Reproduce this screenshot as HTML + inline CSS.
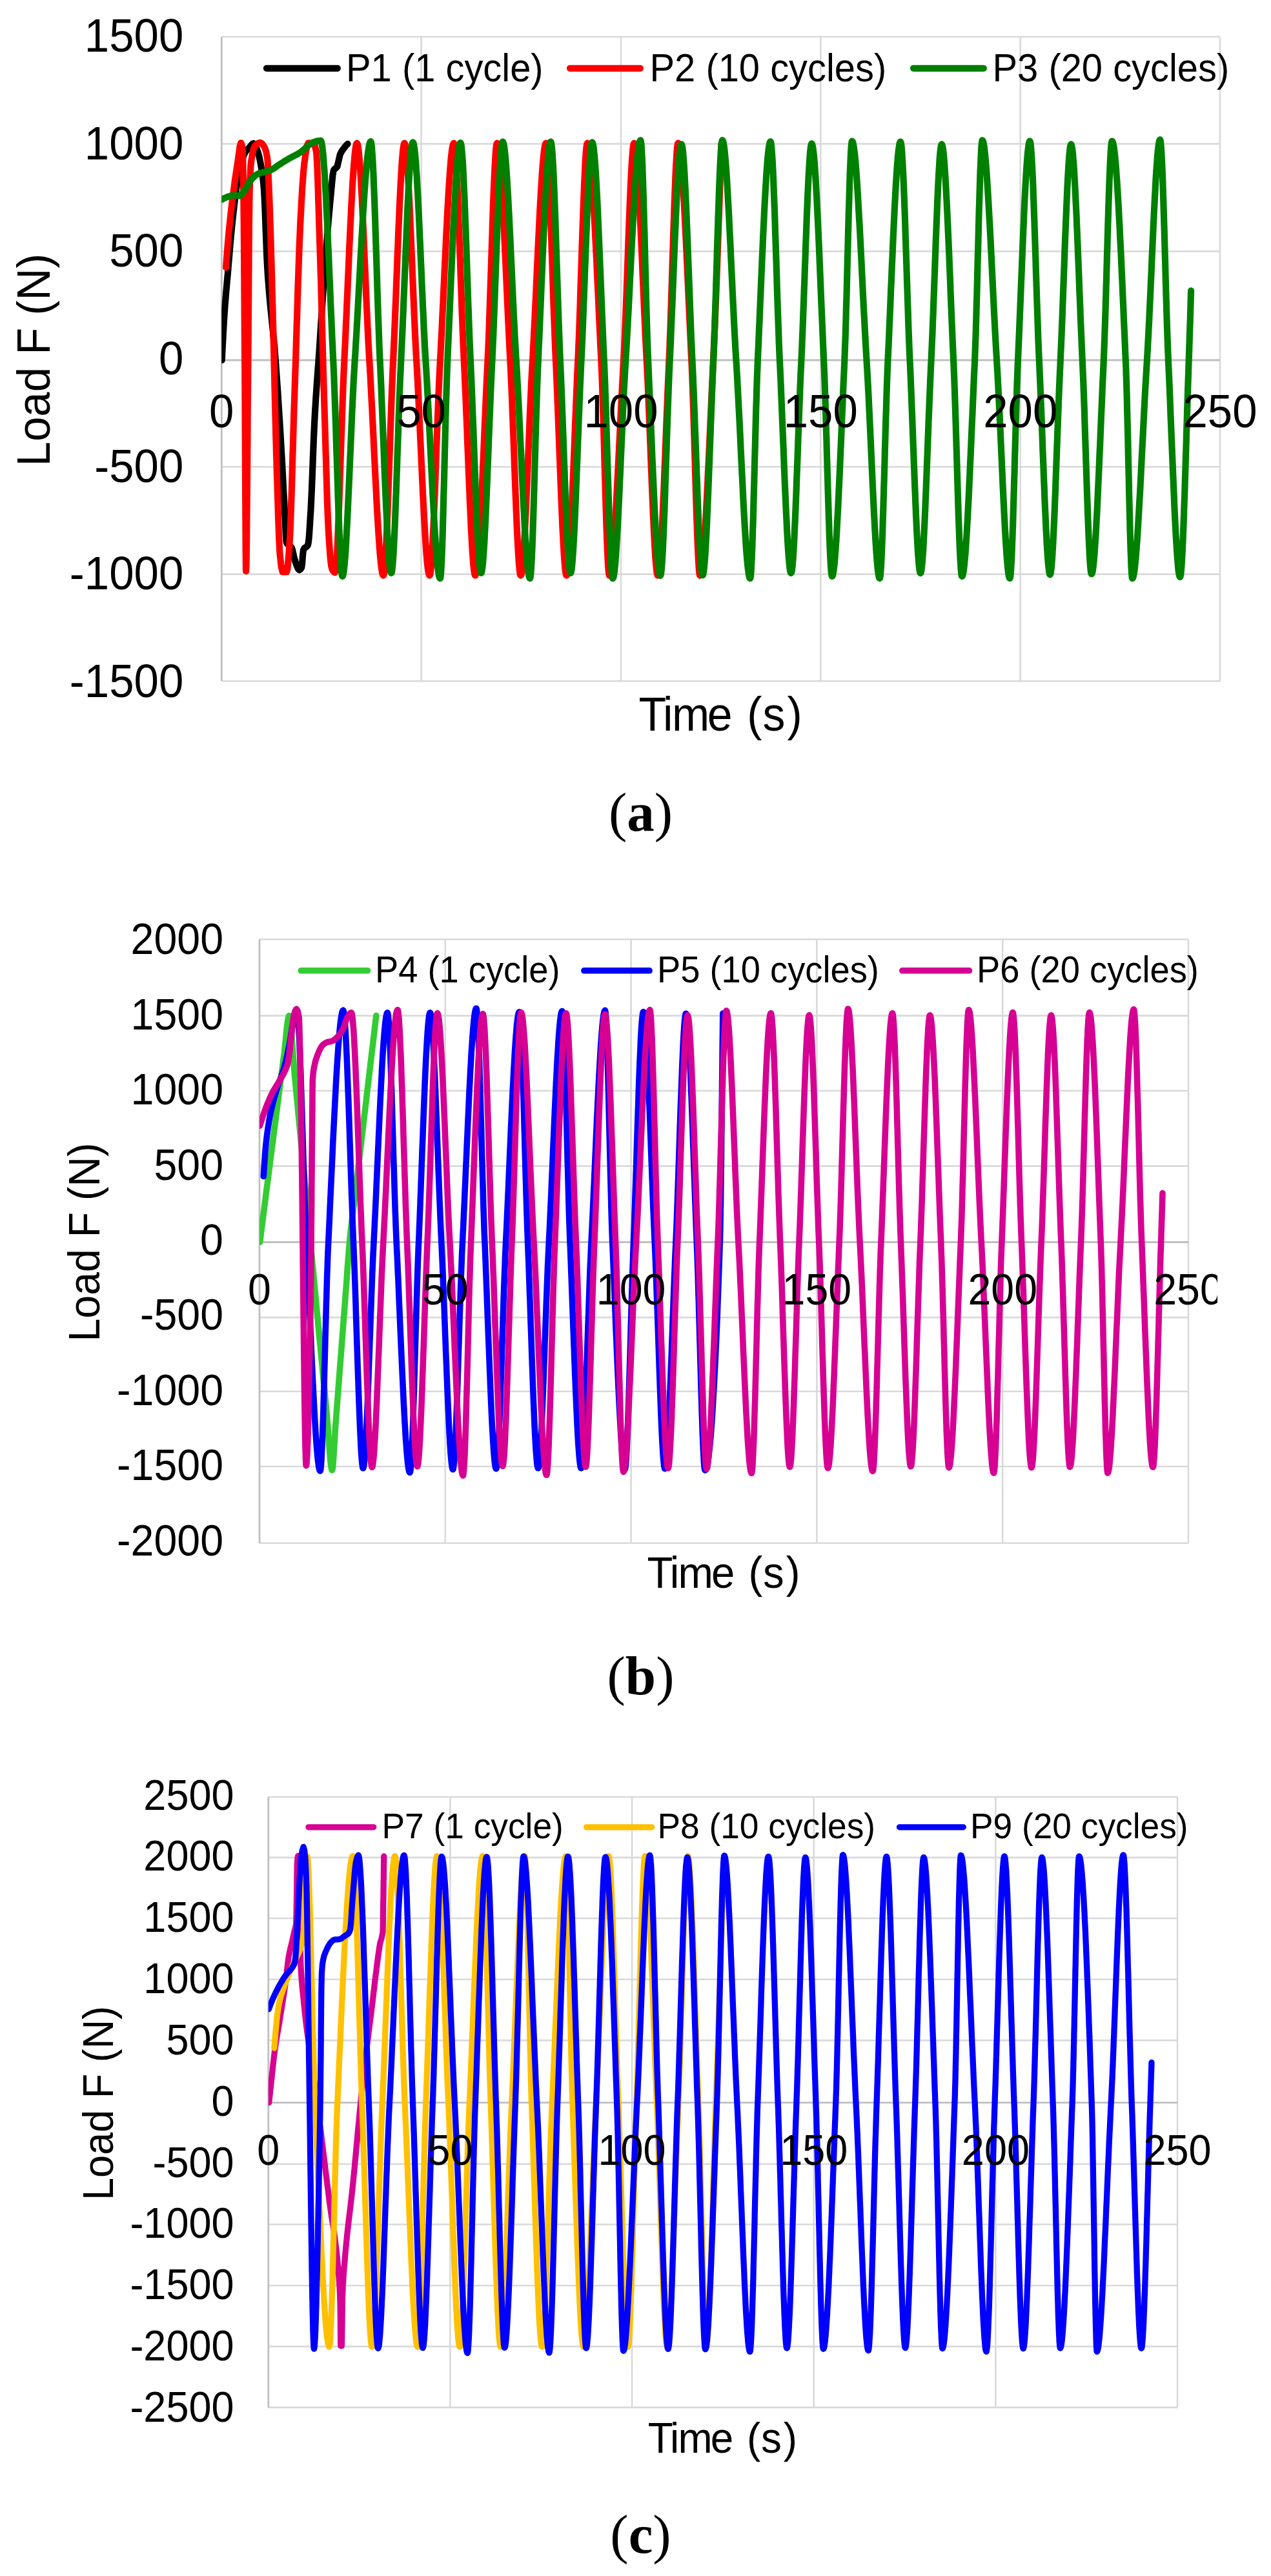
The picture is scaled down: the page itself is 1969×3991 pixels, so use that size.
<!DOCTYPE html>
<html lang="en"><head><meta charset="utf-8"><title>Load F versus time</title>
<style>
html,body{margin:0;padding:0;background:#fff;}
body{width:1969px;height:3991px;overflow:hidden;}
svg{display:block;font-family:"Liberation Sans",Arial,Helvetica,sans-serif;}
svg .cap{font-family:"Liberation Serif","Times New Roman",serif;}
</style></head><body>
<svg width="1969" height="3991" viewBox="0 0 1969 3991">
<rect width="1969" height="3991" fill="#ffffff"/>
<defs><clipPath id="clipb"><rect x="0" y="1380" width="1886" height="1300"/></clipPath></defs>
<g class="panel-a">
<g fill="none" stroke="#d9d9d9" stroke-width="2.6">
<line x1="343.3" y1="57" x2="1890" y2="57"/>
<line x1="343.3" y1="222.9" x2="1890" y2="222.9"/>
<line x1="343.3" y1="389.4" x2="1890" y2="389.4"/>
<line x1="343.3" y1="723.3" x2="1890" y2="723.3"/>
<line x1="343.3" y1="889.6" x2="1890" y2="889.6"/>
<line x1="343.3" y1="1055.2" x2="1890" y2="1055.2"/>
<line x1="652.6" y1="57" x2="652.6" y2="1055.2"/>
<line x1="962" y1="57" x2="962" y2="1055.2"/>
<line x1="1271.3" y1="57" x2="1271.3" y2="1055.2"/>
<line x1="1580.7" y1="57" x2="1580.7" y2="1055.2"/>
<line x1="1890" y1="57" x2="1890" y2="1055.2"/>
</g>
<g fill="none" stroke="#bfbfbf" stroke-width="2.8">
<line x1="343.3" y1="558" x2="1890" y2="558"/>
<line x1="343.3" y1="57" x2="343.3" y2="1055.2"/>
</g>
<clipPath id="plot-a"><rect x="343.3" y="37" width="1566.7" height="1038.2"/></clipPath>
<g clip-path="url(#plot-a)" fill="none" stroke-width="10.2" stroke-linecap="round" stroke-linejoin="round">
<path stroke="#000000" d="M343.8 558 L344.3 546.5 L344.9 535.3 L345.5 524.4 L346 514 L346.6 504.1 L347.1 494.8 L347.7 486.2 L348.5 474.4 L349.4 463.5 L350.2 453.4 L351.1 443.7 L351.9 434.3 L352.8 424.9 L353.6 415.2 L354.4 405.3 L355.3 395.1 L356.1 385.1 L357 375.3 L357.8 365.8 L358.7 356.9 L359.5 348.7 L360.7 337.3 L362 326.2 L363.2 315.5 L364.4 305.2 L365.7 295.7 L366.9 287 L368.1 279.3 L369.3 272.8 L370.9 265.6 L372.4 258.9 L373.9 252.8 L375.4 247.3 L376.9 242.6 L378.4 238.7 L380 235.8 L381.5 233.5 L383.1 231.8 L384.7 230.3 L386.3 228.7 L387.8 226.7 L389.4 224.6 L391 222.8 L392.5 222.1 L394.3 223.3 L396.1 226.5 L397.9 230.9 L399.6 235.8 L401.3 241.7 L403 249.7 L404.7 259.1 L406.1 267.3 L407.4 277.2 L408.7 290.3 L409.1 296 L409.5 303.4 L409.9 312.2 L410.4 322.1 L410.8 332.7 L411.2 344 L411.6 355.5 L412.1 367 L412.5 378.2 L412.9 388.9 L413.3 398.9 L413.8 407.7 L414.2 415.2 L415 427.9 L415.9 439.5 L416.7 450.2 L417.5 460 L418.4 469.3 L419.2 478 L420.1 486.3 L420.9 494.4 L421.7 502.5 L422.6 510.6 L423.4 518.9 L424.3 527.6 L425.1 536.8 L425.9 546.6 L426.8 557.2 L427.4 565.3 L428 573.7 L428.6 582.3 L429.2 591.1 L429.9 600.2 L430.5 609.4 L431.1 618.8 L431.7 628.4 L432.3 638.1 L433 648 L433.6 658 L434.2 668.1 L434.8 678.4 L435.4 688.7 L435.9 697.5 L436.5 706.5 L437 715.9 L437.5 725.4 L438 735.1 L438.5 745 L439 754.9 L439.5 764.8 L440.1 774.7 L440.6 784.5 L441.1 794.2 L441.6 803.7 L442.1 813 L442.6 823.9 L443.2 834.6 L443.7 840.2 L445.3 843.2 L447 844.7 L448.6 845.6 L450.3 846.7 L452 848.8 L453.5 853.8 L455.1 861.2 L456.7 867.4 L458.4 872.7 L460.2 877.8 L462 881.5 L463.8 883 L465.5 881.9 L467.3 879.1 L468.2 871.7 L469.1 859.4 L470 851.9 L471.8 849.1 L473.6 847.9 L475.4 846.7 L477.1 844.1 L477.8 840.6 L478.6 833.8 L479.3 824.4 L480 813.4 L480.7 801.6 L481.5 789.6 L481.8 782.7 L482.2 774.9 L482.6 766.3 L483 757 L483.4 747.2 L483.8 737 L484.2 726.6 L484.6 716 L485 705.5 L485.4 695.1 L485.8 685 L486.2 675.3 L486.6 666.2 L487 657.7 L487.4 650 L488 638.4 L488.7 627.4 L489.3 617 L490 607.2 L490.6 597.7 L491.3 588.5 L491.9 579.5 L492.6 570.6 L493.3 561.7 L493.9 552.6 L494.6 543.2 L495.2 533.5 L495.8 524.4 L496.4 515.1 L497 505.7 L497.6 496.3 L498.3 486.9 L498.9 477.5 L499.5 468.1 L500.1 458.9 L500.7 449.8 L501.3 440.8 L501.9 432 L502.5 423.5 L503.1 415.2 L503.8 405.1 L504.6 395.1 L505.4 385.3 L506.1 375.6 L506.9 366.2 L507.6 356.9 L508.4 347.8 L509.1 338.8 L509.9 330.2 L510.7 321.7 L511.4 313.6 L512.2 305.7 L512.9 298.1 L514.2 284 L515.5 270.9 L516.9 263.8 L518.7 261.5 L520.5 260.3 L522.4 258.3 L524.5 249.4 L526.7 239.6 L528.7 235.6 L530.6 232.6 L532.6 229.9 L534.6 227.3 L536.5 225 L538.5 222.9"/>
<path stroke="#ff0000" d="M350 414.4 L350.8 403.7 L351.6 393.4 L352.4 383.4 L353.2 373.9 L354 364.9 L354.8 356.5 L355.9 345.5 L357 335.1 L358.1 325.2 L359.2 315.9 L360.4 306.8 L361.5 298.1 L362.8 287.9 L364.1 278.2 L365.5 268.9 L366.8 260 L368.2 251.3 L369.9 238.7 L371.6 226.7 L373.3 221.3 L374.5 224.1 L375.6 231.9 L375.9 235.2 L376.1 241.1 L376.3 249.4 L376.5 259.5 L376.8 271.2 L377 284.2 L377.2 298.1 L377.3 302.7 L377.3 307.9 L377.4 313.8 L377.5 320.1 L377.5 327 L377.6 334.4 L377.7 342.2 L377.8 350.5 L377.8 359.1 L377.9 368.1 L378 377.3 L378 386.9 L378.1 396.8 L378.2 407 L378.2 417.3 L378.3 427.8 L378.4 438.4 L378.4 449.1 L378.5 459.9 L378.6 470.6 L378.6 481.4 L378.7 492 L378.8 502.6 L378.8 513.1 L378.9 523.4 L379 533.5 L379 542 L379.1 551 L379.1 560.4 L379.2 570.1 L379.3 580.2 L379.3 590.7 L379.4 601.5 L379.4 612.6 L379.5 624 L379.5 635.5 L379.6 647.2 L379.6 659.1 L379.7 671 L379.8 683 L379.8 695 L379.9 706.9 L379.9 718.8 L380 730.7 L380 742.4 L380.1 753.9 L380.1 765.2 L380.2 776.2 L380.3 787 L380.3 797.3 L380.4 807.3 L380.4 816.9 L380.5 826 L380.5 834.6 L380.6 842.7 L380.6 850.2 L380.7 857.1 L380.8 863.3 L380.8 868.8 L380.9 873.6 L380.9 877.5 L381 880.7 L381 883 L381.1 884.5 L381.1 884.9 L381.2 884.4 L381.3 882.9 L381.4 880.4 L381.5 877.1 L381.6 872.8 L381.7 867.8 L381.8 861.9 L381.9 855.4 L382 848.1 L382.1 840.2 L382.2 831.7 L382.3 822.6 L382.3 813.1 L382.4 803 L382.5 792.6 L382.6 781.7 L382.7 770.5 L382.8 759.1 L382.9 747.3 L383 735.4 L383.1 723.3 L383.2 711.2 L383.3 699 L383.4 686.8 L383.5 674.6 L383.5 662.4 L383.6 650.4 L383.7 638.5 L383.8 626.8 L383.9 615.3 L384 604.1 L384.1 593.3 L384.2 582.8 L384.3 572.7 L384.4 564.1 L384.4 554.9 L384.5 545.2 L384.6 535.1 L384.7 524.7 L384.8 514 L384.8 503.1 L384.9 492 L385 480.7 L385.1 469.4 L385.2 458 L385.2 446.6 L385.3 435.3 L385.4 424.1 L385.5 413 L385.5 402.1 L385.6 391.4 L385.7 381.2 L385.8 371.3 L385.9 361.8 L385.9 352.7 L386 344.1 L386.1 336 L386.2 328.5 L386.3 321.6 L386.3 315.4 L386.4 309.9 L386.5 305.1 L386.6 301.2 L386.6 298.1 L387.1 283.6 L387.6 271.9 L388.1 262.8 L388.5 256 L389 251.3 L391 238.5 L392.9 230.2 L394.9 226 L396.5 224.3 L398.1 222.9 L399.6 221.9 L401.2 221.2 L402.8 221 L404.4 221.4 L405.9 222.6 L407.5 224.5 L409.1 227 L410.6 229.9 L412.4 235.3 L414.2 245.5 L414.7 251.5 L415.3 260.7 L415.8 272.2 L416.4 285 L416.9 298.1 L417.2 304.9 L417.5 312.1 L417.8 319.7 L418.1 327.6 L418.3 335.9 L418.6 344.4 L418.9 353.3 L419.2 362.4 L419.5 371.8 L419.7 381.3 L420 391.1 L420.3 401.1 L420.6 411.2 L420.9 421.5 L421.2 431.8 L421.4 442.2 L421.7 452.6 L422 463.1 L422.3 473.5 L422.6 483.8 L422.8 494.1 L423.1 502.9 L423.3 511.9 L423.5 521.1 L423.8 530.6 L424 540.2 L424.3 550.1 L424.5 560 L424.7 569.8 L425 579.7 L425.2 589.7 L425.4 599.7 L425.7 609.7 L425.9 619.7 L426.1 629.6 L426.4 639.4 L426.6 649.1 L426.9 658.7 L427.1 668.2 L427.3 677.4 L427.6 686.4 L427.8 695.2 L428 703.7 L428.3 711.9 L428.5 719.8 L428.7 727.4 L429.1 739 L429.5 750.8 L429.8 762.7 L430.2 774.5 L430.6 786.1 L430.9 797.4 L431.3 808.3 L431.7 818.6 L432 828.2 L432.4 837 L432.8 844.9 L433.1 851.7 L433.5 857.3 L433.9 861.6 L435.8 878.7 L437.8 886.1 L439.4 886.1 L440.9 886.1 L442.5 886.1 L444.1 886.1 L445.2 882.4 L446.2 872.6 L447.3 859.1 L448.4 844.1 L448.7 839.3 L449 833.8 L449.4 827.5 L449.7 820.6 L450 813.1 L450.3 805.1 L450.6 796.5 L450.9 787.5 L451.2 778 L451.6 768.2 L451.9 758.1 L452.2 747.7 L452.5 737.1 L452.8 726.3 L453.1 715.5 L453.4 704.6 L453.8 693.7 L454.1 682.8 L454.4 672 L454.7 661.3 L455 650.8 L455.3 640.5 L455.6 630.4 L456 620.7 L456.3 611.4 L456.6 602.1 L456.9 592.7 L457.2 583.1 L457.5 573.4 L457.9 563.6 L458.2 553.6 L458.5 543.5 L458.8 533.2 L459.1 523 L459.4 512.7 L459.7 502.4 L460.1 492.2 L460.4 482 L460.7 471.9 L461 461.9 L461.3 452 L461.6 442.2 L461.9 432.6 L462.3 423.1 L462.6 413.9 L462.9 404.8 L463.2 396 L463.5 387.5 L463.8 379.3 L464.1 371.4 L464.5 363.8 L464.8 356.6 L465.1 349.7 L465.4 343.1 L465.7 337 L466.4 324.8 L467 312.9 L467.7 301.6 L468.3 290.9 L469 280.9 L469.7 271.8 L470.3 263.8 L471 256.9 L471.6 251.3 L473.6 237.1 L475.6 226.1 L477.5 221.7 L479.1 221.7 L480.7 221.7 L482.2 221.7 L483.8 221.7 L485.4 221.7 L487.6 225.1 L489.7 233.8 L490.1 236.5 L490.5 240.9 L490.8 246.9 L491.2 254.2 L491.6 262.7 L491.9 272.2 L492.3 282.6 L492.7 293.7 L493 305.2 L493.4 317.2 L493.8 329.3 L494.1 341.4 L494.5 353.3 L494.9 364.9 L495.2 376 L495.5 383.8 L495.7 391.8 L496 400.2 L496.3 408.7 L496.5 417.4 L496.8 426.3 L497.1 435.3 L497.3 444.5 L497.6 453.8 L497.8 463.2 L498.1 472.7 L498.4 482.2 L498.6 491.9 L498.9 501.6 L499.2 511.3 L499.4 521.1 L499.7 530.8 L499.9 540.6 L500.2 550.3 L500.5 559.9 L500.7 569.4 L501 578.8 L501.3 588.1 L501.5 597.3 L501.8 606.5 L502 615.5 L502.3 624.3 L502.6 633.1 L502.8 641.6 L503.1 650 L503.4 660 L503.7 670.2 L504 680.6 L504.3 691.1 L504.6 701.7 L505 712.4 L505.3 722.9 L505.6 733.4 L505.9 743.8 L506.2 753.9 L506.5 763.7 L506.8 773.2 L507.1 782.2 L507.4 790.8 L507.8 798.9 L508.1 806.4 L508.4 813.2 L508.7 819.3 L509 824.6 L509.8 838 L510.7 850.5 L511.5 861.6 L512.4 870.8 L513.3 877.4 L514.1 881 L515.7 884.1 L517.3 886.1 L518.8 886.9 L519.2 886.3 L519.6 884.8 L520 882.2 L520.4 878.7 L520.9 874.3 L521.3 869 L521.7 863 L522.1 856.2 L522.5 848.7 L522.9 840.5 L523.3 831.8 L523.7 822.5 L524.1 812.7 L524.5 802.4 L524.9 791.7 L525.3 780.6 L525.7 769.2 L526.1 757.6 L526.5 745.7 L526.9 733.7 L527.3 721.5 L527.7 709.4 L528.1 697.2 L528.5 685 L528.9 672.9 L529.4 660.9 L529.8 649.1 L530.2 637.5 L530.6 626.1 L531 615.1 L531.4 604.4 L531.8 594.1 L532.2 584.3 L532.6 575 L533 566.2 L533.4 558 L533.9 547.3 L534.5 536.3 L535 525.1 L535.5 513.6 L536 501.8 L536.6 489.9 L537.1 477.9 L537.6 465.8 L538.2 453.5 L538.7 441.3 L539.2 429 L539.8 416.8 L540.3 404.6 L540.8 392.5 L541.3 380.7 L541.9 369.1 L542.4 357.6 L542.9 346.4 L543.5 335.5 L544 324.8 L544.5 314.5 L545.1 304.6 L545.6 295 L546.1 285.9 L546.6 277.2 L547.2 269.1 L547.7 261.4 L548.2 254.4 L548.8 247.9 L549.3 242.1 L549.8 236.9 L550.4 232.5 L550.9 228.8 L551.4 225.8 L551.9 223.7 L552.5 222.3 L553 221.9 L553.5 222.4 L554 223.9 L554.6 226.2 L555.1 229.5 L555.6 233.6 L556.1 238.5 L556.6 244.1 L557.2 250.5 L557.7 257.5 L558.2 265.1 L558.7 273.4 L559.2 282.2 L559.7 291.4 L560.3 301.2 L560.8 311.3 L561.3 321.9 L561.8 332.8 L562.3 343.9 L562.9 355.3 L563.4 367 L563.9 378.7 L564.4 390.7 L564.9 402.8 L565.5 415 L566 427.2 L566.5 439.3 L567 451.4 L567.5 463.3 L568 475.1 L568.6 486.7 L569.1 498 L569.6 509 L570.1 519.6 L570.6 529.9 L571.2 539.7 L571.7 549.1 L572.2 558 L572.8 567.7 L573.4 577.9 L574 588.4 L574.5 599.2 L575.1 610.2 L575.7 621.6 L576.3 633.1 L576.9 644.8 L577.5 656.6 L578.1 668.5 L578.7 680.5 L579.2 692.5 L579.8 704.5 L580.4 716.4 L581 728.3 L581.6 740 L582.2 751.7 L582.8 763.1 L583.3 774.2 L583.9 785.1 L584.5 795.7 L585.1 805.9 L585.7 815.7 L586.3 825.1 L586.9 834.1 L587.4 842.5 L588 850.4 L588.6 857.7 L589.2 864.4 L589.8 870.5 L590.4 875.9 L591 880.5 L591.6 884.4 L592.1 887.5 L592.7 889.7 L593.3 891.1 L593.9 891.6 L594.3 891.1 L594.7 889.6 L595.1 887.2 L595.5 884 L596 879.8 L596.4 874.9 L596.8 869.2 L597.2 862.8 L597.6 855.8 L598 848.1 L598.4 839.8 L598.8 830.9 L599.2 821.6 L599.7 811.8 L600.1 801.6 L600.5 791 L600.9 780.1 L601.3 768.9 L601.7 757.4 L602.1 745.8 L602.5 733.9 L602.9 722 L603.3 710 L603.8 698 L604.2 686 L604.6 674.1 L605 662.3 L605.4 650.5 L605.8 639 L606.2 627.7 L606.6 616.6 L607 605.8 L607.5 595.4 L607.9 585.4 L608.3 575.8 L608.7 566.6 L609.1 558 L609.6 548 L610 537.6 L610.5 526.8 L611 515.8 L611.5 504.4 L611.9 492.9 L612.4 481.1 L612.9 469.2 L613.4 457.1 L613.8 445 L614.3 432.8 L614.8 420.6 L615.2 408.4 L615.7 396.3 L616.2 384.3 L616.7 372.6 L617.1 361 L617.6 349.7 L618.1 338.6 L618.6 327.7 L619 317.2 L619.5 307 L620 297.3 L620.5 287.9 L620.9 279 L621.4 270.6 L621.9 262.8 L622.3 255.5 L622.8 248.9 L623.3 242.8 L623.8 237.5 L624.2 232.9 L624.7 229 L625.2 226 L625.7 223.7 L626.1 222.4 L626.6 221.9 L627.1 222.4 L627.6 223.8 L628.1 226.2 L628.6 229.4 L629.1 233.5 L629.6 238.4 L630.1 244 L630.6 250.3 L631.1 257.3 L631.6 264.9 L632.1 273.1 L632.6 281.9 L633.1 291.1 L633.6 300.8 L634.1 311 L634.6 321.5 L635.1 332.3 L635.6 343.4 L636.1 354.8 L636.6 366.4 L637.1 378.2 L637.6 390.1 L638.1 402.2 L638.6 414.4 L639.1 426.6 L639.6 438.8 L640.1 450.8 L640.6 462.8 L641.1 474.6 L641.6 486.2 L642.1 497.5 L642.6 508.5 L643.1 519.3 L643.6 529.6 L644.1 539.5 L644.6 549 L645.1 558 L645.7 567.6 L646.2 577.7 L646.8 588.1 L647.3 598.8 L647.9 609.8 L648.4 621.1 L649 632.6 L649.5 644.2 L650.1 656 L650.6 667.9 L651.2 679.9 L651.7 691.9 L652.3 703.9 L652.8 715.8 L653.4 727.7 L653.9 739.4 L654.5 751.1 L655 762.5 L655.6 773.7 L656.1 784.6 L656.7 795.2 L657.2 805.5 L657.8 815.3 L658.3 824.8 L658.9 833.8 L659.4 842.2 L660 850.2 L660.5 857.5 L661.1 864.3 L661.6 870.4 L662.2 875.8 L662.7 880.5 L663.3 884.4 L663.8 887.5 L664.4 889.7 L664.9 891.1 L665.5 891.6 L665.9 891.1 L666.4 889.6 L666.8 887.1 L667.3 883.8 L667.7 879.6 L668.2 874.5 L668.6 868.7 L669 862.2 L669.5 855 L669.9 847.1 L670.4 838.7 L670.8 829.7 L671.3 820.2 L671.7 810.3 L672.1 799.9 L672.6 789.2 L673 778.1 L673.5 766.8 L673.9 755.2 L674.4 743.4 L674.8 731.5 L675.3 719.5 L675.7 707.5 L676.1 695.5 L676.6 683.5 L677 671.6 L677.5 659.8 L677.9 648.1 L678.4 636.7 L678.8 625.5 L679.2 614.6 L679.7 604.1 L680.1 593.9 L680.6 584.2 L681 574.9 L681.5 566.2 L681.9 558 L682.5 547.5 L683 536.6 L683.6 525.5 L684.2 514 L684.8 502.4 L685.3 490.6 L685.9 478.6 L686.5 466.5 L687 454.3 L687.6 442.1 L688.2 429.9 L688.7 417.6 L689.3 405.4 L689.9 393.4 L690.5 381.5 L691 369.8 L691.6 358.4 L692.2 347.1 L692.7 336.1 L693.3 325.5 L693.9 315.1 L694.4 305.1 L695 295.5 L695.6 286.3 L696.2 277.6 L696.7 269.4 L697.3 261.7 L697.9 254.6 L698.4 248.1 L699 242.3 L699.6 237.1 L700.1 232.6 L700.7 228.8 L701.3 225.8 L701.9 223.7 L702.4 222.4 L703 221.9 L703.4 222.4 L703.8 223.9 L704.3 226.2 L704.7 229.5 L705.1 233.6 L705.5 238.4 L706 244.1 L706.4 250.4 L706.8 257.4 L707.2 265.1 L707.7 273.3 L708.1 282.1 L708.5 291.3 L708.9 301.1 L709.4 311.2 L709.8 321.7 L710.2 332.6 L710.6 343.8 L711.1 355.2 L711.5 366.8 L711.9 378.6 L712.3 390.5 L712.8 402.6 L713.2 414.8 L713.6 427 L714 439.2 L714.5 451.2 L714.9 463.2 L715.3 474.9 L715.7 486.5 L716.2 497.8 L716.6 508.8 L717 519.5 L717.4 529.8 L717.9 539.7 L718.3 549.1 L718.7 558 L719.2 567.7 L719.7 577.8 L720.1 588.3 L720.6 599 L721.1 610.1 L721.6 621.4 L722 632.9 L722.5 644.6 L723 656.4 L723.5 668.3 L723.9 680.3 L724.4 692.3 L724.9 704.3 L725.4 716.2 L725.8 728.1 L726.3 739.8 L726.8 751.5 L727.3 762.9 L727.7 774 L728.2 784.9 L728.7 795.5 L729.2 805.8 L729.6 815.6 L730.1 825 L730.6 834 L731.1 842.4 L731.5 850.3 L732 857.7 L732.5 864.4 L733 870.5 L733.4 875.8 L733.9 880.5 L734.4 884.4 L734.9 887.5 L735.3 889.7 L735.8 891.1 L736.3 891.6 L736.8 891.1 L737.3 889.8 L737.9 887.7 L738.4 884.7 L738.9 881 L739.4 876.5 L739.9 871.3 L740.5 865.5 L741 859 L741.5 851.9 L742 844.3 L742.5 836.1 L743 827.4 L743.6 818.2 L744.1 808.7 L744.6 798.7 L745.1 788.3 L745.6 777.7 L746.2 766.7 L746.7 755.4 L747.2 744 L747.7 732.3 L748.2 720.5 L748.8 708.6 L749.3 696.7 L749.8 684.6 L750.3 672.6 L750.8 660.5 L751.3 648.5 L751.9 636.6 L752.4 624.8 L752.9 613.1 L753.4 601.6 L753.9 590.3 L754.5 579.2 L755 568.5 L755.5 558 L755.9 549.8 L756.3 540.9 L756.7 531.6 L757.1 521.8 L757.5 511.5 L757.9 500.8 L758.2 489.8 L758.6 478.4 L759 466.8 L759.4 455 L759.8 443 L760.2 430.9 L760.6 418.7 L761 406.5 L761.4 394.3 L761.8 382.2 L762.2 370.3 L762.6 358.5 L762.9 346.9 L763.3 335.6 L763.7 324.5 L764.1 313.8 L764.5 303.4 L764.9 293.4 L765.3 283.9 L765.7 274.9 L766.1 266.5 L766.5 258.6 L766.9 251.4 L767.3 244.8 L767.6 239 L768 234 L768.4 229.7 L768.8 226.4 L769.2 223.9 L769.6 222.4 L770 221.9 L770.5 222.4 L771.1 223.7 L771.6 225.9 L772.2 228.9 L772.7 232.7 L773.3 237.2 L773.8 242.5 L774.4 248.4 L774.9 254.9 L775.5 262.1 L776 269.8 L776.6 278.1 L777.1 286.9 L777.7 296.1 L778.2 305.8 L778.8 315.8 L779.3 326.3 L779.9 337 L780.4 348 L781 359.3 L781.5 370.8 L782.1 382.5 L782.6 394.4 L783.2 406.5 L783.7 418.7 L784.3 430.9 L784.8 443.1 L785.4 455.3 L785.9 467.4 L786.5 479.5 L787 491.4 L787.6 503.1 L788.1 514.7 L788.7 525.9 L789.2 537 L789.8 547.6 L790.3 558 L790.7 566.3 L791.2 575.2 L791.6 584.6 L792.1 594.4 L792.5 604.7 L793 615.3 L793.4 626.3 L793.8 637.5 L794.3 649 L794.7 660.6 L795.2 672.4 L795.6 684.4 L796.1 696.4 L796.5 708.4 L796.9 720.4 L797.4 732.3 L797.8 744.2 L798.3 756 L798.7 767.5 L799.2 778.8 L799.6 789.8 L800.1 800.5 L800.5 810.8 L800.9 820.7 L801.4 830.1 L801.8 839.1 L802.3 847.5 L802.7 855.3 L803.2 862.4 L803.6 868.9 L804 874.7 L804.5 879.6 L804.9 883.8 L805.4 887.2 L805.8 889.6 L806.3 891.1 L806.7 891.6 L807.2 891.1 L807.7 889.6 L808.2 887.2 L808.7 884 L809.2 879.9 L809.7 875 L810.2 869.3 L810.7 862.9 L811.2 855.9 L811.6 848.2 L812.1 839.9 L812.6 831.1 L813.1 821.8 L813.6 812 L814.1 801.8 L814.6 791.2 L815.1 780.3 L815.6 769.1 L816.1 757.7 L816.6 746 L817.1 734.2 L817.6 722.3 L818.1 710.3 L818.6 698.3 L819.1 686.3 L819.6 674.4 L820.1 662.5 L820.5 650.8 L821 639.3 L821.5 627.9 L822 616.8 L822.5 606 L823 595.6 L823.5 585.5 L824 575.9 L824.5 566.7 L825 558 L825.6 548 L826.1 537.7 L826.7 527 L827.2 516 L827.8 504.7 L828.4 493.1 L828.9 481.4 L829.5 469.5 L830.1 457.4 L830.6 445.3 L831.2 433.1 L831.7 420.9 L832.3 408.7 L832.9 396.6 L833.4 384.7 L834 372.9 L834.6 361.3 L835.1 350 L835.7 338.8 L836.2 328 L836.8 317.4 L837.4 307.3 L837.9 297.5 L838.5 288.1 L839.1 279.2 L839.6 270.8 L840.2 262.9 L840.7 255.6 L841.3 248.9 L841.9 242.9 L842.4 237.6 L843 232.9 L843.6 229.1 L844.1 226 L844.7 223.7 L845.2 222.4 L845.8 221.9 L846.2 222.4 L846.6 223.8 L847 226.2 L847.4 229.5 L847.8 233.5 L848.2 238.4 L848.7 244 L849.1 250.4 L849.5 257.4 L849.9 265 L850.3 273.2 L850.7 282 L851.1 291.2 L851.5 301 L851.9 311.1 L852.3 321.6 L852.7 332.5 L853.1 343.6 L853.6 355 L854 366.6 L854.4 378.4 L854.8 390.3 L855.2 402.4 L855.6 414.6 L856 426.8 L856.4 439 L856.8 451 L857.2 463 L857.6 474.8 L858 486.3 L858.5 497.7 L858.9 508.7 L859.3 519.4 L859.7 529.7 L860.1 539.6 L860.5 549.1 L860.9 558 L861.4 567.7 L861.8 577.7 L862.3 588.2 L862.7 598.9 L863.2 610 L863.6 621.3 L864.1 632.8 L864.5 644.4 L865 656.2 L865.4 668.1 L865.9 680.1 L866.3 692.1 L866.8 704.1 L867.3 716 L867.7 727.9 L868.2 739.7 L868.6 751.3 L869.1 762.7 L869.5 773.9 L870 784.8 L870.4 795.4 L870.9 805.6 L871.3 815.5 L871.8 824.9 L872.3 833.9 L872.7 842.3 L873.2 850.3 L873.6 857.6 L874.1 864.3 L874.5 870.4 L875 875.8 L875.4 880.5 L875.9 884.4 L876.3 887.5 L876.8 889.7 L877.2 891.1 L877.7 891.6 L878.2 891.1 L878.7 889.8 L879.1 887.6 L879.6 884.5 L880.1 880.7 L880.6 876.1 L881 870.8 L881.5 864.9 L882 858.2 L882.5 851 L882.9 843.2 L883.4 834.9 L883.9 826 L884.4 816.7 L884.8 807 L885.3 796.9 L885.8 786.4 L886.3 775.6 L886.7 764.5 L887.2 753.2 L887.7 741.6 L888.2 729.9 L888.6 718.1 L889.1 706.1 L889.6 694.2 L890.1 682.2 L890.5 670.2 L891 658.2 L891.5 646.3 L892 634.5 L892.4 622.8 L892.9 611.4 L893.4 600.1 L893.9 589.1 L894.3 578.4 L894.8 568 L895.3 558 L895.7 549.4 L896.1 540.2 L896.5 530.6 L896.9 520.5 L897.3 510 L897.7 499.1 L898.1 487.9 L898.5 476.5 L898.9 464.8 L899.2 452.9 L899.6 440.9 L900 428.7 L900.4 416.5 L900.8 404.3 L901.2 392.2 L901.6 380.2 L902 368.3 L902.4 356.6 L902.8 345.2 L903.2 333.9 L903.6 323 L904 312.3 L904.4 302.1 L904.8 292.3 L905.2 282.9 L905.6 274 L906 265.7 L906.3 258 L906.7 250.8 L907.1 244.4 L907.5 238.7 L907.9 233.7 L908.3 229.6 L908.7 226.3 L909.1 223.9 L909.5 222.4 L909.9 221.9 L910.5 222.3 L911.1 223.5 L911.6 225.5 L912.2 228.3 L912.8 231.8 L913.4 235.9 L913.9 240.8 L914.5 246.3 L915.1 252.4 L915.7 259 L916.3 266.3 L916.8 274 L917.4 282.3 L918 291 L918.6 300.1 L919.2 309.7 L919.7 319.7 L920.3 330 L920.9 340.6 L921.5 351.6 L922 362.8 L922.6 374.2 L923.2 385.9 L923.8 397.9 L924.4 410 L924.9 422.3 L925.5 434.7 L926.1 447.2 L926.7 459.7 L927.3 472.2 L927.8 484.7 L928.4 497.2 L929 509.6 L929.6 521.9 L930.1 534.1 L930.7 546.2 L931.3 558 L931.6 565.2 L932 573 L932.3 581.5 L932.7 590.6 L933 600.1 L933.4 610.2 L933.7 620.6 L934 631.5 L934.4 642.7 L934.7 654.1 L935.1 665.8 L935.4 677.7 L935.8 689.7 L936.1 701.8 L936.4 713.9 L936.8 726 L937.1 738.1 L937.5 750.1 L937.8 762 L938.2 773.6 L938.5 785 L938.9 796.1 L939.2 806.8 L939.5 817.1 L939.9 826.9 L940.2 836.3 L940.6 845 L940.9 853.2 L941.3 860.8 L941.6 867.6 L941.9 873.7 L942.3 878.9 L942.6 883.4 L943 886.9 L943.3 889.5 L943.7 891.1 L944 891.6 L944.6 891.1 L945.2 889.8 L945.8 887.7 L946.4 884.8 L947 881.1 L947.6 876.6 L948.2 871.5 L948.8 865.7 L949.4 859.2 L950 852.2 L950.6 844.6 L951.2 836.5 L951.8 827.8 L952.4 818.7 L953 809.2 L953.6 799.3 L954.2 789 L954.8 778.3 L955.3 767.4 L955.9 756.2 L956.5 744.7 L957.1 733.1 L957.7 721.3 L958.3 709.4 L958.9 697.5 L959.5 685.4 L960.1 673.4 L960.7 661.3 L961.3 649.2 L961.9 637.3 L962.5 625.4 L963.1 613.6 L963.7 602 L964.3 590.7 L964.9 579.5 L965.5 568.6 L966.1 558 L966.5 549.9 L967 541.2 L967.4 531.9 L967.9 522.2 L968.3 511.9 L968.7 501.3 L969.2 490.3 L969.6 479 L970 467.5 L970.5 455.7 L970.9 443.7 L971.4 431.6 L971.8 419.4 L972.2 407.1 L972.7 394.9 L973.1 382.8 L973.5 370.9 L974 359.1 L974.4 347.5 L974.9 336.1 L975.3 325 L975.7 314.2 L976.2 303.8 L976.6 293.8 L977 284.2 L977.5 275.2 L977.9 266.7 L978.4 258.8 L978.8 251.5 L979.2 245 L979.7 239.1 L980.1 234 L980.5 229.8 L981 226.4 L981.4 223.9 L981.9 222.4 L982.3 221.9 L982.8 222.4 L983.3 223.7 L983.9 226 L984.4 229.1 L984.9 233 L985.4 237.6 L986 243 L986.5 249 L987 255.7 L987.5 263 L988.1 270.9 L988.6 279.3 L989.1 288.3 L989.6 297.7 L990.2 307.5 L990.7 317.7 L991.2 328.2 L991.7 339.1 L992.3 350.3 L992.8 361.6 L993.3 373.2 L993.8 385 L994.4 397 L994.9 409.1 L995.4 421.3 L995.9 433.5 L996.5 445.6 L997 457.8 L997.5 469.8 L998 481.7 L998.6 493.4 L999.1 504.9 L999.6 516.2 L1000.1 527.1 L1000.7 537.8 L1001.2 548.1 L1001.7 558 L1002.2 566.7 L1002.6 576 L1003.1 585.7 L1003.6 595.8 L1004 606.3 L1004.5 617.1 L1005 628.2 L1005.4 639.5 L1005.9 651.1 L1006.4 662.9 L1006.8 674.7 L1007.3 686.7 L1007.8 698.7 L1008.2 710.6 L1008.7 722.6 L1009.2 734.5 L1009.6 746.3 L1010.1 758 L1010.6 769.4 L1011.1 780.6 L1011.5 791.5 L1012 802 L1012.5 812.2 L1012.9 822 L1013.4 831.2 L1013.9 840 L1014.3 848.3 L1014.8 856 L1015.3 863 L1015.7 869.3 L1016.2 875 L1016.7 879.9 L1017.1 884 L1017.6 887.3 L1018.1 889.6 L1018.5 891.1 L1019 891.6 L1019.5 891.1 L1019.9 889.8 L1020.4 887.6 L1020.9 884.6 L1021.4 880.8 L1021.8 876.3 L1022.3 871 L1022.8 865.1 L1023.3 858.5 L1023.7 851.4 L1024.2 843.6 L1024.7 835.3 L1025.1 826.6 L1025.6 817.3 L1026.1 807.6 L1026.6 797.6 L1027 787.1 L1027.5 776.4 L1028 765.3 L1028.5 754 L1028.9 742.5 L1029.4 730.8 L1029.9 719 L1030.4 707.1 L1030.8 695.1 L1031.3 683.1 L1031.8 671.1 L1032.2 659.1 L1032.7 647.1 L1033.2 635.3 L1033.7 623.6 L1034.1 612 L1034.6 600.7 L1035.1 589.6 L1035.6 578.7 L1036 568.2 L1036.5 558 L1036.9 549.5 L1037.3 540.5 L1037.6 531 L1038 521 L1038.4 510.6 L1038.8 499.8 L1039.1 488.7 L1039.5 477.2 L1039.9 465.6 L1040.3 453.7 L1040.7 441.7 L1041 429.6 L1041.4 417.4 L1041.8 405.2 L1042.2 393 L1042.6 381 L1042.9 369.1 L1043.3 357.4 L1043.7 345.8 L1044.1 334.6 L1044.4 323.6 L1044.8 312.9 L1045.2 302.6 L1045.6 292.7 L1046 283.3 L1046.3 274.4 L1046.7 266 L1047.1 258.2 L1047.5 251.1 L1047.9 244.6 L1048.2 238.8 L1048.6 233.8 L1049 229.7 L1049.4 226.3 L1049.7 223.9 L1050.1 222.4 L1050.5 221.9 L1051.1 222.3 L1051.6 223.6 L1052.2 225.6 L1052.7 228.4 L1053.3 232 L1053.9 236.3 L1054.4 241.2 L1055 246.8 L1055.5 253 L1056.1 259.8 L1056.7 267.1 L1057.2 275 L1057.8 283.4 L1058.3 292.2 L1058.9 301.5 L1059.5 311.2 L1060 321.3 L1060.6 331.7 L1061.1 342.4 L1061.7 353.4 L1062.2 364.7 L1062.8 376.2 L1063.4 387.9 L1063.9 399.9 L1064.5 412.1 L1065 424.4 L1065.6 436.7 L1066.2 449.1 L1066.7 461.6 L1067.3 474 L1067.8 486.3 L1068.4 498.6 L1069 510.8 L1069.5 522.9 L1070.1 534.8 L1070.6 546.5 L1071.2 558 L1071.6 565.4 L1071.9 573.5 L1072.3 582.2 L1072.6 591.4 L1073 601.1 L1073.3 611.3 L1073.7 621.9 L1074.1 632.8 L1074.4 644.1 L1074.8 655.6 L1075.1 667.3 L1075.5 679.2 L1075.8 691.2 L1076.2 703.2 L1076.6 715.3 L1076.9 727.4 L1077.3 739.5 L1077.6 751.4 L1078 763.2 L1078.3 774.8 L1078.7 786.1 L1079 797 L1079.4 807.7 L1079.8 817.9 L1080.1 827.6 L1080.5 836.9 L1080.8 845.6 L1081.2 853.7 L1081.5 861.1 L1081.9 867.9 L1082.3 873.9 L1082.6 879.1 L1083 883.5 L1083.3 887 L1083.7 889.5 L1084 891.1 L1084.4 891.6 L1085 891.2 L1085.5 889.9 L1086.1 887.9 L1086.6 885.1 L1087.2 881.6 L1087.7 877.4 L1088.3 872.5 L1088.9 867 L1089.4 860.8 L1090 854.1 L1090.5 846.8 L1091.1 839 L1091.6 830.6 L1092.2 821.9 L1092.8 812.6 L1093.3 803 L1093.9 793 L1094.4 782.6 L1095 771.9 L1095.5 760.9 L1096.1 749.6 L1096.6 738.1 L1097.2 726.4 L1097.8 714.6 L1098.3 702.6 L1098.9 690.6 L1099.4 678.4 L1100 666.2 L1100.5 653.9 L1101.1 641.6 L1101.7 629.4 L1102.2 617.2 L1102.8 605.1 L1103.3 593.1 L1103.9 581.2 L1104.4 569.5 L1105 558 L1105.3 550.9 L1105.7 543.6 L1106 536.2 L1106.4 528.6 L1106.7 520.9 L1107 513.1 L1107.4 505.2 L1107.7 497.1 L1108 488.8 L1108.4 480.5 L1108.7 472.1 L1109.1 463.5 L1109.4 454.8 L1109.7 446 L1110.1 437.1 L1110.4 428.1 L1110.7 419 L1111.1 409.8 L1111.4 400.5 L1111.8 391.1 L1112.1 381.7 L1112.4 372.3 L1112.8 362.8 L1113.1 353.2 L1113.4 343.5 L1113.8 333.8 L1114.1 324 L1114.5 314.1 L1114.8 304.2 L1115.1 294.2 L1115.5 284.1 L1115.8 274 L1116.1 263.9 L1116.5 253.7 L1116.8 243.5 L1117.2 233.2 L1117.5 222.9"/>
<path stroke="#008000" d="M343.8 309 L345.4 308.1 L347 307.3 L348.7 306.6 L350.3 305.9 L352 305.2 L353.6 304.7 L355.2 304.2 L356.9 303.6 L358.5 303.1 L360.2 302.7 L361.8 302.5 L363.4 302.4 L365 302.5 L366.6 302.8 L368.2 303.1 L369.7 303.4 L371.3 303.5 L372.9 302.9 L374.5 301.3 L376 299 L377.6 296.5 L379.2 294.2 L380.8 291.7 L382.5 289 L384.1 286.1 L385.7 283.2 L387.4 280.7 L389 278.6 L390.7 276.8 L392.4 275.1 L394.1 273.5 L395.8 272 L397.4 270.7 L399.1 269.7 L400.8 268.9 L402.4 268.3 L404.1 267.8 L405.7 267.4 L407.4 267 L409 266.6 L410.6 266.1 L412.3 265.7 L413.9 265.2 L415.6 264.7 L417.2 264.2 L418.8 263.7 L420.5 263 L422.2 262.2 L423.9 261.2 L425.5 260 L427.2 258.8 L428.9 257.6 L430.6 256.4 L432.3 255.2 L433.9 254.2 L435.4 253.2 L437 252.2 L438.6 251.2 L440.1 250.2 L441.7 249.3 L443.3 248.3 L444.9 247.4 L446.4 246.4 L448 245.5 L449.6 244.6 L451.2 243.7 L452.8 242.9 L454.5 242 L456.1 241.2 L457.7 240.4 L459.3 239.6 L460.9 238.7 L462.5 237.8 L464.1 236.8 L465.7 235.8 L467.2 234.6 L468.8 233.4 L470.3 232 L471.8 230.6 L473.4 229.1 L474.9 227.7 L476.4 226.4 L478 225.1 L479.5 224.1 L481.1 223 L482.8 222 L484.4 221.1 L486 220.2 L487.7 219.5 L489.3 219 L491.2 218.6 L493.1 218.2 L494.9 218 L496.8 217.9 L497.3 218.3 L497.8 219.6 L498.4 221.8 L498.9 224.8 L499.4 228.5 L499.9 233 L500.5 238.2 L501 244.1 L501.5 250.6 L502 257.7 L502.6 265.4 L503.1 273.6 L503.6 282.4 L504.1 291.6 L504.7 301.2 L505.2 311.3 L505.7 321.7 L506.2 332.5 L506.8 343.5 L507.3 354.8 L507.8 366.4 L508.3 378.2 L508.9 390.1 L509.4 402.3 L509.9 414.7 L510.4 427 L511 439.5 L511.5 451.9 L512 464.3 L512.5 476.6 L513.1 488.8 L513.6 500.9 L514.1 512.8 L514.6 524.5 L515.2 535.9 L515.7 547.1 L516.2 558 L516.6 566 L517 574.7 L517.4 583.8 L517.7 593.5 L518.1 603.6 L518.5 614.1 L518.9 624.9 L519.3 636.1 L519.7 647.5 L520.1 659.2 L520.5 671 L520.8 683 L521.2 695 L521.6 707.1 L522 719.2 L522.4 731.3 L522.8 743.3 L523.2 755.1 L523.5 766.8 L523.9 778.2 L524.3 789.4 L524.7 800.2 L525.1 810.7 L525.5 820.7 L525.9 830.3 L526.2 839.4 L526.6 847.9 L527 855.9 L527.4 863.2 L527.8 869.8 L528.2 875.6 L528.6 880.7 L529 885 L529.3 888.4 L529.7 890.9 L530.1 892.4 L530.5 892.9 L531 892.4 L531.5 890.9 L532.1 888.4 L532.6 885.1 L533.1 880.9 L533.6 875.8 L534.1 870 L534.7 863.5 L535.2 856.2 L535.7 848.4 L536.2 839.9 L536.7 830.9 L537.2 821.4 L537.8 811.4 L538.3 801 L538.8 790.2 L539.3 779.1 L539.8 767.8 L540.4 756.1 L540.9 744.3 L541.4 732.4 L541.9 720.3 L542.4 708.3 L543 696.2 L543.5 684.2 L544 672.2 L544.5 660.4 L545 648.7 L545.5 637.2 L546.1 625.9 L546.6 615 L547.1 604.4 L547.6 594.2 L548.1 584.4 L548.7 575.1 L549.2 566.3 L549.7 558 L550.4 547.4 L551 536.5 L551.7 525.3 L552.4 513.8 L553 502.1 L553.7 490.2 L554.4 478.2 L555 466 L555.7 453.7 L556.3 441.4 L557 429 L557.7 416.7 L558.3 404.4 L559 392.3 L559.7 380.3 L560.3 368.6 L561 357 L561.7 345.7 L562.3 334.6 L563 323.8 L563.7 313.3 L564.3 303.2 L565 293.5 L565.7 284.3 L566.3 275.5 L567 267.2 L567.7 259.5 L568.3 252.3 L569 245.7 L569.6 239.8 L570.3 234.6 L571 230 L571.6 226.2 L572.3 223.2 L573 221 L573.6 219.7 L574.3 219.3 L574.7 219.8 L575.1 221.3 L575.5 223.7 L575.8 227.1 L576.2 231.3 L576.6 236.3 L577 242.1 L577.4 248.6 L577.8 255.9 L578.2 263.7 L578.6 272.2 L578.9 281.2 L579.3 290.7 L579.7 300.6 L580.1 311 L580.5 321.8 L580.9 332.9 L581.3 344.2 L581.6 355.9 L582 367.7 L582.4 379.6 L582.8 391.8 L583.2 404 L583.6 416.4 L584 428.7 L584.3 440.9 L584.7 453 L585.1 464.9 L585.5 476.7 L585.9 488.2 L586.3 499.4 L586.7 510.3 L587.1 520.8 L587.4 530.8 L587.8 540.4 L588.2 549.5 L588.6 558 L589.1 568.4 L589.6 579.1 L590.1 590.2 L590.6 601.5 L591 613.1 L591.5 624.8 L592 636.8 L592.5 648.8 L593 661 L593.5 673.2 L594 685.4 L594.5 697.6 L595 709.8 L595.4 721.8 L595.9 733.8 L596.4 745.6 L596.9 757.3 L597.4 768.6 L597.9 779.7 L598.4 790.4 L598.9 800.8 L599.4 810.8 L599.8 820.4 L600.3 829.5 L600.8 838.1 L601.3 846.1 L601.8 853.5 L602.3 860.4 L602.8 866.5 L603.3 872 L603.8 876.7 L604.2 880.6 L604.7 883.8 L605.2 886.1 L605.7 887.5 L606.2 887.9 L606.6 887.4 L607 885.9 L607.5 883.3 L607.9 879.9 L608.3 875.6 L608.7 870.4 L609.1 864.4 L609.6 857.7 L610 850.3 L610.4 842.3 L610.8 833.7 L611.2 824.5 L611.7 814.7 L612.1 804.6 L612.5 794 L612.9 783 L613.3 771.7 L613.8 760.1 L614.2 748.3 L614.6 736.3 L615 724.2 L615.4 712 L615.8 699.8 L616.3 687.6 L616.7 675.5 L617.1 663.4 L617.5 651.5 L617.9 639.8 L618.4 628.3 L618.8 617 L619.2 606.1 L619.6 595.6 L620 585.4 L620.5 575.8 L620.9 566.6 L621.3 558 L621.8 547.7 L622.3 537.1 L622.8 526.2 L623.3 515 L623.8 503.5 L624.3 491.7 L624.8 479.9 L625.3 467.8 L625.8 455.7 L626.3 443.4 L626.8 431.2 L627.3 418.9 L627.8 406.7 L628.3 394.5 L628.8 382.6 L629.3 370.8 L629.8 359.2 L630.3 347.9 L630.7 336.8 L631.2 326 L631.7 315.5 L632.2 305.3 L632.7 295.6 L633.2 286.2 L633.7 277.4 L634.2 269 L634.7 261.2 L635.2 254 L635.7 247.4 L636.2 241.4 L636.7 236.1 L637.2 231.5 L637.7 227.6 L638.2 224.6 L638.7 222.4 L639.2 221 L639.7 220.6 L640.2 221.1 L640.8 222.5 L641.3 224.9 L641.8 228.2 L642.4 232.3 L642.9 237.2 L643.4 242.9 L644 249.3 L644.5 256.3 L645 264 L645.6 272.3 L646.1 281.1 L646.6 290.4 L647.2 300.2 L647.7 310.4 L648.2 321 L648.8 331.9 L649.3 343.1 L649.8 354.5 L650.3 366.2 L650.9 378 L651.4 390 L651.9 402.2 L652.5 414.5 L653 426.7 L653.5 438.9 L654.1 451 L654.6 463 L655.1 474.8 L655.7 486.4 L656.2 497.7 L656.7 508.8 L657.3 519.5 L657.8 529.8 L658.3 539.7 L658.9 549.1 L659.4 558 L660 567.9 L660.6 578.2 L661.2 588.8 L661.8 599.8 L662.4 611 L663 622.5 L663.7 634.2 L664.3 646 L664.9 658 L665.5 670.1 L666.1 682.2 L666.7 694.4 L667.3 706.5 L667.9 718.6 L668.5 730.7 L669.1 742.6 L669.7 754.4 L670.3 765.9 L671 777.3 L671.6 788.3 L672.2 799 L672.8 809.4 L673.4 819.3 L674 828.9 L674.6 837.9 L675.2 846.5 L675.8 854.5 L676.4 861.9 L677 868.7 L677.6 874.9 L678.3 880.3 L678.9 885 L679.5 889 L680.1 892.1 L680.7 894.4 L681.3 895.8 L681.9 896.2 L682.2 895.7 L682.5 894.1 L682.8 891.4 L683.1 887.8 L683.4 883.3 L683.7 877.9 L684.1 871.7 L684.4 864.7 L684.7 857 L685 848.6 L685.3 839.6 L685.6 830.1 L685.9 820 L686.2 809.5 L686.5 798.6 L686.8 787.3 L687.1 775.7 L687.4 763.9 L687.8 751.8 L688.1 739.6 L688.4 727.2 L688.7 714.9 L689 702.6 L689.3 690.3 L689.6 678.2 L689.9 666.1 L690.2 654.3 L690.5 642.7 L690.8 631.4 L691.1 620.5 L691.5 610 L691.8 599.9 L692.1 590.3 L692.4 581.3 L692.7 572.9 L693 565.1 L693.3 558 L693.8 545.8 L694.4 533.5 L694.9 521.1 L695.5 508.6 L696 496 L696.6 483.3 L697.1 470.7 L697.6 458 L698.2 445.4 L698.7 432.9 L699.3 420.4 L699.8 408.1 L700.4 395.9 L700.9 384 L701.4 372.3 L702 360.9 L702.5 349.7 L703.1 338.8 L703.6 328.2 L704.2 318 L704.7 308.1 L705.3 298.6 L705.8 289.5 L706.3 280.8 L706.9 272.7 L707.4 265 L708 257.9 L708.5 251.3 L709.1 245.3 L709.6 239.8 L710.1 235.1 L710.7 231 L711.2 227.5 L711.8 224.8 L712.3 222.8 L712.9 221.6 L713.4 221.2 L713.8 221.7 L714.2 223.2 L714.7 225.5 L715.1 228.7 L715.5 232.8 L715.9 237.7 L716.3 243.2 L716.8 249.5 L717.2 256.5 L717.6 264.1 L718 272.3 L718.4 281 L718.8 290.2 L719.3 299.9 L719.7 310 L720.1 320.5 L720.5 331.3 L720.9 342.5 L721.4 353.8 L721.8 365.4 L722.2 377.2 L722.6 389.1 L723 401.2 L723.5 413.4 L723.9 425.7 L724.3 437.8 L724.7 450 L725.1 461.9 L725.5 473.8 L726 485.4 L726.4 496.8 L726.8 508 L727.2 518.8 L727.6 529.2 L728.1 539.3 L728.5 548.9 L728.9 558 L729.4 567.7 L729.8 577.8 L730.3 588.3 L730.7 599.1 L731.2 610.3 L731.6 621.7 L732.1 633.4 L732.5 645.2 L733 657.2 L733.5 669.3 L733.9 681.5 L734.4 693.6 L734.8 705.8 L735.3 717.9 L735.7 730 L736.2 741.9 L736.6 753.7 L737.1 765.2 L737.6 776.5 L738 787.5 L738.5 798.1 L738.9 808.3 L739.4 818.1 L739.8 827.5 L740.3 836.3 L740.7 844.6 L741.2 852.3 L741.7 859.3 L742.1 865.7 L742.6 871.3 L743 876.2 L743.5 880.3 L743.9 883.6 L744.4 886 L744.8 887.4 L745.3 887.9 L745.8 887.4 L746.3 886 L746.7 883.6 L747.2 880.3 L747.7 876.2 L748.2 871.3 L748.6 865.7 L749.1 859.3 L749.6 852.3 L750.1 844.6 L750.6 836.3 L751 827.5 L751.5 818.2 L752 808.4 L752.5 798.1 L752.9 787.5 L753.4 776.5 L753.9 765.3 L754.4 753.7 L754.9 742 L755.3 730 L755.8 718 L756.3 705.9 L756.8 693.7 L757.2 681.5 L757.7 669.4 L758.2 657.3 L758.7 645.3 L759.2 633.4 L759.6 621.8 L760.1 610.3 L760.6 599.2 L761.1 588.3 L761.5 577.8 L762 567.7 L762.5 558 L762.9 548.8 L763.4 539.2 L763.8 529.1 L764.3 518.6 L764.7 507.8 L765.1 496.6 L765.6 485.1 L766 473.4 L766.5 461.5 L766.9 449.5 L767.3 437.3 L767.8 425.1 L768.2 412.8 L768.7 400.5 L769.1 388.3 L769.5 376.4 L770 364.5 L770.4 352.9 L770.9 341.4 L771.3 330.3 L771.8 319.4 L772.2 308.8 L772.6 298.7 L773.1 288.9 L773.5 279.7 L774 270.9 L774.4 262.7 L774.8 255 L775.3 248 L775.7 241.7 L776.2 236.1 L776.6 231.2 L777 227.1 L777.5 223.9 L777.9 221.5 L778.4 220.1 L778.8 219.6 L779.4 220.1 L779.9 221.5 L780.5 223.8 L781.1 227 L781.6 231 L782.2 235.9 L782.8 241.4 L783.3 247.7 L783.9 254.6 L784.4 262.1 L785 270.3 L785.6 279 L786.1 288.1 L786.7 297.8 L787.3 307.9 L787.8 318.3 L788.4 329.1 L789 340.2 L789.5 351.6 L790.1 363.2 L790.7 375 L791.2 386.9 L791.8 399.1 L792.4 411.3 L792.9 423.6 L793.5 435.8 L794.1 448 L794.6 460.1 L795.2 472.1 L795.7 483.9 L796.3 495.4 L796.9 506.8 L797.4 517.8 L798 528.4 L798.6 538.7 L799.1 548.6 L799.7 558 L800.3 567.4 L800.9 577.2 L801.4 587.5 L802 598.1 L802.6 609.1 L803.2 620.3 L803.7 631.8 L804.3 643.5 L804.9 655.3 L805.5 667.3 L806 679.4 L806.6 691.6 L807.2 703.7 L807.8 715.8 L808.3 727.9 L808.9 739.9 L809.5 751.8 L810.1 763.5 L810.6 774.9 L811.2 786.1 L811.8 797 L812.4 807.5 L812.9 817.6 L813.5 827.3 L814.1 836.6 L814.7 845.3 L815.2 853.5 L815.8 861.1 L816.4 868 L817 874.3 L817.5 879.9 L818.1 884.7 L818.7 888.8 L819.3 892 L819.8 894.3 L820.4 895.7 L821 896.2 L821.3 895.7 L821.7 894.1 L822 891.6 L822.4 888 L822.7 883.6 L823.1 878.4 L823.4 872.3 L823.8 865.5 L824.1 858 L824.5 849.8 L824.8 841 L825.2 831.7 L825.5 821.8 L825.8 811.5 L826.2 800.8 L826.5 789.7 L826.9 778.3 L827.2 766.6 L827.6 754.6 L827.9 742.6 L828.3 730.3 L828.6 718.1 L829 705.8 L829.3 693.6 L829.6 681.4 L830 669.4 L830.3 657.5 L830.7 645.8 L831 634.4 L831.4 623.3 L831.7 612.5 L832.1 602.1 L832.4 592.2 L832.8 582.8 L833.1 573.9 L833.5 565.6 L833.8 558 L834.3 546.6 L834.8 534.9 L835.4 523 L835.9 511 L836.4 498.8 L836.9 486.5 L837.5 474.1 L838 461.6 L838.5 449.1 L839 436.7 L839.6 424.2 L840.1 411.9 L840.6 399.6 L841.1 387.5 L841.7 375.7 L842.2 364.1 L842.7 352.7 L843.2 341.6 L843.8 330.8 L844.3 320.2 L844.8 310 L845.3 300.2 L845.9 290.9 L846.4 281.9 L846.9 273.4 L847.4 265.4 L848 258 L848.5 251.1 L849 244.8 L849.5 239.2 L850.1 234.1 L850.6 229.8 L851.1 226.2 L851.6 223.4 L852.2 221.3 L852.7 220 L853.2 219.6 L853.6 220.1 L854 221.5 L854.4 223.9 L854.8 227.2 L855.2 231.3 L855.6 236.2 L856 241.8 L856.4 248.2 L856.8 255.3 L857.2 262.9 L857.6 271.2 L858 280 L858.4 289.3 L858.8 299.1 L859.2 309.3 L859.6 319.9 L860 330.8 L860.4 342.1 L860.7 353.5 L861.1 365.2 L861.5 377.1 L861.9 389.1 L862.3 401.3 L862.7 413.5 L863.1 425.8 L863.5 438.1 L863.9 450.2 L864.3 462.2 L864.7 474.1 L865.1 485.8 L865.5 497.2 L865.9 508.3 L866.3 519.1 L866.7 529.5 L867.1 539.5 L867.5 549 L867.9 558 L868.3 567.8 L868.8 578.1 L869.2 588.7 L869.7 599.6 L870.1 610.9 L870.6 622.4 L871 634.1 L871.5 646 L871.9 658 L872.3 670.1 L872.8 682.3 L873.2 694.5 L873.7 706.6 L874.1 718.7 L874.6 730.8 L875 742.7 L875.5 754.4 L875.9 765.9 L876.3 777.2 L876.8 788.1 L877.2 798.7 L877.7 808.8 L878.1 818.6 L878.6 827.9 L879 836.7 L879.5 844.9 L879.9 852.5 L880.3 859.5 L880.8 865.9 L881.2 871.5 L881.7 876.3 L882.1 880.4 L882.6 883.6 L883 886 L883.5 887.4 L883.9 887.9 L884.4 887.4 L884.8 886 L885.3 883.5 L885.8 880.2 L886.2 876.1 L886.7 871.1 L887.1 865.4 L887.6 858.9 L888.1 851.8 L888.5 844 L889 835.6 L889.5 826.7 L889.9 817.3 L890.4 807.4 L890.9 797.1 L891.3 786.4 L891.8 775.3 L892.2 764 L892.7 752.4 L893.2 740.5 L893.6 728.5 L894.1 716.5 L894.6 704.3 L895 692.2 L895.5 680 L896 667.8 L896.4 655.8 L896.9 643.9 L897.4 632.1 L897.8 620.6 L898.3 609.3 L898.7 598.2 L899.2 587.6 L899.7 577.3 L900.1 567.4 L900.6 558 L901.1 548.6 L901.5 538.8 L902 528.5 L902.4 517.8 L902.9 506.9 L903.3 495.6 L903.8 484 L904.2 472.3 L904.7 460.3 L905.1 448.3 L905.6 436.1 L906 423.9 L906.5 411.7 L907 399.4 L907.4 387.3 L907.9 375.4 L908.3 363.7 L908.8 352.1 L909.2 340.8 L909.7 329.7 L910.1 319 L910.6 308.6 L911 298.5 L911.5 288.9 L912 279.7 L912.4 271.1 L912.9 263 L913.3 255.5 L913.8 248.6 L914.2 242.3 L914.7 236.8 L915.1 232 L915.6 228 L916 224.8 L916.5 222.5 L916.9 221.1 L917.4 220.6 L917.9 221 L918.4 222.3 L918.9 224.5 L919.4 227.4 L919.9 231.1 L920.4 235.5 L920.9 240.7 L921.4 246.5 L921.9 252.9 L922.4 259.9 L922.9 267.5 L923.4 275.6 L923.9 284.3 L924.4 293.4 L924.9 302.9 L925.4 312.8 L925.9 323.1 L926.4 333.8 L926.8 344.7 L927.3 355.9 L927.8 367.4 L928.3 379 L928.8 390.9 L929.3 403 L929.8 415.2 L930.3 427.5 L930.8 439.8 L931.3 452.2 L931.8 464.5 L932.3 476.7 L932.8 488.9 L933.3 500.9 L933.8 512.8 L934.3 524.5 L934.8 535.9 L935.3 547.1 L935.8 558 L936.2 566 L936.5 574.7 L936.9 583.8 L937.3 593.5 L937.6 603.7 L938 614.2 L938.4 625.2 L938.7 636.4 L939.1 647.9 L939.4 659.7 L939.8 671.6 L940.2 683.7 L940.5 695.9 L940.9 708.1 L941.3 720.3 L941.6 732.5 L942 744.6 L942.4 756.6 L942.7 768.4 L943.1 780 L943.5 791.3 L943.8 802.3 L944.2 812.9 L944.6 823.1 L944.9 832.8 L945.3 842 L945.7 850.6 L946 858.7 L946.4 866.1 L946.7 872.8 L947.1 878.7 L947.5 883.9 L947.8 888.2 L948.2 891.7 L948.6 894.2 L948.9 895.7 L949.3 896.2 L949.8 895.7 L950.4 894.2 L950.9 891.8 L951.5 888.5 L952 884.3 L952.5 879.3 L953.1 873.6 L953.6 867.1 L954.2 859.9 L954.7 852.1 L955.2 843.7 L955.8 834.8 L956.3 825.3 L956.9 815.4 L957.4 805 L957.9 794.3 L958.5 783.2 L959 771.9 L959.6 760.2 L960.1 748.4 L960.7 736.4 L961.2 724.3 L961.7 712.2 L962.3 700 L962.8 687.9 L963.4 675.7 L963.9 663.7 L964.4 651.8 L965 640.1 L965.5 628.7 L966.1 617.4 L966.6 606.5 L967.1 595.9 L967.7 585.8 L968.2 576 L968.8 566.8 L969.3 558 L969.9 547.8 L970.5 537.3 L971.2 526.4 L971.8 515.2 L972.4 503.7 L973 492 L973.7 480.1 L974.3 468 L974.9 455.7 L975.5 443.4 L976.1 431.1 L976.8 418.7 L977.4 406.3 L978 394.1 L978.6 382 L979.2 370.1 L979.9 358.3 L980.5 346.8 L981.1 335.5 L981.7 324.6 L982.4 313.9 L983 303.6 L983.6 293.7 L984.2 284.2 L984.8 275.2 L985.5 266.7 L986.1 258.7 L986.7 251.3 L987.3 244.6 L987.9 238.5 L988.6 233.1 L989.2 228.4 L989.8 224.5 L990.4 221.4 L991.1 219.1 L991.7 217.7 L992.3 217.3 L992.6 217.8 L992.9 219.4 L993.3 222 L993.6 225.5 L993.9 230 L994.2 235.3 L994.5 241.4 L994.9 248.2 L995.2 255.8 L995.5 264 L995.8 272.9 L996.1 282.3 L996.4 292.2 L996.8 302.5 L997.1 313.3 L997.4 324.5 L997.7 335.9 L998 347.7 L998.4 359.6 L998.7 371.7 L999 384 L999.3 396.4 L999.6 408.8 L1000 421.3 L1000.3 433.7 L1000.6 445.9 L1000.9 458 L1001.2 469.8 L1001.5 481.4 L1001.9 492.6 L1002.2 503.5 L1002.5 513.9 L1002.8 523.9 L1003.1 533.3 L1003.5 542.2 L1003.8 550.4 L1004.1 558 L1004.6 569.4 L1005.1 581.1 L1005.6 592.9 L1006.1 604.9 L1006.7 617 L1007.2 629.1 L1007.7 641.4 L1008.2 653.6 L1008.7 665.9 L1009.2 678.1 L1009.7 690.3 L1010.2 702.4 L1010.7 714.4 L1011.3 726.2 L1011.8 737.9 L1012.3 749.5 L1012.8 760.7 L1013.3 771.8 L1013.8 782.5 L1014.3 792.9 L1014.8 803 L1015.3 812.6 L1015.8 821.9 L1016.4 830.7 L1016.9 839.1 L1017.4 846.9 L1017.9 854.2 L1018.4 861 L1018.9 867.2 L1019.4 872.7 L1019.9 877.7 L1020.4 881.9 L1021 885.4 L1021.5 888.2 L1022 890.3 L1022.5 891.5 L1023 891.9 L1023.4 891.4 L1023.8 889.9 L1024.2 887.5 L1024.6 884.2 L1025 880 L1025.4 875 L1025.8 869.2 L1026.2 862.7 L1026.6 855.6 L1027 847.8 L1027.4 839.4 L1027.8 830.5 L1028.2 821 L1028.6 811.1 L1029 800.8 L1029.4 790.1 L1029.8 779.1 L1030.2 767.8 L1030.5 756.3 L1030.9 744.5 L1031.3 732.6 L1031.7 720.6 L1032.1 708.6 L1032.5 696.6 L1032.9 684.6 L1033.3 672.7 L1033.7 660.8 L1034.1 649.1 L1034.5 637.7 L1034.9 626.4 L1035.3 615.4 L1035.7 604.8 L1036.1 594.5 L1036.5 584.7 L1036.9 575.3 L1037.3 566.4 L1037.7 558 L1038.2 547.7 L1038.7 537.1 L1039.2 526.2 L1039.6 514.9 L1040.1 503.5 L1040.6 491.8 L1041.1 480 L1041.6 468 L1042.1 456 L1042.6 443.8 L1043.1 431.7 L1043.5 419.5 L1044 407.4 L1044.5 395.3 L1045 383.5 L1045.5 371.9 L1046 360.4 L1046.5 349.2 L1046.9 338.2 L1047.4 327.5 L1047.9 317.1 L1048.4 307.1 L1048.9 297.5 L1049.4 288.3 L1049.9 279.6 L1050.3 271.3 L1050.8 263.6 L1051.3 256.5 L1051.8 249.9 L1052.3 244.1 L1052.8 238.8 L1053.3 234.3 L1053.8 230.5 L1054.2 227.5 L1054.7 225.4 L1055.2 224 L1055.7 223.6 L1056.2 224 L1056.6 225.4 L1057.1 227.7 L1057.5 230.8 L1058 234.7 L1058.4 239.4 L1058.9 244.8 L1059.3 250.9 L1059.8 257.7 L1060.2 265.1 L1060.7 273 L1061.1 281.5 L1061.6 290.5 L1062.1 299.9 L1062.5 309.8 L1063 320 L1063.4 330.6 L1063.9 341.5 L1064.3 352.6 L1064.8 364 L1065.2 375.6 L1065.7 387.4 L1066.1 399.3 L1066.6 411.4 L1067.1 423.5 L1067.5 435.7 L1068 447.7 L1068.4 459.8 L1068.9 471.7 L1069.3 483.4 L1069.8 494.9 L1070.2 506.3 L1070.7 517.3 L1071.1 528 L1071.6 538.4 L1072 548.4 L1072.5 558 L1072.9 567 L1073.4 576.4 L1073.8 586.3 L1074.2 596.6 L1074.7 607.2 L1075.1 618.2 L1075.5 629.4 L1076 640.8 L1076.4 652.4 L1076.8 664.2 L1077.3 676.1 L1077.7 688 L1078.1 700 L1078.6 711.9 L1079 723.9 L1079.4 735.7 L1079.9 747.5 L1080.3 759.1 L1080.7 770.4 L1081.1 781.5 L1081.6 792.3 L1082 802.8 L1082.4 812.8 L1082.9 822.5 L1083.3 831.7 L1083.7 840.4 L1084.2 848.5 L1084.6 856.1 L1085 863 L1085.5 869.3 L1085.9 874.9 L1086.3 879.7 L1086.8 883.8 L1087.2 887 L1087.6 889.3 L1088.1 890.8 L1088.5 891.3 L1089 890.8 L1089.4 889.5 L1089.9 887.2 L1090.3 884.2 L1090.8 880.4 L1091.2 875.8 L1091.7 870.6 L1092.1 864.6 L1092.6 858 L1093 850.8 L1093.5 843 L1093.9 834.7 L1094.4 825.9 L1094.8 816.7 L1095.3 806.9 L1095.7 796.9 L1096.2 786.4 L1096.6 775.6 L1097.1 764.6 L1097.5 753.2 L1098 741.7 L1098.4 730 L1098.9 718.2 L1099.3 706.3 L1099.8 694.3 L1100.2 682.3 L1100.7 670.3 L1101.1 658.4 L1101.6 646.5 L1102 634.7 L1102.5 623 L1102.9 611.5 L1103.4 600.3 L1103.8 589.2 L1104.3 578.5 L1104.7 568.1 L1105.2 558 L1105.6 549.3 L1106 540.1 L1106.3 530.3 L1106.7 520.1 L1107.1 509.5 L1107.5 498.5 L1107.8 487.2 L1108.2 475.6 L1108.6 463.8 L1109 451.7 L1109.3 439.5 L1109.7 427.2 L1110.1 414.9 L1110.5 402.5 L1110.8 390.1 L1111.2 378 L1111.6 366 L1112 354.1 L1112.3 342.4 L1112.7 331 L1113.1 319.9 L1113.5 309.1 L1113.8 298.7 L1114.2 288.7 L1114.6 279.2 L1115 270.2 L1115.3 261.7 L1115.7 253.9 L1116.1 246.7 L1116.5 240.1 L1116.8 234.3 L1117.2 229.3 L1117.6 225.1 L1118 221.7 L1118.3 219.3 L1118.7 217.8 L1119.1 217.3 L1119.7 217.7 L1120.3 219.2 L1120.8 221.5 L1121.4 224.8 L1122 228.8 L1122.6 233.7 L1123.1 239.3 L1123.7 245.6 L1124.3 252.6 L1124.9 260.2 L1125.4 268.4 L1126 277.1 L1126.6 286.4 L1127.2 296.1 L1127.7 306.3 L1128.3 316.8 L1128.9 327.7 L1129.5 338.9 L1130 350.3 L1130.6 362 L1131.2 373.9 L1131.8 385.9 L1132.3 398.1 L1132.9 410.4 L1133.5 422.8 L1134.1 435.1 L1134.6 447.4 L1135.2 459.6 L1135.8 471.6 L1136.4 483.5 L1136.9 495.1 L1137.5 506.5 L1138.1 517.6 L1138.7 528.3 L1139.2 538.6 L1139.8 548.6 L1140.4 558 L1141 567.4 L1141.6 577.3 L1142.2 587.6 L1142.7 598.2 L1143.3 609.2 L1143.9 620.4 L1144.5 631.9 L1145.1 643.6 L1145.7 655.5 L1146.3 667.5 L1146.9 679.6 L1147.4 691.7 L1148 703.9 L1148.6 716 L1149.2 728.1 L1149.8 740.1 L1150.4 751.9 L1151 763.6 L1151.5 775.1 L1152.1 786.2 L1152.7 797.1 L1153.3 807.6 L1153.9 817.7 L1154.5 827.4 L1155.1 836.6 L1155.6 845.4 L1156.2 853.5 L1156.8 861.1 L1157.4 868.1 L1158 874.3 L1158.6 879.9 L1159.2 884.7 L1159.8 888.8 L1160.3 892 L1160.9 894.3 L1161.5 895.7 L1162.1 896.2 L1162.4 895.7 L1162.7 894.1 L1163.1 891.5 L1163.4 887.9 L1163.7 883.4 L1164 878.1 L1164.3 871.9 L1164.7 865 L1165 857.4 L1165.3 849.1 L1165.6 840.2 L1165.9 830.7 L1166.2 820.7 L1166.6 810.3 L1166.9 799.4 L1167.2 788.2 L1167.5 776.7 L1167.8 764.9 L1168.2 752.9 L1168.5 740.7 L1168.8 728.4 L1169.1 716.1 L1169.4 703.8 L1169.8 691.6 L1170.1 679.4 L1170.4 667.4 L1170.7 655.5 L1171 643.9 L1171.3 632.6 L1171.7 621.6 L1172 610.9 L1172.3 600.8 L1172.6 591 L1172.9 581.9 L1173.3 573.3 L1173.6 565.3 L1173.9 558 L1174.4 546.1 L1175 534 L1175.5 521.7 L1176 509.3 L1176.6 496.8 L1177.1 484.3 L1177.6 471.6 L1178.2 459 L1178.7 446.4 L1179.2 433.8 L1179.8 421.3 L1180.3 409 L1180.8 396.7 L1181.4 384.7 L1181.9 372.9 L1182.4 361.3 L1183 350 L1183.5 339 L1184 328.3 L1184.5 317.9 L1185.1 307.8 L1185.6 298.2 L1186.1 288.9 L1186.7 280.1 L1187.2 271.8 L1187.7 264 L1188.3 256.7 L1188.8 250 L1189.3 243.8 L1189.9 238.3 L1190.4 233.4 L1190.9 229.2 L1191.5 225.7 L1192 222.9 L1192.5 220.9 L1193.1 219.7 L1193.6 219.3 L1194 219.8 L1194.4 221.3 L1194.8 223.7 L1195.1 227.1 L1195.5 231.3 L1195.9 236.3 L1196.3 242.1 L1196.7 248.6 L1197.1 255.9 L1197.5 263.7 L1197.9 272.2 L1198.2 281.2 L1198.6 290.7 L1199 300.6 L1199.4 311 L1199.8 321.8 L1200.2 332.9 L1200.6 344.2 L1200.9 355.9 L1201.3 367.7 L1201.7 379.6 L1202.1 391.8 L1202.5 404 L1202.9 416.4 L1203.3 428.7 L1203.6 440.9 L1204 453 L1204.4 464.9 L1204.8 476.7 L1205.2 488.2 L1205.6 499.4 L1206 510.3 L1206.4 520.8 L1206.7 530.8 L1207.1 540.4 L1207.5 549.5 L1207.9 558 L1208.4 568.4 L1208.9 579.1 L1209.4 590.2 L1209.9 601.5 L1210.3 613.1 L1210.8 624.8 L1211.3 636.8 L1211.8 648.8 L1212.3 661 L1212.8 673.2 L1213.3 685.4 L1213.8 697.6 L1214.3 709.8 L1214.7 721.8 L1215.2 733.8 L1215.7 745.6 L1216.2 757.3 L1216.7 768.6 L1217.2 779.7 L1217.7 790.4 L1218.2 800.8 L1218.7 810.8 L1219.1 820.4 L1219.6 829.5 L1220.1 838.1 L1220.6 846.1 L1221.1 853.5 L1221.6 860.4 L1222.1 866.5 L1222.6 872 L1223.1 876.7 L1223.5 880.6 L1224 883.8 L1224.5 886.1 L1225 887.5 L1225.5 887.9 L1225.9 887.4 L1226.4 886 L1226.8 883.5 L1227.3 880.2 L1227.7 876.1 L1228.2 871.1 L1228.6 865.3 L1229 858.9 L1229.5 851.7 L1229.9 844 L1230.4 835.6 L1230.8 826.6 L1231.2 817.2 L1231.7 807.3 L1232.1 797 L1232.6 786.2 L1233 775.2 L1233.5 763.8 L1233.9 752.2 L1234.3 740.4 L1234.8 728.4 L1235.2 716.3 L1235.7 704.2 L1236.1 692 L1236.5 679.8 L1237 667.7 L1237.4 655.7 L1237.9 643.7 L1238.3 632 L1238.8 620.4 L1239.2 609.1 L1239.6 598.2 L1240.1 587.5 L1240.5 577.2 L1241 567.4 L1241.4 558 L1241.8 548.6 L1242.3 538.8 L1242.7 528.6 L1243.1 518 L1243.6 507.1 L1244 495.8 L1244.4 484.3 L1244.9 472.6 L1245.3 460.8 L1245.7 448.8 L1246.2 436.7 L1246.6 424.5 L1247 412.4 L1247.5 400.2 L1247.9 388.2 L1248.3 376.4 L1248.8 364.7 L1249.2 353.2 L1249.6 342 L1250 331 L1250.5 320.3 L1250.9 309.9 L1251.3 300 L1251.8 290.4 L1252.2 281.3 L1252.6 272.7 L1253.1 264.7 L1253.5 257.2 L1253.9 250.4 L1254.4 244.2 L1254.8 238.7 L1255.2 233.9 L1255.7 229.9 L1256.1 226.8 L1256.5 224.5 L1257 223 L1257.4 222.6 L1257.9 223 L1258.4 224.3 L1258.9 226.4 L1259.4 229.2 L1259.9 232.8 L1260.4 237.1 L1261 242.1 L1261.5 247.8 L1262 254.1 L1262.5 261 L1263 268.4 L1263.5 276.4 L1264 284.8 L1264.5 293.8 L1265 303.1 L1265.5 312.9 L1266 323 L1266.5 333.5 L1267.1 344.3 L1267.6 355.4 L1268.1 366.7 L1268.6 378.2 L1269.1 389.9 L1269.6 401.9 L1270.1 414.1 L1270.6 426.3 L1271.1 438.6 L1271.6 451 L1272.1 463.3 L1272.6 475.6 L1273.2 487.8 L1273.7 499.9 L1274.2 511.9 L1274.7 523.8 L1275.2 535.4 L1275.7 546.8 L1276.2 558 L1276.5 565.7 L1276.9 574 L1277.2 582.9 L1277.6 592.3 L1277.9 602.2 L1278.3 612.5 L1278.6 623.2 L1279 634.3 L1279.3 645.6 L1279.7 657.2 L1280 669 L1280.4 680.9 L1280.7 693 L1281 705.1 L1281.4 717.2 L1281.7 729.3 L1282.1 741.4 L1282.4 753.3 L1282.8 765.1 L1283.1 776.6 L1283.5 787.9 L1283.8 798.8 L1284.2 809.4 L1284.5 819.6 L1284.8 829.3 L1285.2 838.5 L1285.5 847.2 L1285.9 855.2 L1286.2 862.6 L1286.6 869.4 L1286.9 875.3 L1287.3 880.5 L1287.6 884.9 L1288 888.3 L1288.3 890.8 L1288.7 892.4 L1289 892.9 L1289.5 892.5 L1290 891.3 L1290.6 889.2 L1291.1 886.5 L1291.6 882.9 L1292.1 878.7 L1292.7 873.8 L1293.2 868.3 L1293.7 862.1 L1294.2 855.4 L1294.7 848 L1295.3 840.2 L1295.8 831.9 L1296.3 823.1 L1296.8 813.8 L1297.3 804.2 L1297.9 794.1 L1298.4 783.7 L1298.9 773 L1299.4 762 L1300 750.7 L1300.5 739.1 L1301 727.4 L1301.5 715.5 L1302 703.5 L1302.6 691.4 L1303.1 679.1 L1303.6 666.8 L1304.1 654.5 L1304.6 642.2 L1305.2 629.8 L1305.7 617.6 L1306.2 605.4 L1306.7 593.3 L1307.3 581.4 L1307.8 569.6 L1308.3 558 L1308.6 550.5 L1308.9 542.4 L1309.2 533.6 L1309.6 524.3 L1309.9 514.4 L1310.2 504.1 L1310.5 493.3 L1310.8 482.1 L1311.1 470.6 L1311.5 458.8 L1311.8 446.8 L1312.1 434.6 L1312.4 422.3 L1312.7 409.9 L1313 397.5 L1313.4 385.1 L1313.7 372.9 L1314 360.8 L1314.3 348.9 L1314.6 337.2 L1314.9 325.7 L1315.3 314.6 L1315.6 303.8 L1315.9 293.5 L1316.2 283.6 L1316.5 274.2 L1316.8 265.3 L1317.2 257.1 L1317.5 249.6 L1317.8 242.7 L1318.1 236.6 L1318.4 231.3 L1318.7 226.8 L1319.1 223.3 L1319.4 220.7 L1319.7 219.1 L1320 218.6 L1320.6 219.1 L1321.2 220.4 L1321.8 222.7 L1322.4 225.8 L1323 229.8 L1323.6 234.5 L1324.3 239.9 L1324.9 246 L1325.5 252.8 L1326.1 260.2 L1326.7 268.2 L1327.3 276.7 L1327.9 285.7 L1328.5 295.2 L1329.1 305.1 L1329.7 315.5 L1330.3 326.1 L1330.9 337.1 L1331.6 348.4 L1332.2 359.9 L1332.8 371.6 L1333.4 383.5 L1334 395.6 L1334.6 407.8 L1335.2 420.1 L1335.8 432.4 L1336.4 444.7 L1337 457 L1337.6 469.1 L1338.2 481.1 L1338.9 492.9 L1339.5 504.5 L1340.1 515.9 L1340.7 526.9 L1341.3 537.7 L1341.9 548 L1342.5 558 L1343 566.9 L1343.6 576.3 L1344.1 586.1 L1344.7 596.4 L1345.2 607.1 L1345.8 618 L1346.3 629.3 L1346.9 640.9 L1347.4 652.6 L1348 664.5 L1348.5 676.5 L1349.1 688.6 L1349.6 700.8 L1350.2 712.9 L1350.7 725.1 L1351.3 737.2 L1351.8 749.1 L1352.4 760.9 L1352.9 772.5 L1353.5 783.8 L1354 794.9 L1354.6 805.6 L1355.1 815.9 L1355.7 825.7 L1356.2 835.2 L1356.8 844.1 L1357.3 852.4 L1357.9 860.2 L1358.4 867.3 L1359 873.7 L1359.5 879.5 L1360.1 884.4 L1360.6 888.6 L1361.2 891.9 L1361.7 894.3 L1362.3 895.7 L1362.8 896.2 L1363.1 895.7 L1363.5 894.1 L1363.8 891.5 L1364.2 888 L1364.5 883.6 L1364.9 878.3 L1365.2 872.3 L1365.5 865.4 L1365.9 857.9 L1366.2 849.7 L1366.6 840.9 L1366.9 831.5 L1367.3 821.7 L1367.6 811.3 L1367.9 800.6 L1368.3 789.5 L1368.6 778 L1369 766.3 L1369.3 754.4 L1369.7 742.3 L1370 730.1 L1370.4 717.8 L1370.7 705.6 L1371 693.3 L1371.4 681.2 L1371.7 669.1 L1372.1 657.2 L1372.4 645.6 L1372.8 634.1 L1373.1 623 L1373.4 612.3 L1373.8 601.9 L1374.1 592.1 L1374.5 582.7 L1374.8 573.8 L1375.2 565.6 L1375.5 558 L1376 546.5 L1376.6 534.8 L1377.1 522.9 L1377.6 510.8 L1378.1 498.5 L1378.7 486.2 L1379.2 473.7 L1379.7 461.3 L1380.2 448.8 L1380.8 436.3 L1381.3 423.9 L1381.8 411.5 L1382.4 399.3 L1382.9 387.2 L1383.4 375.4 L1383.9 363.8 L1384.5 352.4 L1385 341.3 L1385.5 330.5 L1386 319.9 L1386.6 309.8 L1387.1 300 L1387.6 290.6 L1388.1 281.7 L1388.7 273.2 L1389.2 265.3 L1389.7 257.9 L1390.3 251 L1390.8 244.7 L1391.3 239.1 L1391.8 234.1 L1392.4 229.8 L1392.9 226.2 L1393.4 223.3 L1393.9 221.3 L1394.5 220 L1395 219.6 L1395.4 220.1 L1395.8 221.6 L1396.2 224 L1396.6 227.3 L1397 231.4 L1397.4 236.3 L1397.7 242.1 L1398.1 248.5 L1398.5 255.6 L1398.9 263.3 L1399.3 271.7 L1399.7 280.5 L1400.1 289.9 L1400.5 299.8 L1400.9 310 L1401.3 320.7 L1401.7 331.7 L1402.1 342.9 L1402.4 354.4 L1402.8 366.2 L1403.2 378.1 L1403.6 390.1 L1404 402.3 L1404.4 414.6 L1404.8 426.9 L1405.2 439.1 L1405.6 451.3 L1406 463.3 L1406.4 475.1 L1406.8 486.7 L1407.1 498 L1407.5 509 L1407.9 519.7 L1408.3 530 L1408.7 539.8 L1409.1 549.2 L1409.5 558 L1410 568 L1410.4 578.4 L1410.9 589.2 L1411.3 600.3 L1411.8 611.6 L1412.2 623.2 L1412.7 635 L1413.2 647 L1413.6 659.1 L1414.1 671.2 L1414.5 683.4 L1415 695.6 L1415.5 707.8 L1415.9 719.8 L1416.4 731.9 L1416.8 743.7 L1417.3 755.4 L1417.8 766.9 L1418.2 778.1 L1418.7 788.9 L1419.1 799.4 L1419.6 809.6 L1420 819.2 L1420.5 828.5 L1421 837.2 L1421.4 845.3 L1421.9 852.9 L1422.3 859.8 L1422.8 866.1 L1423.2 871.6 L1423.7 876.5 L1424.2 880.5 L1424.6 883.7 L1425.1 886 L1425.5 887.5 L1426 887.9 L1426.5 887.4 L1426.9 886 L1427.4 883.6 L1427.8 880.3 L1428.3 876.1 L1428.8 871.2 L1429.2 865.5 L1429.7 859.1 L1430.2 852 L1430.6 844.2 L1431.1 835.9 L1431.5 827 L1432 817.6 L1432.5 807.7 L1432.9 797.4 L1433.4 786.7 L1433.8 775.7 L1434.3 764.4 L1434.8 752.8 L1435.2 741 L1435.7 729.1 L1436.1 717 L1436.6 704.9 L1437.1 692.7 L1437.5 680.5 L1438 668.4 L1438.4 656.3 L1438.9 644.3 L1439.4 632.6 L1439.8 621 L1440.3 609.6 L1440.8 598.6 L1441.2 587.8 L1441.7 577.5 L1442.1 567.5 L1442.6 558 L1443 548.8 L1443.5 539.1 L1443.9 529 L1444.4 518.5 L1444.8 507.7 L1445.2 496.5 L1445.7 485.1 L1446.1 473.5 L1446.5 461.7 L1447 449.8 L1447.4 437.7 L1447.9 425.6 L1448.3 413.5 L1448.7 401.4 L1449.2 389.3 L1449.6 377.5 L1450 365.9 L1450.5 354.4 L1450.9 343.2 L1451.4 332.2 L1451.8 321.5 L1452.2 311.1 L1452.7 301.1 L1453.1 291.6 L1453.5 282.5 L1454 273.9 L1454.4 265.8 L1454.9 258.3 L1455.3 251.4 L1455.7 245.2 L1456.2 239.7 L1456.6 235 L1457 231 L1457.5 227.8 L1457.9 225.5 L1458.4 224 L1458.8 223.6 L1459.3 224 L1459.8 225.3 L1460.3 227.4 L1460.8 230.3 L1461.3 233.9 L1461.8 238.3 L1462.3 243.4 L1462.8 249.1 L1463.3 255.5 L1463.7 262.4 L1464.2 269.9 L1464.7 277.9 L1465.2 286.5 L1465.7 295.4 L1466.2 304.9 L1466.7 314.7 L1467.2 324.9 L1467.7 335.4 L1468.2 346.2 L1468.7 357.3 L1469.2 368.7 L1469.7 380.2 L1470.2 391.9 L1470.7 403.9 L1471.2 416.1 L1471.7 428.2 L1472.2 440.5 L1472.6 452.7 L1473.1 464.9 L1473.6 477.1 L1474.1 489.2 L1474.6 501.1 L1475.1 512.9 L1475.6 524.6 L1476.1 536 L1476.6 547.1 L1477.1 558 L1477.5 565.9 L1477.8 574.4 L1478.2 583.4 L1478.5 593 L1478.9 603 L1479.2 613.4 L1479.6 624.2 L1480 635.3 L1480.3 646.7 L1480.7 658.3 L1481 670.2 L1481.4 682.1 L1481.7 694.2 L1482.1 706.2 L1482.5 718.3 L1482.8 730.4 L1483.2 742.5 L1483.5 754.3 L1483.9 766.1 L1484.2 777.5 L1484.6 788.7 L1484.9 799.6 L1485.3 810.1 L1485.7 820.3 L1486 829.9 L1486.4 839 L1486.7 847.6 L1487.1 855.6 L1487.4 862.9 L1487.8 869.6 L1488.2 875.5 L1488.5 880.6 L1488.9 884.9 L1489.2 888.4 L1489.6 890.9 L1489.9 892.4 L1490.3 892.9 L1490.8 892.5 L1491.4 891.3 L1491.9 889.3 L1492.4 886.5 L1493 883 L1493.5 878.8 L1494 874 L1494.6 868.5 L1495.1 862.4 L1495.7 855.7 L1496.2 848.4 L1496.7 840.6 L1497.3 832.3 L1497.8 823.6 L1498.3 814.4 L1498.9 804.8 L1499.4 794.8 L1499.9 784.4 L1500.5 773.7 L1501 762.7 L1501.5 751.4 L1502.1 739.9 L1502.6 728.2 L1503.1 716.3 L1503.7 704.3 L1504.2 692.2 L1504.7 679.9 L1505.3 667.6 L1505.8 655.3 L1506.4 642.9 L1506.9 630.5 L1507.4 618.2 L1508 605.9 L1508.5 593.7 L1509 581.6 L1509.6 569.7 L1510.1 558 L1510.4 550.6 L1510.7 542.6 L1511 533.8 L1511.4 524.5 L1511.7 514.7 L1512 504.3 L1512.3 493.6 L1512.6 482.4 L1512.9 470.9 L1513.3 459.1 L1513.6 447 L1513.9 434.8 L1514.2 422.4 L1514.5 409.9 L1514.8 397.4 L1515.2 385 L1515.5 372.7 L1515.8 360.6 L1516.1 348.6 L1516.4 336.8 L1516.7 325.3 L1517.1 314.1 L1517.4 303.2 L1517.7 292.8 L1518 282.8 L1518.3 273.3 L1518.6 264.4 L1519 256.1 L1519.3 248.5 L1519.6 241.6 L1519.9 235.4 L1520.2 230.1 L1520.5 225.6 L1520.9 222 L1521.2 219.4 L1521.5 217.8 L1521.8 217.3 L1522.4 217.7 L1523 219.1 L1523.6 221.4 L1524.2 224.6 L1524.8 228.5 L1525.4 233.2 L1526 238.7 L1526.6 244.9 L1527.2 251.7 L1527.8 259.1 L1528.4 267.2 L1529 275.7 L1529.6 284.8 L1530.2 294.4 L1530.8 304.4 L1531.4 314.7 L1532 325.5 L1532.6 336.5 L1533.3 347.8 L1533.9 359.4 L1534.5 371.2 L1535.1 383.1 L1535.7 395.3 L1536.3 407.6 L1536.9 419.9 L1537.5 432.3 L1538.1 444.6 L1538.7 456.9 L1539.3 469 L1539.9 481.1 L1540.5 492.9 L1541.1 504.5 L1541.7 515.9 L1542.3 527 L1542.9 537.7 L1543.5 548.1 L1544.1 558 L1544.6 566.9 L1545.2 576.4 L1545.7 586.3 L1546.3 596.6 L1546.8 607.3 L1547.4 618.3 L1547.9 629.6 L1548.5 641.1 L1549 652.9 L1549.6 664.8 L1550.1 676.8 L1550.7 689 L1551.2 701.1 L1551.8 713.3 L1552.3 725.4 L1552.9 737.5 L1553.4 749.4 L1554 761.2 L1554.5 772.8 L1555.1 784.1 L1555.6 795.1 L1556.2 805.8 L1556.7 816 L1557.3 825.9 L1557.8 835.3 L1558.4 844.2 L1558.9 852.5 L1559.5 860.3 L1560 867.4 L1560.6 873.8 L1561.1 879.5 L1561.7 884.4 L1562.2 888.6 L1562.8 891.9 L1563.3 894.3 L1563.9 895.7 L1564.4 896.2 L1564.7 895.7 L1565.1 894.1 L1565.4 891.6 L1565.8 888.1 L1566.1 883.7 L1566.4 878.5 L1566.8 872.5 L1567.1 865.7 L1567.5 858.2 L1567.8 850.1 L1568.1 841.4 L1568.5 832.1 L1568.8 822.3 L1569.2 812 L1569.5 801.4 L1569.8 790.3 L1570.2 778.9 L1570.5 767.3 L1570.9 755.4 L1571.2 743.4 L1571.6 731.2 L1571.9 718.9 L1572.2 706.7 L1572.6 694.5 L1572.9 682.3 L1573.3 670.3 L1573.6 658.3 L1573.9 646.6 L1574.3 635.2 L1574.6 624 L1575 613.2 L1575.3 602.7 L1575.6 592.7 L1576 583.2 L1576.3 574.2 L1576.7 565.8 L1577 558 L1577.5 546.7 L1578 535.2 L1578.5 523.5 L1579 511.5 L1579.5 499.4 L1580 487.1 L1580.5 474.8 L1581 462.3 L1581.5 449.9 L1582 437.4 L1582.5 425 L1583 412.6 L1583.5 400.3 L1584 388.1 L1584.5 376.3 L1585 364.6 L1585.5 353.1 L1586 341.9 L1586.4 331 L1586.9 320.4 L1587.4 310.1 L1587.9 300.2 L1588.4 290.7 L1588.9 281.7 L1589.4 273.1 L1589.9 265 L1590.4 257.5 L1590.9 250.5 L1591.4 244.2 L1591.9 238.4 L1592.4 233.4 L1592.9 229 L1593.4 225.3 L1593.9 222.4 L1594.4 220.3 L1594.9 219 L1595.4 218.6 L1595.8 219.1 L1596.2 220.6 L1596.6 223 L1597 226.3 L1597.3 230.5 L1597.7 235.5 L1598.1 241.2 L1598.5 247.7 L1598.9 254.9 L1599.3 262.7 L1599.7 271.1 L1600.1 280 L1600.5 289.5 L1600.8 299.4 L1601.2 309.7 L1601.6 320.4 L1602 331.5 L1602.4 342.8 L1602.8 354.4 L1603.2 366.2 L1603.6 378.1 L1604 390.2 L1604.4 402.5 L1604.7 414.8 L1605.1 427.1 L1605.5 439.4 L1605.9 451.6 L1606.3 463.6 L1606.7 475.4 L1607.1 487 L1607.5 498.3 L1607.9 509.3 L1608.2 520 L1608.6 530.2 L1609 540 L1609.4 549.3 L1609.8 558 L1610.3 568.2 L1610.7 578.8 L1611.2 589.7 L1611.7 601 L1612.1 612.5 L1612.6 624.2 L1613.1 636.2 L1613.6 648.2 L1614 660.4 L1614.5 672.7 L1615 685 L1615.4 697.3 L1615.9 709.5 L1616.4 721.7 L1616.8 733.8 L1617.3 745.7 L1617.8 757.4 L1618.2 768.9 L1618.7 780.2 L1619.2 791.1 L1619.7 801.6 L1620.1 811.8 L1620.6 821.5 L1621.1 830.7 L1621.5 839.4 L1622 847.6 L1622.5 855.2 L1622.9 862.1 L1623.4 868.4 L1623.9 874 L1624.4 878.8 L1624.8 882.8 L1625.3 886 L1625.8 888.4 L1626.2 889.8 L1626.7 890.3 L1627.1 889.8 L1627.6 888.3 L1628 885.8 L1628.5 882.5 L1628.9 878.2 L1629.4 873.2 L1629.8 867.4 L1630.3 860.9 L1630.7 853.6 L1631.2 845.8 L1631.6 837.3 L1632.1 828.3 L1632.5 818.7 L1633 808.7 L1633.4 798.3 L1633.9 787.5 L1634.3 776.3 L1634.8 764.8 L1635.2 753.1 L1635.6 741.2 L1636.1 729.1 L1636.5 716.9 L1637 704.7 L1637.4 692.4 L1637.9 680.1 L1638.3 667.9 L1638.8 655.8 L1639.2 643.8 L1639.7 632 L1640.1 620.4 L1640.6 609.1 L1641 598.1 L1641.5 587.5 L1641.9 577.2 L1642.4 567.4 L1642.8 558 L1643.2 548.6 L1643.7 538.7 L1644.1 528.4 L1644.6 517.8 L1645 506.8 L1645.5 495.6 L1645.9 484.1 L1646.3 472.4 L1646.8 460.5 L1647.2 448.6 L1647.7 436.5 L1648.1 424.4 L1648.6 412.3 L1649 400.2 L1649.4 388.2 L1649.9 376.4 L1650.3 364.8 L1650.8 353.4 L1651.2 342.2 L1651.7 331.2 L1652.1 320.6 L1652.6 310.3 L1653 300.4 L1653.4 290.9 L1653.9 281.9 L1654.3 273.3 L1654.8 265.4 L1655.2 257.9 L1655.7 251.1 L1656.1 245 L1656.5 239.5 L1657 234.8 L1657.4 230.9 L1657.9 227.7 L1658.3 225.4 L1658.8 224 L1659.2 223.6 L1659.7 224 L1660.2 225.4 L1660.6 227.5 L1661.1 230.5 L1661.6 234.3 L1662.1 238.8 L1662.5 244 L1663 249.9 L1663.5 256.4 L1664 263.6 L1664.4 271.3 L1664.9 279.5 L1665.4 288.2 L1665.9 297.4 L1666.3 307 L1666.8 317 L1667.3 327.4 L1667.8 338.1 L1668.2 349.1 L1668.7 360.3 L1669.2 371.7 L1669.7 383.4 L1670.1 395.2 L1670.6 407.3 L1671.1 419.4 L1671.6 431.5 L1672 443.7 L1672.5 455.8 L1673 467.9 L1673.5 479.9 L1673.9 491.7 L1674.4 503.4 L1674.9 514.9 L1675.4 526.1 L1675.8 537.1 L1676.3 547.7 L1676.8 558 L1677.2 566.5 L1677.6 575.6 L1678 585.2 L1678.4 595.3 L1678.8 605.8 L1679.2 616.7 L1679.6 627.9 L1680 639.5 L1680.3 651.2 L1680.7 663.2 L1681.1 675.3 L1681.5 687.5 L1681.9 699.7 L1682.3 712 L1682.7 724.2 L1683.1 736.4 L1683.5 748.5 L1683.9 760.3 L1684.3 772 L1684.7 783.4 L1685.1 794.4 L1685.5 805.1 L1685.9 815.4 L1686.3 825.2 L1686.7 834.5 L1687.1 843.2 L1687.5 851.3 L1687.8 858.8 L1688.2 865.5 L1688.6 871.5 L1689 876.8 L1689.4 881.1 L1689.8 884.6 L1690.2 887.2 L1690.6 888.7 L1691 889.3 L1691.5 888.8 L1692 887.5 L1692.6 885.3 L1693.1 882.3 L1693.6 878.5 L1694.1 873.9 L1694.7 868.7 L1695.2 862.7 L1695.7 856.2 L1696.2 849 L1696.7 841.2 L1697.3 832.8 L1697.8 824 L1698.3 814.7 L1698.8 804.9 L1699.4 794.7 L1699.9 784.2 L1700.4 773.3 L1700.9 762.1 L1701.4 750.6 L1702 738.9 L1702.5 726.9 L1703 714.9 L1703.5 702.7 L1704.1 690.4 L1704.6 678.1 L1705.1 665.7 L1705.6 653.3 L1706.1 640.9 L1706.7 628.6 L1707.2 616.4 L1707.7 604.3 L1708.2 592.4 L1708.8 580.7 L1709.3 569.2 L1709.8 558 L1710.1 550.1 L1710.5 541.6 L1710.8 532.5 L1711.2 522.9 L1711.5 512.8 L1711.9 502.2 L1712.2 491.2 L1712.6 479.9 L1712.9 468.3 L1713.3 456.5 L1713.6 444.4 L1714 432.2 L1714.3 419.9 L1714.7 407.5 L1715 395.1 L1715.4 382.8 L1715.7 370.7 L1716.1 358.7 L1716.4 346.9 L1716.8 335.3 L1717.1 324 L1717.5 313 L1717.8 302.4 L1718.2 292.2 L1718.5 282.4 L1718.9 273.2 L1719.2 264.5 L1719.6 256.4 L1719.9 249 L1720.3 242.2 L1720.6 236.2 L1721 231 L1721.3 226.7 L1721.7 223.2 L1722 220.7 L1722.4 219.1 L1722.7 218.6 L1723.3 219 L1723.8 220.1 L1724.4 222 L1725 224.6 L1725.6 227.9 L1726.1 231.9 L1726.7 236.5 L1727.3 241.8 L1727.8 247.6 L1728.4 254.1 L1729 261 L1729.5 268.5 L1730.1 276.5 L1730.7 285 L1731.3 293.9 L1731.8 303.2 L1732.4 313 L1733 323.1 L1733.5 333.6 L1734.1 344.4 L1734.7 355.6 L1735.2 367 L1735.8 378.7 L1736.4 390.6 L1737 402.9 L1737.5 415.3 L1738.1 428 L1738.7 440.7 L1739.2 453.6 L1739.8 466.6 L1740.4 479.6 L1740.9 492.7 L1741.5 505.9 L1742.1 519 L1742.7 532 L1743.2 545.1 L1743.8 558 L1744.1 564.6 L1744.4 572 L1744.6 580.1 L1744.9 588.8 L1745.2 598.1 L1745.5 608 L1745.8 618.3 L1746 629.1 L1746.3 640.3 L1746.6 651.8 L1746.9 663.5 L1747.2 675.5 L1747.5 687.7 L1747.7 700 L1748 712.4 L1748.3 724.8 L1748.6 737.2 L1748.9 749.5 L1749.1 761.7 L1749.4 773.7 L1749.7 785.4 L1750 796.9 L1750.3 807.9 L1750.5 818.6 L1750.8 828.8 L1751.1 838.5 L1751.4 847.7 L1751.7 856.2 L1752 864 L1752.2 871.2 L1752.5 877.5 L1752.8 883 L1753.1 887.6 L1753.4 891.3 L1753.6 894 L1753.9 895.7 L1754.2 896.2 L1754.8 895.8 L1755.4 894.4 L1756 892.1 L1756.7 889 L1757.3 885 L1757.9 880.3 L1758.5 874.8 L1759.1 868.7 L1759.7 861.9 L1760.3 854.5 L1760.9 846.4 L1761.6 837.9 L1762.2 828.8 L1762.8 819.3 L1763.4 809.3 L1764 798.9 L1764.6 788.2 L1765.2 777.2 L1765.9 765.9 L1766.5 754.3 L1767.1 742.5 L1767.7 730.6 L1768.3 718.5 L1768.9 706.4 L1769.5 694.3 L1770.2 682.1 L1770.8 670 L1771.4 657.9 L1772 645.9 L1772.6 634.1 L1773.2 622.4 L1773.8 610.9 L1774.4 599.7 L1775.1 588.8 L1775.7 578.1 L1776.3 567.9 L1776.9 558 L1777.4 549 L1778 539.4 L1778.5 529.4 L1779.1 518.9 L1779.6 508.1 L1780.2 496.9 L1780.7 485.4 L1781.3 473.6 L1781.8 461.7 L1782.4 449.5 L1782.9 437.3 L1783.5 424.9 L1784 412.5 L1784.5 400.1 L1785.1 387.8 L1785.6 375.7 L1786.2 363.7 L1786.7 351.9 L1787.3 340.3 L1787.8 328.9 L1788.4 317.9 L1788.9 307.2 L1789.5 296.8 L1790 286.9 L1790.5 277.5 L1791.1 268.6 L1791.6 260.2 L1792.2 252.4 L1792.7 245.3 L1793.3 238.8 L1793.8 233.1 L1794.4 228.1 L1794.9 224 L1795.5 220.7 L1796 218.2 L1796.6 216.8 L1797.1 216.3 L1797.4 216.8 L1797.8 218.3 L1798.1 220.9 L1798.5 224.3 L1798.8 228.7 L1799.2 233.9 L1799.5 239.9 L1799.9 246.7 L1800.2 254.1 L1800.6 262.2 L1800.9 270.9 L1801.3 280.2 L1801.6 290 L1801.9 300.2 L1802.3 310.9 L1802.6 321.9 L1803 333.3 L1803.3 344.9 L1803.7 356.7 L1804 368.8 L1804.4 381 L1804.7 393.3 L1805.1 405.7 L1805.4 418.2 L1805.7 430.6 L1806.1 442.9 L1806.4 455.1 L1806.8 467 L1807.1 478.8 L1807.5 490.2 L1807.8 501.3 L1808.2 512 L1808.5 522.2 L1808.9 532 L1809.2 541.3 L1809.6 549.9 L1809.9 558 L1810.4 568.9 L1810.9 580.1 L1811.4 591.5 L1811.9 603.2 L1812.4 615 L1812.9 626.9 L1813.3 639 L1813.8 651.1 L1814.3 663.3 L1814.8 675.5 L1815.3 687.7 L1815.8 699.8 L1816.3 711.9 L1816.8 723.8 L1817.3 735.7 L1817.8 747.4 L1818.3 758.8 L1818.8 770.1 L1819.2 781 L1819.7 791.6 L1820.2 801.9 L1820.7 811.9 L1821.2 821.4 L1821.7 830.5 L1822.2 839.1 L1822.7 847.2 L1823.2 854.8 L1823.7 861.8 L1824.2 868.2 L1824.7 873.9 L1825.1 879 L1825.6 883.5 L1826.1 887.1 L1826.6 890.1 L1827.1 892.2 L1827.6 893.5 L1828.1 893.9 L1828.5 893.5 L1828.8 892.1 L1829.2 890 L1829.6 887 L1829.9 883.2 L1830.3 878.7 L1830.7 873.5 L1831 867.6 L1831.4 861 L1831.8 853.9 L1832.1 846.2 L1832.5 837.9 L1832.9 829.2 L1833.2 819.9 L1833.6 810.3 L1834 800.2 L1834.3 789.8 L1834.7 779 L1835.1 768 L1835.5 756.6 L1835.8 745.1 L1836.2 733.3 L1836.6 721.4 L1836.9 709.5 L1837.3 697.4 L1837.7 685.3 L1838 673.2 L1838.4 661 L1838.8 649 L1839.1 637 L1839.5 625.1 L1839.9 613.3 L1840.2 601.8 L1840.6 590.4 L1841 579.3 L1841.3 568.5 L1841.7 558 L1842 549 L1842.3 539.8 L1842.6 530.4 L1842.9 520.7 L1843.2 511 L1843.6 501.1 L1843.9 491.1 L1844.2 481 L1844.5 470.8 L1844.8 460.6 L1845.1 450.4"/>
</g>
<g font-size="69" fill="#000">
<g text-anchor="end">
<text transform="translate(284.3 80.1) scale(1 1.055)">1500</text>
<text transform="translate(284.3 246.8) scale(1 1.055)">1000</text>
<text transform="translate(284.3 413.4) scale(1 1.055)">500</text>
<text transform="translate(284.3 580.1) scale(1 1.055)">0</text>
<text transform="translate(284.3 746.8) scale(1 1.055)">-500</text>
<text transform="translate(284.3 913.4) scale(1 1.055)">-1000</text>
<text transform="translate(284.3 1080.1) scale(1 1.055)">-1500</text>
</g>
<g text-anchor="middle">
<text transform="translate(343.3 662.3) scale(1 1.055)">0</text>
<text transform="translate(652.6 662.3) scale(1 1.055)">50</text>
<text transform="translate(962 662.3) scale(1 1.055)">100</text>
<text transform="translate(1271.3 662.3) scale(1 1.055)">150</text>
<text transform="translate(1580.7 662.3) scale(1 1.055)">200</text>
<text transform="translate(1890 662.3) scale(1 1.055)">250</text>
<g font-size="69.8"><text dx="0 -2.5 -1.7 -3.2 0 3.2 1 3.2" transform="translate(1116.2 1132.1) scale(1 1.055)">Time (s)</text></g>
<text transform="translate(77 557.6) rotate(-90) scale(1 1.055)">Load F (N)</text>
</g>
</g>
<g font-size="57.9" fill="#000">
<line x1="412.9" y1="105.8" x2="522.9" y2="105.8" stroke="#000000" stroke-width="10.2" stroke-linecap="round"/>
<text transform="translate(536 125.8) scale(1 1.055)">P1 (1 cycle)</text>
<line x1="882.9" y1="105.8" x2="991.9" y2="105.8" stroke="#ff0000" stroke-width="10.2" stroke-linecap="round"/>
<text transform="translate(1006.5 125.8) scale(1 1.055)">P2 (10 cycles)</text>
<line x1="1415" y1="105.8" x2="1523.9" y2="105.8" stroke="#008000" stroke-width="10.2" stroke-linecap="round"/>
<text transform="translate(1537.5 125.8) scale(1 1.055)">P3 (20 cycles)</text>
</g>
<text class="cap" x="992.5" y="1286.7" text-anchor="middle" font-size="85">(<tspan font-weight="bold">a</tspan>)</text>
</g>
<g clip-path="url(#clipb)">
<g class="panel-b">
<g fill="none" stroke="#d9d9d9" stroke-width="2.6">
<line x1="402" y1="1455.3" x2="1841" y2="1455.3"/>
<line x1="402" y1="1573.6" x2="1841" y2="1573.6"/>
<line x1="402" y1="1690" x2="1841" y2="1690"/>
<line x1="402" y1="1806.6" x2="1841" y2="1806.6"/>
<line x1="402" y1="2041.1" x2="1841" y2="2041.1"/>
<line x1="402" y1="2155.7" x2="1841" y2="2155.7"/>
<line x1="402" y1="2272" x2="1841" y2="2272"/>
<line x1="402" y1="2390.7" x2="1841" y2="2390.7"/>
<line x1="689.8" y1="1455.3" x2="689.8" y2="2390.7"/>
<line x1="977.6" y1="1455.3" x2="977.6" y2="2390.7"/>
<line x1="1265.4" y1="1455.3" x2="1265.4" y2="2390.7"/>
<line x1="1553.2" y1="1455.3" x2="1553.2" y2="2390.7"/>
<line x1="1841" y1="1455.3" x2="1841" y2="2390.7"/>
</g>
<g fill="none" stroke="#bfbfbf" stroke-width="2.8">
<line x1="402" y1="1924.5" x2="1841" y2="1924.5"/>
<line x1="402" y1="1455.3" x2="402" y2="2390.7"/>
</g>
<clipPath id="plot-b"><rect x="402" y="1435.3" width="1459" height="975.4"/></clipPath>
<g clip-path="url(#plot-b)" fill="none" stroke-width="9.6" stroke-linecap="round" stroke-linejoin="round">
<path stroke="#33cc33" d="M402.6 1924.5 L403.9 1914.7 L405.1 1904.8 L406.4 1895 L407.6 1885.2 L408.9 1875.4 L410.1 1865.5 L411.4 1855.7 L412.6 1845.9 L413.9 1836.1 L415.2 1826.2 L416.4 1816.4 L417.7 1806.6 L418.9 1796.9 L420.2 1787.2 L421.4 1777.4 L422.7 1767.7 L423.9 1758 L425.2 1748.3 L426.5 1738.6 L427.7 1728.9 L429 1719.2 L430.2 1709.4 L431.5 1699.7 L432.7 1690 L434 1680.3 L435.2 1670.6 L436.5 1660.9 L437.8 1651.2 L439 1641.5 L440.3 1631.8 L441.5 1620.8 L442.8 1608.1 L444 1595.4 L445.3 1584.4 L446.5 1576.6 L447.8 1573.6 L448.7 1575.7 L449.7 1581.3 L450.6 1589.9 L451.5 1600.6 L452.4 1612.8 L453.4 1625.8 L454.3 1638.7 L455.2 1650.9 L456.1 1661.6 L457.1 1671.4 L458 1681.2 L458.9 1691 L459.8 1700.8 L460.8 1710.6 L461.7 1720.4 L462.6 1730.2 L463.5 1740 L464.5 1749.8 L465.4 1759.6 L466.3 1769.4 L467.3 1779.2 L468.2 1788.9 L469.1 1798.7 L470 1808.6 L471 1818.5 L471.9 1828.4 L472.8 1838.3 L473.7 1848.2 L474.7 1858.1 L475.6 1868 L476.5 1877.9 L477.4 1887.8 L478.4 1897.7 L479.3 1907.6 L480.2 1917.5 L481.1 1927.4 L482.1 1937.2 L483 1947 L483.9 1956.8 L484.9 1966.6 L485.8 1976.4 L486.7 1986.2 L487.6 1996 L488.6 2005.8 L489.5 2015.6 L490.4 2025.4 L491.3 2035.2 L492.3 2044.9 L493.2 2054.5 L494.1 2064.2 L495 2073.8 L496 2083.4 L496.9 2093.1 L497.8 2102.7 L498.8 2112.3 L499.7 2122 L500.6 2131.6 L501.5 2141.2 L502.5 2150.8 L503.4 2160.5 L504.3 2170.3 L505.2 2180.1 L506.2 2189.9 L507.1 2200.6 L508 2212.8 L508.9 2225.7 L509.9 2238.6 L510.8 2250.8 L511.7 2261.5 L512.6 2270.1 L513.6 2275.8 L514.5 2277.9 L515.3 2275.2 L516 2267.9 L516.8 2257.3 L517.6 2244.7 L518.4 2231.3 L519.1 2218.2 L519.9 2206.9 L520.7 2196.7 L521.4 2186.6 L522.2 2176.5 L523 2166.3 L523.8 2156.2 L524.5 2146.2 L525.3 2136.2 L526.1 2126.2 L526.8 2116.2 L527.6 2106.3 L528.4 2096.3 L529.2 2086.3 L529.9 2076.3 L530.7 2066.3 L531.5 2056.3 L532.2 2046.3 L533 2036.3 L533.8 2026.1 L534.6 2015.9 L535.3 2005.8 L536.1 1995.6 L536.9 1985.2 L537.6 1974.5 L538.4 1963.6 L539.2 1952.9 L540 1942.7 L540.7 1933.1 L541.5 1924.5 L542.7 1912.6 L543.9 1901.9 L545 1891.8 L546.2 1882.3 L547.4 1873 L548.6 1863.6 L549.8 1853.8 L550.9 1843.7 L552.1 1833.5 L553.3 1823.4 L554.5 1813.3 L555.7 1803.3 L556.8 1793.3 L558 1783.3 L559.2 1773.3 L560.4 1763.3 L561.6 1753.3 L562.7 1743.3 L563.9 1733.3 L565.1 1723.3 L566.3 1713.3 L567.5 1703.3 L568.6 1693.3 L569.8 1683.3 L571 1673.4 L572.2 1663.4 L573.4 1653.4 L574.5 1643.4 L575.7 1633.5 L576.9 1623.5 L578.1 1613.5 L579.3 1603.5 L580.4 1593.6 L581.6 1583.6 L582.8 1573.6"/>
<path stroke="#0000ff" d="M408.3 1822.5 L409 1810.8 L409.8 1799.6 L410.5 1789.3 L411.3 1780.1 L412 1772.3 L413.6 1758.6 L415.2 1747 L416.8 1737.1 L418.3 1728.4 L419.9 1720.8 L421.5 1713.9 L423 1707.6 L424.6 1701.8 L426.2 1696.3 L427.8 1690.8 L429.3 1685.7 L430.9 1681 L432.5 1676.6 L434.1 1672.4 L435.6 1668 L437.2 1663.5 L438.8 1658.7 L440.4 1653.3 L441.9 1647.4 L443.5 1641 L445.1 1634.1 L446.6 1626.7 L448.2 1618.9 L449.8 1609.7 L451.4 1599.2 L452.9 1589.1 L454.5 1581.4 L456.3 1574.5 L458.1 1568.7 L459.9 1566.3 L460.2 1566.8 L460.6 1568.3 L461 1570.8 L461.4 1574.1 L461.8 1578.3 L462.1 1583.2 L462.5 1588.9 L462.9 1595.4 L463.3 1602.5 L463.7 1610.2 L464.1 1618.6 L464.4 1627.5 L464.8 1636.9 L465.2 1646.8 L465.6 1657.1 L466 1667.8 L466.3 1678.8 L466.7 1690.2 L467.1 1701.8 L467.5 1713.6 L467.9 1725.6 L468.2 1737.8 L468.6 1750 L469 1762.3 L469.4 1774.5 L469.8 1786.8 L470.1 1798.9 L470.5 1811 L470.9 1823 L471.3 1834.8 L471.7 1846.4 L472 1857.6 L472.4 1868.5 L472.8 1879 L473.2 1889.1 L473.6 1898.8 L473.9 1907.9 L474.3 1916.5 L474.7 1924.5 L475.2 1935.5 L475.8 1946.8 L476.3 1958.4 L476.9 1970.1 L477.4 1982 L478 1994.1 L478.5 2006.2 L479.1 2018.5 L479.6 2030.8 L480.2 2043.1 L480.7 2055.2 L481.3 2067.3 L481.8 2079.3 L482.3 2091.3 L482.9 2103.1 L483.4 2114.8 L484 2126.3 L484.5 2137.6 L485.1 2148.6 L485.6 2159.5 L486.2 2170.2 L486.7 2180.5 L487.3 2190.5 L487.8 2200.2 L488.4 2209.4 L488.9 2218.1 L489.4 2226.4 L490 2234.2 L490.5 2241.5 L491.1 2248.2 L491.6 2254.4 L492.2 2259.9 L492.7 2264.8 L493.3 2269 L493.8 2272.5 L494.4 2275.4 L494.9 2277.4 L495.5 2278.7 L496 2279.1 L496.3 2278.6 L496.7 2277 L497 2274.5 L497.3 2271 L497.6 2266.7 L498 2261.5 L498.3 2255.6 L498.6 2248.9 L498.9 2241.6 L499.3 2233.6 L499.6 2225 L499.9 2215.8 L500.2 2206.1 L500.6 2195.9 L500.9 2185.4 L501.2 2174.4 L501.5 2163.1 L501.9 2151.6 L502.2 2140 L502.5 2128.1 L502.8 2116.1 L503.2 2104.1 L503.5 2091.9 L503.8 2079.8 L504.1 2067.6 L504.5 2055.6 L504.8 2043.7 L505.1 2031.8 L505.4 2020 L505.8 2008.5 L506.1 1997.4 L506.4 1986.5 L506.7 1976.1 L507.1 1966.1 L507.4 1956.7 L507.7 1947.7 L508 1939.3 L508.4 1931.6 L508.7 1924.5 L509.3 1912.2 L509.9 1899.7 L510.5 1887.1 L511 1874.4 L511.6 1861.6 L512.2 1848.8 L512.8 1835.9 L513.4 1823.1 L514 1810.3 L514.6 1797.6 L515.2 1785.1 L515.7 1772.7 L516.3 1760.3 L516.9 1748.2 L517.5 1736.2 L518.1 1724.4 L518.7 1712.9 L519.3 1701.6 L519.9 1690.5 L520.4 1679.8 L521 1669.4 L521.6 1659.4 L522.2 1649.7 L522.8 1640.4 L523.4 1631.5 L524 1623.1 L524.6 1615.2 L525.1 1607.7 L525.7 1600.8 L526.3 1594.4 L526.9 1588.6 L527.5 1583.4 L528.1 1578.8 L528.7 1574.8 L529.3 1571.5 L529.8 1568.8 L530.4 1566.9 L531 1565.7 L531.6 1565.3 L532 1565.8 L532.4 1567.2 L532.8 1569.4 L533.2 1572.5 L533.6 1576.3 L534 1580.9 L534.5 1586.2 L534.9 1592.2 L535.3 1598.8 L535.7 1606 L536.1 1613.8 L536.5 1622.2 L536.9 1631.1 L537.3 1640.4 L537.7 1650.1 L538.1 1660.3 L538.5 1670.8 L538.9 1681.7 L539.3 1692.8 L539.8 1704.2 L540.2 1715.9 L540.6 1727.7 L541 1739.7 L541.4 1751.8 L541.8 1764 L542.2 1776.2 L542.6 1788.4 L543 1800.7 L543.4 1812.9 L543.8 1825.1 L544.2 1837.1 L544.6 1849 L545.1 1860.7 L545.5 1872.1 L545.9 1883.3 L546.3 1894.2 L546.7 1904.7 L547.1 1914.8 L547.5 1924.5 L547.9 1933.8 L548.3 1943.6 L548.7 1953.9 L549.1 1964.5 L549.5 1975.4 L549.9 1986.7 L550.3 1998.3 L550.7 2010.1 L551.1 2022.1 L551.4 2034.2 L551.8 2046.4 L552.2 2058.5 L552.6 2070.6 L553 2082.8 L553.4 2094.9 L553.8 2106.9 L554.2 2118.9 L554.6 2130.6 L555 2142.2 L555.4 2153.5 L555.8 2164.7 L556.2 2175.6 L556.6 2186.1 L557 2196.3 L557.4 2206 L557.8 2215.2 L558.2 2223.9 L558.6 2232.1 L558.9 2239.7 L559.3 2246.6 L559.7 2252.9 L560.1 2258.5 L560.5 2263.3 L560.9 2267.3 L561.3 2270.5 L561.7 2272.9 L562.1 2274.4 L562.5 2274.8 L562.9 2274.3 L563.4 2272.8 L563.8 2270.3 L564.2 2267 L564.7 2262.8 L565.1 2257.8 L565.5 2252 L566 2245.5 L566.4 2238.2 L566.8 2230.4 L567.3 2221.9 L567.7 2212.9 L568.1 2203.4 L568.6 2193.4 L569 2182.9 L569.4 2172.1 L569.9 2160.9 L570.3 2149.6 L570.8 2138 L571.2 2126.2 L571.6 2114.3 L572.1 2102.2 L572.5 2090.1 L572.9 2077.9 L573.4 2065.7 L573.8 2053.6 L574.2 2041.5 L574.7 2029.4 L575.1 2017.4 L575.5 2005.6 L576 1994.1 L576.4 1982.9 L576.8 1972.1 L577.3 1961.6 L577.7 1951.6 L578.1 1942 L578.6 1933 L579 1924.5 L579.5 1914 L580.1 1903.1 L580.6 1892 L581.2 1880.6 L581.7 1869 L582.3 1857.1 L582.8 1845.2 L583.3 1833.1 L583.9 1820.9 L584.4 1808.6 L585 1796.4 L585.5 1784.2 L586.1 1772.1 L586.6 1760 L587.2 1748 L587.7 1736.1 L588.2 1724.4 L588.8 1712.9 L589.3 1701.6 L589.9 1690.5 L590.4 1679.7 L591 1669.3 L591.5 1659.1 L592 1649.4 L592.6 1640 L593.1 1631.1 L593.7 1622.7 L594.2 1614.7 L594.8 1607.3 L595.3 1600.4 L595.9 1594.2 L596.4 1588.5 L596.9 1583.5 L597.5 1579.2 L598 1575.6 L598.6 1572.7 L599.1 1570.6 L599.7 1569.3 L600.2 1568.9 L600.6 1569.4 L600.9 1570.9 L601.3 1573.3 L601.6 1576.6 L602 1580.7 L602.4 1585.7 L602.7 1591.4 L603.1 1597.8 L603.4 1604.8 L603.8 1612.6 L604.1 1620.9 L604.5 1629.7 L604.9 1639.1 L605.2 1648.9 L605.6 1659.2 L605.9 1669.8 L606.3 1680.8 L606.7 1692.1 L607 1703.6 L607.4 1715.4 L607.7 1727.3 L608.1 1739.4 L608.5 1751.5 L608.8 1763.7 L609.2 1775.9 L609.5 1788.1 L609.9 1800.1 L610.3 1812.2 L610.6 1824.1 L611 1835.8 L611.3 1847.2 L611.7 1858.4 L612 1869.2 L612.4 1879.6 L612.8 1889.6 L613.1 1899.1 L613.5 1908.2 L613.8 1916.6 L614.2 1924.5 L614.7 1935.7 L615.3 1947.1 L615.8 1958.8 L616.3 1970.7 L616.9 1982.7 L617.4 1994.9 L617.9 2007.2 L618.4 2019.5 L619 2032 L619.5 2044.3 L620 2056.5 L620.6 2068.7 L621.1 2080.8 L621.6 2092.8 L622.2 2104.7 L622.7 2116.5 L623.2 2128 L623.8 2139.4 L624.3 2150.5 L624.8 2161.5 L625.3 2172.2 L625.9 2182.6 L626.4 2192.6 L626.9 2202.3 L627.5 2211.5 L628 2220.3 L628.5 2228.6 L629.1 2236.5 L629.6 2243.8 L630.1 2250.5 L630.7 2256.7 L631.2 2262.2 L631.7 2267.1 L632.2 2271.3 L632.8 2274.9 L633.3 2277.7 L633.8 2279.8 L634.4 2281.1 L634.9 2281.5 L635.3 2281 L635.6 2279.5 L636 2277.1 L636.3 2273.8 L636.7 2269.6 L637 2264.7 L637.4 2259.1 L637.7 2252.7 L638.1 2245.7 L638.4 2238 L638.8 2229.7 L639.1 2220.9 L639.5 2211.6 L639.8 2201.7 L640.2 2191.5 L640.5 2180.9 L640.9 2169.9 L641.2 2158.6 L641.6 2147.2 L641.9 2135.6 L642.3 2123.8 L642.6 2111.9 L643 2099.9 L643.3 2087.8 L643.7 2075.7 L644 2063.6 L644.4 2051.5 L644.7 2039.6 L645.1 2027.6 L645.4 2015.8 L645.8 2004.2 L646.1 1992.9 L646.5 1981.8 L646.8 1971.2 L647.2 1960.9 L647.5 1951.1 L647.9 1941.7 L648.2 1932.8 L648.6 1924.5 L649.1 1913.9 L649.5 1902.9 L650 1891.7 L650.4 1880.2 L650.9 1868.5 L651.3 1856.6 L651.8 1844.6 L652.2 1832.5 L652.7 1820.2 L653.1 1807.9 L653.6 1795.7 L654 1783.6 L654.5 1771.4 L655 1759.3 L655.4 1747.4 L655.9 1735.5 L656.3 1723.8 L656.8 1712.3 L657.2 1701 L657.7 1690 L658.1 1679.2 L658.6 1668.8 L659 1658.7 L659.5 1649 L659.9 1639.7 L660.4 1630.8 L660.9 1622.4 L661.3 1614.5 L661.8 1607.1 L662.2 1600.3 L662.7 1594 L663.1 1588.4 L663.6 1583.4 L664 1579.1 L664.5 1575.5 L664.9 1572.7 L665.4 1570.6 L665.8 1569.3 L666.3 1568.9 L666.7 1569.3 L667.2 1570.7 L667.6 1573 L668.1 1576 L668.5 1579.9 L669 1584.5 L669.4 1589.8 L669.9 1595.8 L670.3 1602.4 L670.8 1609.7 L671.2 1617.5 L671.7 1625.8 L672.1 1634.7 L672.6 1644 L673 1653.8 L673.5 1663.9 L673.9 1674.4 L674.4 1685.3 L674.8 1696.4 L675.3 1707.8 L675.7 1719.3 L676.2 1731.1 L676.6 1743 L677.1 1755 L677.5 1767.1 L678 1779.2 L678.4 1791.3 L678.9 1803.4 L679.3 1815.5 L679.8 1827.5 L680.2 1839.4 L680.7 1851.1 L681.1 1862.5 L681.6 1873.7 L682 1884.6 L682.5 1895.2 L682.9 1905.4 L683.4 1915.2 L683.8 1924.5 L684.3 1933.9 L684.7 1943.7 L685.2 1953.9 L685.6 1964.5 L686.1 1975.3 L686.5 1986.5 L687 1997.9 L687.5 2009.5 L687.9 2021.2 L688.4 2033.1 L688.8 2045.1 L689.3 2057 L689.7 2068.9 L690.2 2080.8 L690.6 2092.6 L691.1 2104.4 L691.6 2116.1 L692 2127.7 L692.5 2139 L692.9 2150.2 L693.4 2161.1 L693.8 2171.9 L694.3 2182.4 L694.8 2192.4 L695.2 2202.1 L695.7 2211.4 L696.1 2220.2 L696.6 2228.5 L697 2236.3 L697.5 2243.5 L697.9 2250.1 L698.4 2256 L698.9 2261.3 L699.3 2265.8 L699.8 2269.6 L700.2 2272.7 L700.7 2274.9 L701.1 2276.3 L701.6 2276.7 L702 2276.2 L702.4 2274.8 L702.7 2272.3 L703.1 2269.1 L703.5 2265 L703.9 2260.1 L704.3 2254.4 L704.7 2248.1 L705 2241 L705.4 2233.4 L705.8 2225.1 L706.2 2216.3 L706.6 2207 L706.9 2197.2 L707.3 2187 L707.7 2176.5 L708.1 2165.5 L708.5 2154.3 L708.9 2143 L709.2 2131.5 L709.6 2119.8 L710 2108 L710.4 2096.1 L710.8 2084.1 L711.2 2072.1 L711.5 2060.2 L711.9 2048.3 L712.3 2036.5 L712.7 2024.7 L713.1 2013.1 L713.4 2001.7 L713.8 1990.7 L714.2 1979.9 L714.6 1969.5 L715 1959.5 L715.4 1950 L715.7 1941 L716.1 1932.4 L716.5 1924.5 L717 1913.6 L717.6 1902.4 L718.1 1891 L718.6 1879.4 L719.2 1867.6 L719.7 1855.7 L720.2 1843.6 L720.8 1831.4 L721.3 1819.2 L721.8 1806.9 L722.4 1794.8 L722.9 1782.6 L723.4 1770.5 L724 1758.5 L724.5 1746.6 L725 1734.8 L725.6 1723.2 L726.1 1711.7 L726.6 1700.5 L727.1 1689.5 L727.7 1678.8 L728.2 1668.3 L728.7 1658.2 L729.3 1648.5 L729.8 1639.1 L730.3 1630.1 L730.9 1621.6 L731.4 1613.5 L731.9 1605.9 L732.5 1598.8 L733 1592.3 L733.5 1586.3 L734.1 1580.9 L734.6 1576.2 L735.1 1572.1 L735.7 1568.6 L736.2 1565.9 L736.7 1563.9 L737.3 1562.7 L737.8 1562.2 L738.1 1562.7 L738.5 1564.2 L738.8 1566.5 L739.1 1569.7 L739.4 1573.7 L739.8 1578.5 L740.1 1584 L740.4 1590.1 L740.7 1597 L741.1 1604.4 L741.4 1612.5 L741.7 1621 L742.1 1630.1 L742.4 1639.7 L742.7 1649.6 L743 1660 L743.4 1670.7 L743.7 1681.7 L744 1693 L744.3 1704.5 L744.7 1716.2 L745 1728.1 L745.3 1740.1 L745.7 1752.1 L746 1764.2 L746.3 1776.3 L746.6 1788.3 L747 1800.3 L747.3 1812.2 L747.6 1824 L748 1835.6 L748.3 1847 L748.6 1858.1 L748.9 1868.8 L749.3 1879.2 L749.6 1889.2 L749.9 1898.8 L750.2 1907.9 L750.6 1916.5 L750.9 1924.5 L751.4 1935.2 L751.8 1946.3 L752.3 1957.5 L752.7 1969 L753.2 1980.7 L753.6 1992.5 L754.1 2004.5 L754.5 2016.5 L755 2028.7 L755.4 2040.8 L755.9 2052.8 L756.3 2064.8 L756.8 2076.7 L757.3 2088.5 L757.7 2100.2 L758.2 2111.8 L758.6 2123.2 L759.1 2134.5 L759.5 2145.5 L760 2156.2 L760.4 2166.8 L760.9 2177.2 L761.3 2187.1 L761.8 2196.7 L762.2 2205.9 L762.7 2214.6 L763.2 2222.9 L763.6 2230.7 L764.1 2238 L764.5 2244.7 L765 2250.9 L765.4 2256.4 L765.9 2261.3 L766.3 2265.5 L766.8 2269 L767.2 2271.8 L767.7 2273.9 L768.1 2275.1 L768.6 2275.6 L769 2275.1 L769.4 2273.6 L769.8 2271.2 L770.1 2267.9 L770.5 2263.9 L770.9 2259 L771.3 2253.4 L771.7 2247.1 L772.1 2240.1 L772.4 2232.4 L772.8 2224.2 L773.2 2215.5 L773.6 2206.2 L774 2196.5 L774.4 2186.4 L774.8 2175.8 L775.1 2165 L775.5 2153.8 L775.9 2142.6 L776.3 2131.1 L776.7 2119.5 L777.1 2107.7 L777.4 2095.8 L777.8 2083.9 L778.2 2072 L778.6 2060.1 L779 2048.2 L779.4 2036.4 L779.8 2024.7 L780.1 2013.1 L780.5 2001.8 L780.9 1990.7 L781.3 1979.9 L781.7 1969.6 L782.1 1959.6 L782.4 1950 L782.8 1941 L783.2 1932.5 L783.6 1924.5 L784.1 1913.5 L784.7 1902.3 L785.2 1890.8 L785.7 1879.1 L786.3 1867.2 L786.8 1855.2 L787.4 1843 L787.9 1830.7 L788.4 1818.4 L789 1806 L789.5 1793.7 L790 1781.5 L790.6 1769.3 L791.1 1757.2 L791.6 1745.2 L792.2 1733.3 L792.7 1721.6 L793.2 1710.1 L793.8 1698.8 L794.3 1687.8 L794.9 1677.1 L795.4 1666.8 L795.9 1656.7 L796.5 1647.1 L797 1637.8 L797.5 1629 L798.1 1620.7 L798.6 1612.8 L799.1 1605.5 L799.7 1598.7 L800.2 1592.6 L800.7 1587 L801.3 1582.1 L801.8 1577.8 L802.4 1574.3 L802.9 1571.5 L803.4 1569.4 L804 1568.1 L804.5 1567.7 L804.8 1568.2 L805.2 1569.6 L805.5 1572 L805.8 1575.2 L806.2 1579.2 L806.5 1584 L806.9 1589.5 L807.2 1595.8 L807.5 1602.7 L807.9 1610.2 L808.2 1618.3 L808.5 1627 L808.9 1636.2 L809.2 1645.8 L809.5 1655.9 L809.9 1666.3 L810.2 1677.1 L810.5 1688.2 L810.9 1699.6 L811.2 1711.3 L811.6 1723.1 L811.9 1735 L812.2 1747.1 L812.6 1759.3 L812.9 1771.4 L813.2 1783.6 L813.6 1795.8 L813.9 1807.8 L814.2 1819.9 L814.6 1831.7 L814.9 1843.4 L815.2 1854.8 L815.6 1866 L815.9 1876.8 L816.3 1887.2 L816.6 1897.3 L816.9 1906.8 L817.3 1915.9 L817.6 1924.5 L818 1935 L818.4 1945.8 L818.9 1956.9 L819.3 1968.3 L819.7 1980 L820.1 1991.8 L820.5 2003.9 L821 2016.1 L821.4 2028.3 L821.8 2040.7 L822.2 2052.9 L822.7 2065.1 L823.1 2077.3 L823.5 2089.4 L823.9 2101.4 L824.3 2113.3 L824.8 2125 L825.2 2136.5 L825.6 2147.8 L826 2158.8 L826.4 2169.7 L826.9 2180.2 L827.3 2190.4 L827.7 2200.2 L828.1 2209.5 L828.5 2218.3 L829 2226.6 L829.4 2234.4 L829.8 2241.6 L830.2 2248.2 L830.7 2254.2 L831.1 2259.4 L831.5 2264 L831.9 2267.8 L832.3 2270.8 L832.8 2273 L833.2 2274.4 L833.6 2274.8 L834 2274.3 L834.5 2272.8 L834.9 2270.4 L835.4 2267.1 L835.8 2262.9 L836.2 2258 L836.7 2252.2 L837.1 2245.7 L837.6 2238.6 L838 2230.8 L838.4 2222.4 L838.9 2213.5 L839.3 2204 L839.8 2194.1 L840.2 2183.7 L840.6 2173 L841.1 2161.9 L841.5 2150.5 L842 2139.1 L842.4 2127.3 L842.8 2115.4 L843.3 2103.4 L843.7 2091.3 L844.1 2079.1 L844.6 2067 L845 2054.8 L845.5 2042.7 L845.9 2030.6 L846.3 2018.6 L846.8 2006.8 L847.2 1995.2 L847.7 1983.9 L848.1 1972.9 L848.5 1962.3 L849 1952.2 L849.4 1942.4 L849.9 1933.2 L850.3 1924.5 L850.8 1914.1 L851.4 1903.4 L851.9 1892.4 L852.4 1881.1 L852.9 1869.6 L853.5 1857.8 L854 1845.9 L854.5 1833.8 L855 1821.5 L855.6 1809.2 L856.1 1797 L856.6 1784.8 L857.1 1772.6 L857.7 1760.4 L858.2 1748.3 L858.7 1736.3 L859.2 1724.5 L859.8 1712.8 L860.3 1701.4 L860.8 1690.2 L861.3 1679.3 L861.9 1668.7 L862.4 1658.4 L862.9 1648.5 L863.4 1639 L864 1629.9 L864.5 1621.4 L865 1613.3 L865.5 1605.7 L866.1 1598.7 L866.6 1592.3 L867.1 1586.6 L867.6 1581.5 L868.2 1577.1 L868.7 1573.4 L869.2 1570.4 L869.7 1568.3 L870.3 1566.9 L870.8 1566.5 L871.1 1567 L871.4 1568.5 L871.7 1571 L872.1 1574.3 L872.4 1578.4 L872.7 1583.4 L873 1589.1 L873.3 1595.5 L873.6 1602.7 L873.9 1610.4 L874.2 1618.8 L874.6 1627.7 L874.9 1637.1 L875.2 1646.9 L875.5 1657.2 L875.8 1667.9 L876.1 1679 L876.4 1690.3 L876.7 1701.9 L877.1 1713.7 L877.4 1725.7 L877.7 1737.8 L878 1750.1 L878.3 1762.3 L878.6 1774.6 L878.9 1786.8 L879.2 1799 L879.6 1811.1 L879.9 1823.1 L880.2 1834.8 L880.5 1846.4 L880.8 1857.6 L881.1 1868.5 L881.4 1879.1 L881.7 1889.2 L882.1 1898.8 L882.4 1907.9 L882.7 1916.5 L883 1924.5 L883.5 1935.7 L883.9 1947.2 L884.4 1958.9 L884.8 1970.8 L885.3 1982.9 L885.7 1995.1 L886.2 2007.5 L886.6 2019.9 L887.1 2032.4 L887.6 2044.8 L888 2057.1 L888.5 2069.4 L888.9 2081.5 L889.4 2093.6 L889.8 2105.5 L890.3 2117.3 L890.7 2128.9 L891.2 2140.3 L891.6 2151.4 L892.1 2162.3 L892.6 2172.9 L893 2183.2 L893.5 2193.2 L893.9 2202.7 L894.4 2211.7 L894.8 2220.3 L895.3 2228.4 L895.7 2235.9 L896.2 2242.9 L896.7 2249.2 L897.1 2255 L897.6 2260 L898 2264.4 L898.5 2268.1 L898.9 2271 L899.4 2273.1 L899.8 2274.4 L900.3 2274.8 L900.7 2274.3 L901.1 2272.8 L901.5 2270.3 L902 2266.9 L902.4 2262.7 L902.8 2257.6 L903.2 2251.8 L903.6 2245.2 L904 2237.9 L904.4 2230 L904.8 2221.5 L905.3 2212.4 L905.7 2202.8 L906.1 2192.8 L906.5 2182.3 L906.9 2171.4 L907.3 2160.1 L907.7 2148.7 L908.1 2137.1 L908.6 2125.3 L909 2113.3 L909.4 2101.3 L909.8 2089.1 L910.2 2076.9 L910.6 2064.7 L911 2052.5 L911.5 2040.5 L911.9 2028.3 L912.3 2016.4 L912.7 2004.7 L913.1 1993.3 L913.5 1982.1 L913.9 1971.4 L914.3 1961 L914.8 1951.1 L915.2 1941.7 L915.6 1932.8 L916 1924.5 L916.5 1913.6 L917.1 1902.5 L917.6 1891.1 L918.2 1879.4 L918.7 1867.5 L919.3 1855.5 L919.8 1843.3 L920.4 1831 L920.9 1818.6 L921.5 1806.2 L922 1793.9 L922.6 1781.6 L923.1 1769.3 L923.6 1757.1 L924.2 1745 L924.7 1733 L925.3 1721.2 L925.8 1709.6 L926.4 1698.3 L926.9 1687.1 L927.5 1676.3 L928 1665.8 L928.6 1655.7 L929.1 1645.9 L929.7 1636.5 L930.2 1627.6 L930.7 1619.1 L931.3 1611.2 L931.8 1603.8 L932.4 1596.9 L932.9 1590.6 L933.5 1585 L934 1580 L934.6 1575.7 L935.1 1572 L935.7 1569.1 L936.2 1567 L936.8 1565.8 L937.3 1565.3 L937.6 1565.8 L937.9 1567.4 L938.2 1569.9 L938.5 1573.4 L938.8 1577.7 L939.1 1582.8 L939.3 1588.7 L939.6 1595.4 L939.9 1602.7 L940.2 1610.7 L940.5 1619.3 L940.8 1628.4 L941.1 1638.1 L941.4 1648.2 L941.7 1658.8 L942 1669.8 L942.3 1681 L942.6 1692.6 L942.9 1704.4 L943.1 1716.5 L943.4 1728.7 L943.7 1741 L944 1753.3 L944.3 1765.7 L944.6 1778.1 L944.9 1790.4 L945.2 1802.5 L945.5 1814.6 L945.8 1826.6 L946.1 1838.3 L946.4 1849.6 L946.7 1860.7 L946.9 1871.3 L947.2 1881.5 L947.5 1891.3 L947.8 1900.5 L948.1 1909.1 L948.4 1917.1 L948.7 1924.5 L949.2 1936.3 L949.7 1948.3 L950.2 1960.5 L950.7 1972.7 L951.2 1985.1 L951.7 1997.5 L952.2 2010 L952.7 2022.4 L953.2 2034.9 L953.6 2047.2 L954.1 2059.4 L954.6 2071.5 L955.1 2083.4 L955.6 2095.3 L956.1 2107 L956.6 2118.5 L957.1 2129.8 L957.6 2140.8 L958.1 2151.6 L958.6 2162.2 L959.1 2172.6 L959.6 2182.6 L960.1 2192.3 L960.6 2201.5 L961.1 2210.4 L961.6 2218.8 L962.1 2226.7 L962.6 2234.2 L963.1 2241.2 L963.5 2247.6 L964 2253.4 L964.5 2258.6 L965 2263.3 L965.5 2267.2 L966 2270.6 L966.5 2273.2 L967 2275.2 L967.5 2276.3 L968 2276.7 L968.3 2276.3 L968.7 2274.9 L969 2272.5 L969.4 2269.4 L969.7 2265.5 L970.1 2260.8 L970.4 2255.4 L970.8 2249.3 L971.1 2242.6 L971.5 2235.2 L971.8 2227.3 L972.2 2218.8 L972.5 2209.8 L972.8 2200.3 L973.2 2190.4 L973.5 2180.2 L973.9 2169.6 L974.2 2158.6 L974.6 2147.5 L974.9 2136.2 L975.3 2124.8 L975.6 2113.1 L976 2101.4 L976.3 2089.5 L976.7 2077.6 L977 2065.7 L977.3 2053.8 L977.7 2042 L978 2030 L978.4 2018.2 L978.7 2006.6 L979.1 1995.2 L979.4 1984 L979.8 1973.2 L980.1 1962.6 L980.5 1952.5 L980.8 1942.7 L981.2 1933.4 L981.5 1924.5 L981.9 1914.6 L982.3 1904.2 L982.7 1893.6 L983 1882.6 L983.4 1871.3 L983.8 1859.8 L984.2 1848 L984.6 1836.1 L985 1824.1 L985.4 1811.9 L985.8 1799.7 L986.1 1787.6 L986.5 1775.4 L986.9 1763.3 L987.3 1751.2 L987.7 1739.2 L988.1 1727.3 L988.5 1715.6 L988.9 1704.1 L989.2 1692.9 L989.6 1681.9 L990 1671.2 L990.4 1660.8 L990.8 1650.8 L991.2 1641.2 L991.6 1632.1 L992 1623.4 L992.3 1615.2 L992.7 1607.5 L993.1 1600.4 L993.5 1593.9 L993.9 1588.1 L994.3 1582.9 L994.7 1578.4 L995.1 1574.7 L995.4 1571.7 L995.8 1569.5 L996.2 1568.1 L996.6 1567.7 L997.1 1568.1 L997.5 1569.5 L998 1571.7 L998.4 1574.7 L998.9 1578.4 L999.3 1582.9 L999.8 1588.1 L1000.2 1594 L1000.7 1600.5 L1001.1 1607.6 L1001.6 1615.3 L1002 1623.5 L1002.5 1632.2 L1002.9 1641.3 L1003.4 1650.9 L1003.8 1661 L1004.3 1671.3 L1004.7 1682 L1005.2 1693 L1005.6 1704.3 L1006.1 1715.8 L1006.5 1727.5 L1007 1739.4 L1007.4 1751.4 L1007.9 1763.5 L1008.3 1775.6 L1008.8 1787.8 L1009.2 1799.9 L1009.7 1812.1 L1010.1 1824.3 L1010.6 1836.3 L1011 1848.2 L1011.5 1859.9 L1011.9 1871.4 L1012.4 1882.7 L1012.8 1893.7 L1013.3 1904.3 L1013.7 1914.6 L1014.2 1924.5 L1014.6 1933.4 L1015 1942.7 L1015.4 1952.5 L1015.8 1962.6 L1016.2 1973.1 L1016.6 1984 L1017 1995.1 L1017.4 2006.5 L1017.8 2018.1 L1018.3 2029.9 L1018.7 2041.8 L1019.1 2053.6 L1019.5 2065.4 L1019.9 2077.3 L1020.3 2089.1 L1020.7 2101 L1021.1 2112.7 L1021.5 2124.3 L1021.9 2135.7 L1022.3 2147 L1022.7 2158 L1023.1 2168.9 L1023.5 2179.5 L1023.9 2189.7 L1024.3 2199.5 L1024.7 2208.9 L1025.1 2217.9 L1025.5 2226.3 L1025.9 2234.2 L1026.4 2241.6 L1026.8 2248.3 L1027.2 2254.4 L1027.6 2259.7 L1028 2264.4 L1028.4 2268.3 L1028.8 2271.4 L1029.2 2273.7 L1029.6 2275.1 L1030 2275.6 L1030.4 2275.1 L1030.9 2273.8 L1031.3 2271.6 L1031.7 2268.6 L1032.2 2264.8 L1032.6 2260.4 L1033 2255.2 L1033.5 2249.3 L1033.9 2242.8 L1034.3 2235.7 L1034.8 2228.1 L1035.2 2219.9 L1035.6 2211.2 L1036.1 2202 L1036.5 2192.5 L1036.9 2182.5 L1037.4 2172.2 L1037.8 2161.5 L1038.2 2150.6 L1038.7 2139.6 L1039.1 2128.3 L1039.5 2116.9 L1040 2105.3 L1040.4 2093.5 L1040.8 2081.7 L1041.3 2069.9 L1041.7 2058 L1042.1 2046.1 L1042.6 2034.2 L1043 2022.3 L1043.4 2010.5 L1043.9 1998.8 L1044.3 1987.4 L1044.7 1976.1 L1045.2 1965.1 L1045.6 1954.5 L1046 1944.1 L1046.5 1934.1 L1046.9 1924.5 L1047.3 1915.4 L1047.7 1905.9 L1048.1 1895.9 L1048.5 1885.6 L1048.9 1874.9 L1049.3 1863.8 L1049.7 1852.5 L1050.1 1841 L1050.5 1829.2 L1050.9 1817.3 L1051.3 1805.3 L1051.7 1793.3 L1052.1 1781.2 L1052.5 1769.2 L1052.9 1757.1 L1053.3 1745.1 L1053.7 1733.2 L1054.1 1721.5 L1054.5 1709.9 L1055 1698.5 L1055.4 1687.3 L1055.8 1676.4 L1056.2 1665.9 L1056.6 1655.7 L1057 1645.9 L1057.4 1636.6 L1057.8 1627.6 L1058.2 1619.2 L1058.6 1611.4 L1059 1604.1 L1059.4 1597.4 L1059.8 1591.3 L1060.2 1586 L1060.6 1581.4 L1061 1577.5 L1061.4 1574.4 L1061.8 1572.2 L1062.2 1570.8 L1062.6 1570.3 L1063 1570.7 L1063.5 1572 L1063.9 1574.1 L1064.3 1576.9 L1064.7 1580.5 L1065.2 1584.8 L1065.6 1589.7 L1066 1595.3 L1066.5 1601.6 L1066.9 1608.4 L1067.3 1615.7 L1067.7 1623.6 L1068.2 1632 L1068.6 1640.8 L1069 1650.1 L1069.5 1659.8 L1069.9 1669.9 L1070.3 1680.3 L1070.7 1691 L1071.2 1702 L1071.6 1713.2 L1072 1724.7 L1072.4 1736.3 L1072.9 1748.1 L1073.3 1760.1 L1073.7 1772.1 L1074.2 1784.2 L1074.6 1796.4 L1075 1808.5 L1075.4 1820.7 L1075.9 1832.9 L1076.3 1845 L1076.7 1857 L1077.2 1868.8 L1077.6 1880.4 L1078 1891.9 L1078.4 1903 L1078.9 1913.9 L1079.3 1924.5 L1079.6 1932.7 L1080 1941.5 L1080.3 1950.8 L1080.6 1960.6 L1081 1970.8 L1081.3 1981.4 L1081.6 1992.3 L1081.9 2003.5 L1082.3 2015 L1082.6 2026.7 L1082.9 2038.6 L1083.3 2050.4 L1083.6 2062.3 L1083.9 2074.3 L1084.3 2086.3 L1084.6 2098.3 L1084.9 2110.2 L1085.3 2122 L1085.6 2133.6 L1085.9 2145.1 L1086.2 2156.4 L1086.6 2167.6 L1086.9 2178.4 L1087.2 2189 L1087.6 2199.1 L1087.9 2208.8 L1088.2 2218 L1088.6 2226.8 L1088.9 2234.9 L1089.2 2242.5 L1089.6 2249.5 L1089.9 2255.8 L1090.2 2261.4 L1090.5 2266.3 L1090.9 2270.3 L1091.2 2273.6 L1091.5 2276 L1091.9 2277.4 L1092.2 2277.9 L1092.8 2277.7 L1093.4 2277 L1094 2275.7 L1094.6 2274 L1095.2 2271.8 L1095.8 2269.2 L1096.3 2266.1 L1096.9 2262.5 L1097.5 2258.5 L1098.1 2254 L1098.7 2249 L1099.3 2243.5 L1099.9 2237.6 L1100.5 2231.2 L1101.1 2224.4 L1101.7 2217 L1102.3 2209.3 L1102.9 2201 L1103.5 2192.3 L1104 2183.1 L1104.6 2173.5 L1105.2 2163.4 L1105.8 2152.9 L1106.4 2142.1 L1107 2130.8 L1107.6 2119.1 L1108.2 2106.9 L1108.8 2094.3 L1109.4 2081.3 L1110 2067.8 L1110.6 2053.8 L1111.2 2039.4 L1111.7 2024.3 L1112.3 2008.8 L1112.9 1992.8 L1113.5 1976.4 L1114.1 1959.5 L1114.7 1942.2 L1115.3 1924.5 L1115.4 1920.7 L1115.5 1916.4 L1115.6 1911.6 L1115.8 1906.4 L1115.9 1900.7 L1116 1894.6 L1116.1 1888.1 L1116.2 1881.2 L1116.3 1873.9 L1116.5 1866.3 L1116.6 1858.3 L1116.7 1850 L1116.8 1841.4 L1116.9 1832.5 L1117 1823.3 L1117.1 1813.9 L1117.3 1804.2 L1117.4 1794.5 L1117.5 1784.5 L1117.6 1774.3 L1117.7 1764 L1117.8 1753.6 L1118 1743 L1118.1 1732.3 L1118.2 1721.5 L1118.3 1710.6 L1118.4 1699.7 L1118.5 1688.7 L1118.6 1677.7 L1118.8 1666.7 L1118.9 1655.7 L1119 1644.7 L1119.1 1633.8 L1119.2 1622.9 L1119.3 1612.1 L1119.5 1601.5 L1119.6 1590.9 L1119.7 1580.4 L1119.8 1570.1"/>
<path stroke="#d60093" d="M402.6 1744.1 L404.2 1738.9 L405.7 1734 L407.3 1729.2 L408.9 1724.5 L410.5 1720.1 L412 1715.9 L413.6 1711.9 L415.2 1707.9 L416.8 1704.2 L418.3 1700.6 L419.9 1697.2 L421.5 1694 L423 1691 L424.6 1688.2 L426.2 1685.6 L427.8 1683 L429.3 1680.5 L430.9 1677.9 L432.5 1675.2 L434.1 1672.5 L435.6 1669.9 L437.2 1667.3 L438.8 1664.5 L440.4 1661.4 L441.9 1658 L443.5 1654.3 L445.1 1649.9 L446.6 1644 L447.8 1636.5 L449 1625.8 L450.2 1614.1 L451.4 1603.3 L452.7 1591.4 L454.1 1579.8 L455.5 1572 L457.3 1565.9 L459.2 1563.1 L461.1 1566.2 L463 1575.2 L463.3 1578 L463.5 1583 L463.8 1589.9 L464 1598.5 L464.3 1608.4 L464.5 1619.2 L464.8 1630.7 L465 1642.5 L465.3 1654.3 L465.5 1665.8 L465.7 1671.9 L465.8 1678.5 L465.9 1685.4 L466.1 1692.8 L466.2 1700.6 L466.3 1708.8 L466.5 1717.3 L466.6 1726.1 L466.7 1735.3 L466.8 1744.8 L467 1754.6 L467.1 1764.7 L467.2 1775.1 L467.4 1785.7 L467.5 1796.5 L467.6 1807.5 L467.8 1818.9 L467.9 1830.4 L468 1842.1 L468.2 1854 L468.3 1866 L468.4 1878.1 L468.6 1890.3 L468.7 1902.6 L468.8 1914.9 L469 1927.3 L469.1 1939.6 L469.2 1951.9 L469.3 1964.3 L469.5 1976.6 L469.6 1988.9 L469.7 2001.1 L469.9 2013.3 L470 2025.4 L470.1 2037.4 L470.3 2049.1 L470.4 2060.7 L470.5 2072.1 L470.7 2083.3 L470.8 2094.4 L470.9 2105.3 L471.1 2116 L471.2 2126.5 L471.3 2136.7 L471.4 2146.6 L471.6 2156.4 L471.7 2165.9 L471.8 2175.1 L472 2184.1 L472.1 2192.6 L472.2 2200.9 L472.4 2208.7 L472.5 2216.2 L472.6 2223.2 L472.8 2229.9 L472.9 2236.1 L473 2241.8 L473.2 2247.1 L473.3 2251.9 L473.4 2256.2 L473.6 2259.9 L473.7 2263.2 L473.8 2265.8 L473.9 2268 L474.1 2269.5 L474.2 2270.4 L474.3 2270.7 L474.6 2270.3 L474.8 2269 L475.1 2266.8 L475.3 2263.8 L475.6 2260 L475.8 2255.4 L476.1 2250.1 L476.3 2244 L476.6 2237.3 L476.8 2229.8 L477.1 2221.8 L477.3 2213.1 L477.6 2203.8 L477.8 2193.9 L478.1 2183.5 L478.3 2172.6 L478.5 2161.1 L478.8 2149.3 L479 2137.2 L479.3 2124.6 L479.5 2111.6 L479.8 2098.3 L480 2084.6 L480.3 2070.6 L480.5 2056.4 L480.8 2041.8 L481 2026.8 L481.3 2011.6 L481.3 2006.1 L481.4 2000.1 L481.5 1993.4 L481.6 1986.1 L481.7 1978.4 L481.8 1970.1 L481.8 1961.4 L481.9 1952.3 L482 1942.8 L482.1 1933 L482.2 1923 L482.2 1912.6 L482.3 1902 L482.4 1891.3 L482.5 1880.5 L482.6 1869.6 L482.7 1858.8 L482.7 1847.9 L482.8 1837.2 L482.9 1826.5 L483 1816.1 L483.1 1805.8 L483.1 1795.9 L483.2 1786.3 L483.3 1777.1 L483.4 1768.2 L483.5 1759.7 L483.6 1748.5 L483.7 1736.5 L483.8 1724.1 L483.9 1711.9 L484 1700.4 L484.1 1690.1 L484.2 1681.6 L484.3 1675.5 L484.4 1672.1 L485.7 1658.2 L486.9 1651.8 L488.8 1643.5 L490.7 1637.7 L492.3 1633.5 L493.9 1629.7 L495.4 1626.2 L497 1623.2 L498.6 1620.7 L500.1 1618.9 L501.7 1617.6 L503.3 1616.5 L504.9 1615.5 L506.4 1614.8 L508 1614.3 L509.8 1613.9 L511.6 1613.7 L513.4 1613.3 L515.1 1612.6 L516.9 1611.6 L518.7 1610.2 L520.4 1608.7 L522.2 1607.1 L523.8 1605.5 L525.3 1603.7 L526.9 1601.6 L528.5 1599.3 L530 1596.8 L531.6 1593.9 L533.2 1590.1 L534.8 1585.2 L536.3 1580.4 L537.9 1576.7 L539.5 1574 L541.1 1571.5 L542.6 1569.6 L544.2 1568.9 L544.6 1569.3 L545.1 1570.7 L545.5 1572.9 L545.9 1575.8 L546.4 1579.6 L546.8 1584.1 L547.2 1589.3 L547.7 1595.2 L548.1 1601.7 L548.5 1608.8 L548.9 1616.4 L549.4 1624.6 L549.8 1633.4 L550.2 1642.5 L550.7 1652.1 L551.1 1662.1 L551.5 1672.5 L552 1683.2 L552.4 1694.2 L552.8 1705.4 L553.3 1716.9 L553.7 1728.6 L554.1 1740.5 L554.5 1752.4 L555 1764.5 L555.4 1776.6 L555.8 1788.7 L556.3 1800.8 L556.7 1812.9 L557.1 1825 L557.6 1837 L558 1848.9 L558.4 1860.5 L558.8 1871.9 L559.3 1883.1 L559.7 1894 L560.1 1904.5 L560.6 1914.7 L561 1924.5 L561.4 1933.6 L561.8 1943.2 L562.2 1953.3 L562.6 1963.7 L563 1974.5 L563.4 1985.7 L563.8 1997.1 L564.2 2008.8 L564.6 2020.7 L565 2032.7 L565.4 2044.8 L565.8 2056.9 L566.2 2069 L566.6 2081.1 L567 2093.2 L567.4 2105.2 L567.8 2117 L568.2 2128.8 L568.6 2140.3 L569.1 2151.6 L569.5 2162.8 L569.9 2173.7 L570.3 2184.3 L570.7 2194.4 L571.1 2204.1 L571.5 2213.4 L571.9 2222.1 L572.3 2230.3 L572.7 2237.9 L573.1 2244.9 L573.5 2251.2 L573.9 2256.8 L574.3 2261.6 L574.7 2265.7 L575.1 2268.9 L575.5 2271.2 L575.9 2272.7 L576.3 2273.2 L576.8 2272.7 L577.2 2271.2 L577.7 2268.8 L578.1 2265.5 L578.6 2261.3 L579.1 2256.3 L579.5 2250.6 L580 2244.2 L580.4 2237 L580.9 2229.2 L581.4 2220.9 L581.8 2211.9 L582.3 2202.5 L582.7 2192.6 L583.2 2182.2 L583.7 2171.5 L584.1 2160.4 L584.6 2149.2 L585 2137.7 L585.5 2126 L586 2114.2 L586.4 2102.2 L586.9 2090.1 L587.4 2078 L587.8 2065.9 L588.3 2053.8 L588.7 2041.8 L589.2 2029.7 L589.7 2017.7 L590.1 2006 L590.6 1994.5 L591 1983.3 L591.5 1972.4 L592 1961.9 L592.4 1951.8 L592.9 1942.2 L593.3 1933.1 L593.8 1924.5 L594.4 1914 L594.9 1903.2 L595.5 1892 L596.1 1880.6 L596.6 1868.9 L597.2 1857 L597.8 1845 L598.3 1832.8 L598.9 1820.5 L599.5 1808.1 L600 1795.8 L600.6 1783.5 L601.2 1771.2 L601.7 1759 L602.3 1746.9 L602.9 1734.8 L603.4 1722.9 L604 1711.2 L604.6 1699.8 L605.1 1688.5 L605.7 1677.6 L606.3 1666.9 L606.8 1656.6 L607.4 1646.7 L608 1637.2 L608.5 1628.1 L609.1 1619.5 L609.7 1611.4 L610.2 1603.9 L610.8 1596.9 L611.4 1590.5 L611.9 1584.7 L612.5 1579.6 L613.1 1575.2 L613.6 1571.5 L614.2 1568.5 L614.8 1566.4 L615.3 1565.1 L615.9 1564.6 L616.3 1565.1 L616.7 1566.5 L617 1568.9 L617.4 1572 L617.8 1576 L618.2 1580.8 L618.5 1586.2 L618.9 1592.4 L619.3 1599.2 L619.7 1606.7 L620 1614.7 L620.4 1623.3 L620.8 1632.4 L621.2 1642 L621.6 1652 L621.9 1662.4 L622.3 1673.1 L622.7 1684.2 L623.1 1695.5 L623.4 1707.2 L623.8 1719 L624.2 1731 L624.6 1743.1 L624.9 1755.3 L625.3 1767.5 L625.7 1779.8 L626.1 1792 L626.5 1804.2 L626.8 1816.4 L627.2 1828.5 L627.6 1840.4 L628 1852.1 L628.3 1863.5 L628.7 1874.6 L629.1 1885.4 L629.5 1895.8 L629.8 1905.9 L630.2 1915.4 L630.6 1924.5 L631 1934.4 L631.4 1944.7 L631.9 1955.4 L632.3 1966.3 L632.7 1977.6 L633.1 1989.1 L633.5 2000.9 L633.9 2012.8 L634.4 2024.9 L634.8 2037 L635.2 2049.1 L635.6 2061.2 L636 2073.3 L636.5 2085.3 L636.9 2097.2 L637.3 2109.1 L637.7 2120.8 L638.1 2132.3 L638.5 2143.6 L639 2154.7 L639.4 2165.6 L639.8 2176.2 L640.2 2186.5 L640.6 2196.3 L641.1 2205.7 L641.5 2214.6 L641.9 2223.1 L642.3 2231 L642.7 2238.3 L643.2 2245 L643.6 2251 L644 2256.4 L644.4 2261 L644.8 2264.9 L645.2 2267.9 L645.7 2270.2 L646.1 2271.5 L646.5 2272 L646.9 2271.5 L647.3 2270.1 L647.7 2267.8 L648.1 2264.7 L648.6 2260.8 L649 2256 L649.4 2250.6 L649.8 2244.4 L650.2 2237.6 L650.6 2230.2 L651 2222.2 L651.4 2213.6 L651.8 2204.5 L652.2 2195 L652.7 2185 L653.1 2174.6 L653.5 2163.9 L653.9 2152.9 L654.3 2141.7 L654.7 2130.3 L655.1 2118.7 L655.5 2107 L655.9 2095.1 L656.4 2083.1 L656.8 2071 L657.2 2059 L657.6 2046.9 L658 2034.8 L658.4 2022.7 L658.8 2010.8 L659.2 1999 L659.6 1987.4 L660 1976.1 L660.5 1965 L660.9 1954.3 L661.3 1944 L661.7 1934 L662.1 1924.5 L662.5 1915.2 L662.9 1905.4 L663.3 1895.2 L663.7 1884.7 L664.1 1873.8 L664.5 1862.7 L664.9 1851.3 L665.3 1839.6 L665.7 1827.8 L666.1 1815.8 L666.5 1803.7 L666.9 1791.7 L667.3 1779.6 L667.7 1767.5 L668.1 1755.5 L668.5 1743.5 L668.9 1731.6 L669.3 1719.9 L669.7 1708.3 L670 1697 L670.4 1685.9 L670.8 1675.1 L671.2 1664.6 L671.6 1654.5 L672 1644.8 L672.4 1635.5 L672.8 1626.6 L673.2 1618.3 L673.6 1610.5 L674 1603.3 L674.4 1596.6 L674.8 1590.7 L675.2 1585.4 L675.6 1580.8 L676 1576.9 L676.4 1573.9 L676.8 1571.7 L677.2 1570.3 L677.6 1569.8 L678.1 1570.3 L678.6 1571.7 L679.1 1573.9 L679.6 1577 L680.1 1580.8 L680.6 1585.4 L681.1 1590.7 L681.6 1596.7 L682.1 1603.3 L682.5 1610.6 L683 1618.4 L683.5 1626.7 L684 1635.6 L684.5 1644.9 L685 1654.6 L685.5 1664.8 L686 1675.3 L686.5 1686.1 L687 1697.2 L687.5 1708.5 L688 1720.1 L688.5 1731.9 L689 1743.7 L689.5 1755.7 L690 1767.8 L690.5 1779.9 L691 1791.9 L691.5 1804 L692 1816 L692.4 1828 L692.9 1839.8 L693.4 1851.5 L693.9 1862.9 L694.4 1874 L694.9 1884.9 L695.4 1895.4 L695.9 1905.5 L696.4 1915.2 L696.9 1924.5 L697.4 1933.9 L697.9 1943.8 L698.4 1954 L698.9 1964.6 L699.4 1975.4 L700 1986.6 L700.5 1997.9 L701 2009.5 L701.5 2021.3 L702 2033.2 L702.5 2045.1 L703 2057 L703.5 2068.9 L704 2080.8 L704.5 2092.7 L705.1 2104.5 L705.6 2116.3 L706.1 2127.9 L706.6 2139.3 L707.1 2150.6 L707.6 2161.7 L708.1 2172.6 L708.6 2183.2 L709.1 2193.5 L709.6 2203.5 L710.2 2213 L710.7 2222.1 L711.2 2230.7 L711.7 2238.9 L712.2 2246.5 L712.7 2253.5 L713.2 2260 L713.7 2265.8 L714.2 2270.9 L714.8 2275.5 L715.3 2279.3 L715.8 2282.3 L716.3 2284.5 L716.8 2285.8 L717.3 2286.2 L717.6 2285.7 L717.9 2284.3 L718.2 2281.8 L718.5 2278.5 L718.8 2274.4 L719.1 2269.4 L719.5 2263.8 L719.8 2257.5 L720.1 2250.5 L720.4 2242.8 L720.7 2234.6 L721 2225.8 L721.3 2216.5 L721.6 2206.8 L721.9 2196.6 L722.2 2186 L722.5 2175.1 L722.8 2163.9 L723.1 2152.5 L723.5 2140.9 L723.8 2129.2 L724.1 2117.4 L724.4 2105.4 L724.7 2093.4 L725 2081.4 L725.3 2069.4 L725.6 2057.5 L725.9 2045.7 L726.2 2033.8 L726.5 2022.1 L726.8 2010.7 L727.1 1999.5 L727.4 1988.6 L727.8 1978 L728.1 1967.9 L728.4 1958.2 L728.7 1949 L729 1940.2 L729.3 1932.1 L729.6 1924.5 L730.1 1913.1 L730.5 1901.5 L731 1889.7 L731.5 1877.8 L732 1865.7 L732.4 1853.4 L732.9 1841.1 L733.4 1828.8 L733.8 1816.4 L734.3 1804 L734.8 1791.8 L735.3 1779.6 L735.7 1767.5 L736.2 1755.5 L736.7 1743.6 L737.1 1731.9 L737.6 1720.4 L738.1 1709.1 L738.6 1698.1 L739 1687.3 L739.5 1676.8 L740 1666.7 L740.5 1656.9 L740.9 1647.5 L741.4 1638.5 L741.9 1630 L742.3 1621.9 L742.8 1614.3 L743.3 1607.2 L743.8 1600.6 L744.2 1594.7 L744.7 1589.3 L745.2 1584.6 L745.6 1580.5 L746.1 1577.1 L746.6 1574.4 L747.1 1572.4 L747.5 1571.2 L748 1570.8 L748.4 1571.2 L748.7 1572.7 L749.1 1574.9 L749.5 1578.1 L749.8 1582 L750.2 1586.7 L750.6 1592.1 L750.9 1598.2 L751.3 1605 L751.7 1612.4 L752 1620.3 L752.4 1628.9 L752.8 1637.9 L753.1 1647.3 L753.5 1657.2 L753.9 1667.5 L754.2 1678.1 L754.6 1689 L755 1700.3 L755.3 1711.7 L755.7 1723.4 L756.1 1735.2 L756.4 1747.1 L756.8 1759.2 L757.2 1771.2 L757.5 1783.3 L757.9 1795.3 L758.3 1807.3 L758.6 1819.3 L759 1831.1 L759.4 1842.7 L759.7 1854.2 L760.1 1865.3 L760.5 1876.2 L760.8 1886.7 L761.2 1896.8 L761.6 1906.5 L761.9 1915.8 L762.3 1924.5 L762.7 1934.6 L763.2 1945 L763.6 1955.8 L764 1966.9 L764.5 1978.3 L764.9 1989.9 L765.3 2001.7 L765.8 2013.7 L766.2 2025.8 L766.6 2038 L767 2050.1 L767.5 2062.1 L767.9 2074.2 L768.3 2086.2 L768.8 2098.1 L769.2 2109.9 L769.6 2121.6 L770.1 2133.1 L770.5 2144.3 L770.9 2155.3 L771.4 2166.1 L771.8 2176.7 L772.2 2186.8 L772.7 2196.6 L773.1 2205.9 L773.5 2214.8 L774 2223.1 L774.4 2231 L774.8 2238.2 L775.2 2244.8 L775.7 2250.8 L776.1 2256.1 L776.5 2260.7 L777 2264.5 L777.4 2267.5 L777.8 2269.7 L778.3 2271.1 L778.7 2271.5 L779.1 2271.1 L779.5 2269.7 L779.8 2267.4 L780.2 2264.2 L780.6 2260.3 L781 2255.6 L781.3 2250.1 L781.7 2244 L782.1 2237.2 L782.5 2229.8 L782.8 2221.8 L783.2 2213.2 L783.6 2204.1 L784 2194.6 L784.3 2184.6 L784.7 2174.3 L785.1 2163.6 L785.5 2152.6 L785.9 2141.4 L786.2 2130 L786.6 2118.4 L787 2106.7 L787.4 2094.8 L787.7 2082.8 L788.1 2070.8 L788.5 2058.7 L788.9 2046.7 L789.2 2034.6 L789.6 2022.6 L790 2010.6 L790.4 1998.8 L790.7 1987.3 L791.1 1976 L791.5 1965 L791.9 1954.3 L792.2 1943.9 L792.6 1934 L793 1924.5 L793.4 1915.1 L793.7 1905.3 L794.1 1895.1 L794.5 1884.6 L794.8 1873.6 L795.2 1862.4 L795.6 1851 L795.9 1839.3 L796.3 1827.4 L796.7 1815.4 L797 1803.3 L797.4 1791.2 L797.8 1779.1 L798.1 1767 L798.5 1754.9 L798.9 1742.9 L799.2 1730.9 L799.6 1719.2 L800 1707.6 L800.3 1696.2 L800.7 1685.1 L801.1 1674.2 L801.4 1663.7 L801.8 1653.6 L802.2 1643.8 L802.5 1634.5 L802.9 1625.6 L803.3 1617.3 L803.6 1609.4 L804 1602.2 L804.4 1595.5 L804.7 1589.5 L805.1 1584.2 L805.5 1579.6 L805.8 1575.8 L806.2 1572.7 L806.6 1570.5 L806.9 1569.1 L807.3 1568.6 L807.8 1569.1 L808.3 1570.5 L808.8 1572.7 L809.3 1575.7 L809.8 1579.5 L810.3 1584.1 L810.8 1589.4 L811.3 1595.3 L811.8 1601.9 L812.4 1609.1 L812.9 1616.9 L813.4 1625.2 L813.9 1634 L814.4 1643.3 L814.9 1653 L815.4 1663.1 L815.9 1673.5 L816.4 1684.3 L816.9 1695.4 L817.4 1706.7 L817.9 1718.3 L818.4 1730 L818.9 1741.9 L819.4 1753.9 L819.9 1766 L820.4 1778.1 L820.9 1790.2 L821.4 1802.3 L821.9 1814.4 L822.5 1826.5 L823 1838.4 L823.5 1850.2 L824 1861.7 L824.5 1873 L825 1884 L825.5 1894.7 L826 1905 L826.5 1915 L827 1924.5 L827.5 1933.7 L828 1943.3 L828.5 1953.3 L829 1963.7 L829.5 1974.4 L830 1985.4 L830.4 1996.7 L830.9 2008.2 L831.4 2019.8 L831.9 2031.6 L832.4 2043.5 L832.9 2055.4 L833.4 2067.2 L833.9 2079.1 L834.4 2091 L834.9 2102.8 L835.4 2114.5 L835.9 2126.2 L836.4 2137.6 L836.9 2148.9 L837.3 2160 L837.8 2171 L838.3 2181.6 L838.8 2192 L839.3 2202 L839.8 2211.5 L840.3 2220.7 L840.8 2229.4 L841.3 2237.6 L841.8 2245.2 L842.3 2252.3 L842.8 2258.8 L843.3 2264.7 L843.7 2269.9 L844.2 2274.4 L844.7 2278.2 L845.2 2281.3 L845.7 2283.5 L846.2 2284.8 L846.7 2285.3 L847 2284.8 L847.4 2283.4 L847.7 2281 L848 2277.8 L848.3 2273.7 L848.7 2269 L849 2263.5 L849.3 2257.3 L849.6 2250.4 L850 2243 L850.3 2234.9 L850.6 2226.3 L850.9 2217.2 L851.2 2207.7 L851.6 2197.7 L851.9 2187.3 L852.2 2176.6 L852.6 2165.5 L852.9 2154.3 L853.2 2142.9 L853.5 2131.3 L853.9 2119.6 L854.2 2107.8 L854.5 2095.9 L854.8 2084 L855.2 2072 L855.5 2060.1 L855.8 2048.3 L856.1 2036.5 L856.5 2024.8 L856.8 2013.2 L857.1 2001.9 L857.4 1990.9 L857.8 1980.1 L858.1 1969.8 L858.4 1959.8 L858.7 1950.2 L859.1 1941.1 L859.4 1932.5 L859.7 1924.5 L860.1 1913.7 L860.6 1902.6 L861 1891.3 L861.5 1879.7 L861.9 1868 L862.3 1856 L862.8 1844 L863.2 1831.8 L863.7 1819.6 L864.1 1807.3 L864.6 1795.1 L865 1782.9 L865.4 1770.8 L865.9 1758.7 L866.3 1746.8 L866.8 1735 L867.2 1723.4 L867.6 1711.9 L868.1 1700.7 L868.5 1689.7 L869 1679.1 L869.4 1668.7 L869.8 1658.7 L870.3 1649.1 L870.7 1639.8 L871.2 1631 L871.6 1622.7 L872 1614.9 L872.5 1607.6 L872.9 1600.8 L873.4 1594.6 L873.8 1589.1 L874.3 1584.2 L874.7 1579.9 L875.1 1576.4 L875.6 1573.6 L876 1571.5 L876.5 1570.2 L876.9 1569.8 L877.3 1570.3 L877.7 1571.6 L878.1 1573.9 L878.5 1576.9 L878.9 1580.7 L879.3 1585.2 L879.7 1590.4 L880.1 1596.3 L880.5 1602.9 L880.9 1610.1 L881.3 1617.8 L881.7 1626.1 L882.1 1634.8 L882.5 1644.1 L882.9 1653.7 L883.3 1663.8 L883.7 1674.2 L884.1 1684.9 L884.5 1695.9 L884.8 1707.2 L885.2 1718.7 L885.6 1730.4 L886 1742.3 L886.4 1754.2 L886.8 1766.3 L887.2 1778.4 L887.6 1790.4 L888 1802.5 L888.4 1814.6 L888.8 1826.6 L889.2 1838.5 L889.6 1850.2 L890 1861.7 L890.4 1873 L890.8 1884 L891.2 1894.7 L891.6 1905 L892 1915 L892.4 1924.5 L892.8 1933.8 L893.2 1943.6 L893.6 1953.8 L894 1964.4 L894.4 1975.4 L894.8 1986.6 L895.1 1998.1 L895.5 2009.8 L895.9 2021.8 L896.3 2033.9 L896.7 2046 L897.1 2058 L897.5 2070.1 L897.9 2082.2 L898.3 2094.2 L898.7 2106.2 L899.1 2118 L899.5 2129.7 L899.8 2141.1 L900.2 2152.4 L900.6 2163.5 L901 2174.3 L901.4 2184.7 L901.8 2194.8 L902.2 2204.5 L902.6 2213.6 L903 2222.3 L903.4 2230.4 L903.8 2237.9 L904.2 2244.8 L904.6 2251 L904.9 2256.5 L905.3 2261.3 L905.7 2265.3 L906.1 2268.5 L906.5 2270.8 L906.9 2272.2 L907.3 2272.7 L907.7 2272.2 L908 2270.7 L908.4 2268.3 L908.7 2265.1 L909.1 2260.9 L909.4 2256 L909.8 2250.3 L910.2 2243.9 L910.5 2236.8 L910.9 2229.1 L911.2 2220.7 L911.6 2211.9 L912 2202.5 L912.3 2192.6 L912.7 2182.3 L913 2171.7 L913.4 2160.6 L913.7 2149.4 L914.1 2138 L914.5 2126.4 L914.8 2114.6 L915.2 2102.6 L915.5 2090.6 L915.9 2078.5 L916.2 2066.4 L916.6 2054.3 L917 2042.3 L917.3 2030.2 L917.7 2018.2 L918 2006.5 L918.4 1995 L918.8 1983.7 L919.1 1972.8 L919.5 1962.3 L919.8 1952.1 L920.2 1942.4 L920.5 1933.2 L920.9 1924.5 L921.3 1914.3 L921.7 1903.8 L922.2 1893 L922.6 1881.9 L923 1870.5 L923.4 1858.9 L923.8 1847.1 L924.3 1835.2 L924.7 1823.2 L925.1 1811 L925.5 1798.9 L925.9 1786.9 L926.4 1774.8 L926.8 1762.8 L927.2 1750.9 L927.6 1739.1 L928 1727.4 L928.5 1715.9 L928.9 1704.5 L929.3 1693.5 L929.7 1682.7 L930.2 1672.2 L930.6 1662 L931 1652.3 L931.4 1642.9 L931.8 1633.9 L932.3 1625.4 L932.7 1617.4 L933.1 1610 L933.5 1603 L933.9 1596.7 L934.4 1591 L934.8 1586 L935.2 1581.6 L935.6 1578 L936 1575.1 L936.5 1573 L936.9 1571.7 L937.3 1571.2 L937.7 1571.7 L938.1 1572.9 L938.6 1575 L939 1577.8 L939.4 1581.3 L939.8 1585.5 L940.2 1590.4 L940.6 1595.9 L941.1 1602.1 L941.5 1608.8 L941.9 1616.1 L942.3 1623.9 L942.7 1632.2 L943.2 1641 L943.6 1650.1 L944 1659.7 L944.4 1669.7 L944.8 1680 L945.2 1690.6 L945.7 1701.6 L946.1 1712.7 L946.5 1724.1 L946.9 1735.7 L947.3 1747.5 L947.7 1759.4 L948.2 1771.4 L948.6 1783.4 L949 1795.6 L949.4 1807.7 L949.8 1820 L950.3 1832.2 L950.7 1844.3 L951.1 1856.3 L951.5 1868.2 L951.9 1879.9 L952.3 1891.4 L952.8 1902.7 L953.2 1913.8 L953.6 1924.5 L953.9 1932.6 L954.2 1941.3 L954.5 1950.6 L954.9 1960.3 L955.2 1970.4 L955.5 1981 L955.8 1991.9 L956.1 2003.1 L956.4 2014.7 L956.7 2026.4 L957 2038.3 L957.4 2050.3 L957.7 2062.2 L958 2074.3 L958.3 2086.4 L958.6 2098.4 L958.9 2110.5 L959.2 2122.4 L959.5 2134.2 L959.9 2145.8 L960.2 2157.2 L960.5 2168.5 L960.8 2179.4 L961.1 2190.1 L961.4 2200.3 L961.7 2210.2 L962 2219.5 L962.4 2228.4 L962.7 2236.7 L963 2244.4 L963.3 2251.4 L963.6 2257.8 L963.9 2263.5 L964.2 2268.4 L964.5 2272.5 L964.9 2275.9 L965.2 2278.3 L965.5 2279.8 L965.8 2280.3 L966.3 2279.8 L966.8 2278.4 L967.3 2276.1 L967.8 2272.9 L968.3 2269 L968.8 2264.3 L969.4 2258.9 L969.9 2252.8 L970.4 2246 L970.9 2238.6 L971.4 2230.7 L971.9 2222.2 L972.4 2213.2 L972.9 2203.7 L973.4 2193.8 L973.9 2183.4 L974.4 2172.8 L974.9 2161.8 L975.4 2150.6 L976 2139.2 L976.5 2127.7 L977 2116 L977.5 2104.1 L978 2092.2 L978.5 2080.2 L979 2068.1 L979.5 2056.1 L980 2044.1 L980.5 2032.1 L981 2020.2 L981.5 2008.4 L982 1996.8 L982.6 1985.4 L983.1 1974.4 L983.6 1963.6 L984.1 1953.2 L984.6 1943.2 L985.1 1933.6 L985.6 1924.5 L986.1 1914.7 L986.7 1904.4 L987.2 1893.8 L987.8 1882.9 L988.3 1871.6 L988.9 1860.1 L989.4 1848.4 L989.9 1836.4 L990.5 1824.3 L991 1812.1 L991.6 1799.8 L992.1 1787.6 L992.7 1775.3 L993.2 1763 L993.8 1750.8 L994.3 1738.7 L994.8 1726.7 L995.4 1714.9 L995.9 1703.3 L996.5 1691.9 L997 1680.7 L997.6 1669.9 L998.1 1659.4 L998.6 1649.2 L999.2 1639.5 L999.7 1630.2 L1000.3 1621.3 L1000.8 1613 L1001.4 1605.2 L1001.9 1598 L1002.5 1591.4 L1003 1585.4 L1003.5 1580.2 L1004.1 1575.6 L1004.6 1571.8 L1005.2 1568.7 L1005.7 1566.4 L1006.3 1565.1 L1006.8 1564.6 L1007.1 1565.1 L1007.4 1566.6 L1007.7 1569 L1008.1 1572.3 L1008.4 1576.4 L1008.7 1581.3 L1009 1587 L1009.3 1593.4 L1009.6 1600.4 L1010 1608.1 L1010.3 1616.4 L1010.6 1625.2 L1010.9 1634.5 L1011.2 1644.3 L1011.5 1654.6 L1011.8 1665.2 L1012.2 1676.2 L1012.5 1687.5 L1012.8 1699 L1013.1 1710.8 L1013.4 1722.8 L1013.7 1734.9 L1014.1 1747.2 L1014.4 1759.4 L1014.7 1771.8 L1015 1784 L1015.3 1796.3 L1015.6 1808.4 L1015.9 1820.5 L1016.3 1832.4 L1016.6 1844.1 L1016.9 1855.6 L1017.2 1866.7 L1017.5 1877.4 L1017.8 1887.8 L1018.2 1897.7 L1018.5 1907.2 L1018.8 1916.1 L1019.1 1924.5 L1019.5 1935.3 L1019.9 1946.4 L1020.4 1957.7 L1020.8 1969.3 L1021.2 1981.2 L1021.6 1993.2 L1022 2005.4 L1022.4 2017.7 L1022.9 2030 L1023.3 2042.4 L1023.7 2054.7 L1024.1 2066.9 L1024.5 2079.1 L1025 2091.2 L1025.4 2103.1 L1025.8 2115 L1026.2 2126.6 L1026.6 2138.1 L1027 2149.3 L1027.5 2160.3 L1027.9 2171.1 L1028.3 2181.5 L1028.7 2191.6 L1029.1 2201.2 L1029.6 2210.4 L1030 2219.1 L1030.4 2227.4 L1030.8 2235 L1031.2 2242.2 L1031.7 2248.7 L1032.1 2254.5 L1032.5 2259.7 L1032.9 2264.2 L1033.3 2267.9 L1033.7 2270.9 L1034.2 2273 L1034.6 2274.4 L1035 2274.8 L1035.4 2274.4 L1035.8 2272.9 L1036.2 2270.5 L1036.6 2267.3 L1036.9 2263.3 L1037.3 2258.5 L1037.7 2252.9 L1038.1 2246.6 L1038.5 2239.7 L1038.9 2232.1 L1039.3 2223.9 L1039.7 2215.2 L1040.1 2205.9 L1040.5 2196.2 L1040.8 2186.1 L1041.2 2175.5 L1041.6 2164.6 L1042 2153.4 L1042.4 2142.1 L1042.8 2130.5 L1043.2 2118.8 L1043.6 2106.9 L1044 2094.8 L1044.3 2082.7 L1044.7 2070.6 L1045.1 2058.4 L1045.5 2046.3 L1045.9 2034.1 L1046.3 2022 L1046.7 2010 L1047.1 1998.2 L1047.5 1986.7 L1047.9 1975.4 L1048.2 1964.4 L1048.6 1953.8 L1049 1943.6 L1049.4 1933.8 L1049.8 1924.5 L1050.2 1915 L1050.6 1905.1 L1051 1894.8 L1051.4 1884.1 L1051.8 1873.2 L1052.2 1862 L1052.6 1850.5 L1053 1838.9 L1053.4 1827.1 L1053.7 1815.1 L1054.1 1803.2 L1054.5 1791.2 L1054.9 1779.2 L1055.3 1767.2 L1055.7 1755.3 L1056.1 1743.5 L1056.5 1731.7 L1056.9 1720.1 L1057.3 1708.7 L1057.7 1697.6 L1058.1 1686.6 L1058.5 1676 L1058.9 1665.7 L1059.3 1655.8 L1059.7 1646.2 L1060.1 1637.1 L1060.5 1628.4 L1060.9 1620.3 L1061.3 1612.6 L1061.6 1605.5 L1062 1599.1 L1062.4 1593.2 L1062.8 1588 L1063.2 1583.6 L1063.6 1579.8 L1064 1576.8 L1064.4 1574.7 L1064.8 1573.3 L1065.2 1572.9 L1065.6 1573.3 L1066 1574.6 L1066.4 1576.7 L1066.9 1579.6 L1067.3 1583.2 L1067.7 1587.5 L1068.1 1592.5 L1068.5 1598.2 L1068.9 1604.4 L1069.3 1611.3 L1069.7 1618.7 L1070.2 1626.7 L1070.6 1635.1 L1071 1644 L1071.4 1653.4 L1071.8 1663.1 L1072.2 1673.2 L1072.6 1683.6 L1073 1694.3 L1073.5 1705.3 L1073.9 1716.6 L1074.3 1728 L1074.7 1739.7 L1075.1 1751.4 L1075.5 1763.3 L1075.9 1775.3 L1076.3 1787.3 L1076.8 1799.3 L1077.2 1811.3 L1077.6 1823.4 L1078 1835.4 L1078.4 1847.3 L1078.8 1859 L1079.2 1870.6 L1079.6 1881.9 L1080.1 1893 L1080.5 1903.8 L1080.9 1914.3 L1081.3 1924.5 L1081.6 1933 L1082 1942 L1082.3 1951.5 L1082.7 1961.4 L1083 1971.7 L1083.4 1982.3 L1083.7 1993.3 L1084 2004.6 L1084.4 2016.1 L1084.7 2027.8 L1085.1 2039.6 L1085.4 2051.4 L1085.8 2063.3 L1086.1 2075.2 L1086.5 2087.1 L1086.8 2098.9 L1087.1 2110.7 L1087.5 2122.4 L1087.8 2133.9 L1088.2 2145.3 L1088.5 2156.4 L1088.9 2167.4 L1089.2 2178.1 L1089.5 2188.5 L1089.9 2198.4 L1090.2 2208 L1090.6 2217.1 L1090.9 2225.7 L1091.3 2233.7 L1091.6 2241.2 L1092 2248 L1092.3 2254.2 L1092.6 2259.7 L1093 2264.4 L1093.3 2268.4 L1093.7 2271.5 L1094 2273.9 L1094.4 2275.3 L1094.7 2275.8 L1095.1 2275.4 L1095.6 2274.1 L1096 2272 L1096.5 2269.2 L1096.9 2265.6 L1097.4 2261.3 L1097.8 2256.4 L1098.2 2250.8 L1098.7 2244.6 L1099.1 2237.8 L1099.6 2230.4 L1100 2222.5 L1100.5 2214.2 L1100.9 2205.3 L1101.4 2196 L1101.8 2186.4 L1102.2 2176.3 L1102.7 2165.9 L1103.1 2155.3 L1103.6 2144.4 L1104 2133.4 L1104.5 2122.1 L1104.9 2110.6 L1105.3 2099 L1105.8 2087.3 L1106.2 2075.4 L1106.7 2063.5 L1107.1 2051.6 L1107.6 2039.6 L1108 2027.5 L1108.5 2015.4 L1108.9 2003.4 L1109.3 1991.5 L1109.8 1979.8 L1110.2 1968.3 L1110.7 1956.9 L1111.1 1945.8 L1111.6 1935 L1112 1924.5 L1112.3 1916.2 L1112.7 1907.2 L1113 1897.8 L1113.4 1887.9 L1113.7 1877.6 L1114 1866.9 L1114.4 1855.8 L1114.7 1844.4 L1115.1 1832.7 L1115.4 1820.9 L1115.8 1808.8 L1116.1 1796.7 L1116.4 1784.5 L1116.8 1772.2 L1117.1 1760 L1117.5 1747.7 L1117.8 1735.5 L1118.1 1723.5 L1118.5 1711.5 L1118.8 1699.8 L1119.2 1688.2 L1119.5 1677 L1119.8 1666.1 L1120.2 1655.5 L1120.5 1645.2 L1120.9 1635.5 L1121.2 1626.2 L1121.5 1617.4 L1121.9 1609.1 L1122.2 1601.5 L1122.6 1594.4 L1122.9 1588.1 L1123.3 1582.4 L1123.6 1577.6 L1123.9 1573.5 L1124.3 1570.2 L1124.6 1567.8 L1125 1566.3 L1125.3 1565.8 L1125.8 1566.3 L1126.3 1567.7 L1126.7 1570 L1127.2 1573.2 L1127.7 1577.1 L1128.2 1581.8 L1128.6 1587.2 L1129.1 1593.4 L1129.6 1600.2 L1130.1 1607.6 L1130.5 1615.5 L1131 1624.1 L1131.5 1633.1 L1132 1642.6 L1132.5 1652.6 L1132.9 1662.9 L1133.4 1673.6 L1133.9 1684.6 L1134.4 1695.9 L1134.8 1707.4 L1135.3 1719.2 L1135.8 1731.1 L1136.3 1743.2 L1136.7 1755.3 L1137.2 1767.6 L1137.7 1779.8 L1138.2 1792 L1138.7 1804.1 L1139.1 1816.3 L1139.6 1828.3 L1140.1 1840.2 L1140.6 1851.9 L1141 1863.3 L1141.5 1874.5 L1142 1885.3 L1142.5 1895.7 L1142.9 1905.8 L1143.4 1915.4 L1143.9 1924.5 L1144.4 1934.3 L1144.9 1944.6 L1145.5 1955.2 L1146 1966.1 L1146.5 1977.3 L1147 1988.8 L1147.6 2000.5 L1148.1 2012.4 L1148.6 2024.5 L1149.1 2036.6 L1149.7 2048.8 L1150.2 2060.8 L1150.7 2072.9 L1151.2 2085 L1151.7 2097.1 L1152.3 2109 L1152.8 2120.8 L1153.3 2132.5 L1153.8 2143.9 L1154.4 2155.2 L1154.9 2166.3 L1155.4 2177.2 L1155.9 2187.7 L1156.5 2197.8 L1157 2207.6 L1157.5 2216.9 L1158 2225.7 L1158.5 2234 L1159.1 2241.8 L1159.6 2249 L1160.1 2255.6 L1160.6 2261.6 L1161.2 2266.9 L1161.7 2271.4 L1162.2 2275.3 L1162.7 2278.4 L1163.3 2280.6 L1163.8 2282 L1164.3 2282.4 L1164.6 2281.9 L1164.9 2280.4 L1165.2 2277.9 L1165.6 2274.5 L1165.9 2270.3 L1166.2 2265.3 L1166.5 2259.5 L1166.8 2253 L1167.1 2245.8 L1167.5 2238 L1167.8 2229.5 L1168.1 2220.5 L1168.4 2211 L1168.7 2201 L1169 2190.6 L1169.3 2179.8 L1169.7 2168.7 L1170 2157.2 L1170.3 2145.7 L1170.6 2134 L1170.9 2122 L1171.2 2110 L1171.6 2097.9 L1171.9 2085.7 L1172.2 2073.5 L1172.5 2061.4 L1172.8 2049.3 L1173.1 2037.4 L1173.4 2025.4 L1173.8 2013.6 L1174.1 2002.1 L1174.4 1990.9 L1174.7 1980.1 L1175 1969.6 L1175.3 1959.6 L1175.7 1950 L1176 1940.9 L1176.3 1932.4 L1176.6 1924.5 L1177.1 1913.4 L1177.5 1902 L1178 1890.4 L1178.4 1878.6 L1178.9 1866.6 L1179.3 1854.5 L1179.8 1842.3 L1180.2 1830 L1180.7 1817.6 L1181.1 1805.3 L1181.6 1793.1 L1182 1780.9 L1182.5 1768.7 L1182.9 1756.7 L1183.4 1744.8 L1183.8 1733 L1184.3 1721.4 L1184.7 1710.1 L1185.2 1698.9 L1185.6 1688 L1186.1 1677.5 L1186.5 1667.2 L1187 1657.3 L1187.4 1647.8 L1187.9 1638.7 L1188.3 1630 L1188.8 1621.8 L1189.2 1614.1 L1189.7 1606.9 L1190.1 1600.2 L1190.6 1594.2 L1191 1588.7 L1191.5 1583.9 L1191.9 1579.7 L1192.4 1576.3 L1192.8 1573.5 L1193.3 1571.5 L1193.7 1570.2 L1194.2 1569.8 L1194.6 1570.3 L1194.9 1571.7 L1195.3 1573.9 L1195.7 1577 L1196 1580.9 L1196.4 1585.5 L1196.8 1590.8 L1197.2 1596.8 L1197.5 1603.5 L1197.9 1610.8 L1198.3 1618.6 L1198.6 1627 L1199 1635.9 L1199.4 1645.2 L1199.7 1655 L1200.1 1665.2 L1200.5 1675.7 L1200.8 1686.5 L1201.2 1697.7 L1201.6 1709 L1202 1720.6 L1202.3 1732.4 L1202.7 1744.3 L1203.1 1756.3 L1203.4 1768.4 L1203.8 1780.5 L1204.2 1792.5 L1204.5 1804.6 L1204.9 1816.6 L1205.3 1828.6 L1205.6 1840.4 L1206 1851.9 L1206.4 1863.3 L1206.8 1874.4 L1207.1 1885.2 L1207.5 1895.6 L1207.9 1905.7 L1208.2 1915.3 L1208.6 1924.5 L1209 1934.2 L1209.4 1944.3 L1209.8 1954.8 L1210.2 1965.6 L1210.6 1976.8 L1211 1988.2 L1211.4 1999.8 L1211.8 2011.7 L1212.2 2023.7 L1212.5 2035.9 L1212.9 2048 L1213.3 2060.1 L1213.7 2072.1 L1214.1 2084.2 L1214.5 2096.2 L1214.9 2108.1 L1215.3 2119.9 L1215.7 2131.5 L1216.1 2142.9 L1216.5 2154 L1216.9 2165 L1217.3 2175.7 L1217.7 2186.1 L1218.1 2196 L1218.5 2205.5 L1218.9 2214.6 L1219.3 2223.1 L1219.7 2231.1 L1220 2238.5 L1220.4 2245.3 L1220.8 2251.4 L1221.2 2256.8 L1221.6 2261.5 L1222 2265.4 L1222.4 2268.6 L1222.8 2270.8 L1223.2 2272.2 L1223.6 2272.7 L1224 2272.2 L1224.4 2270.8 L1224.7 2268.4 L1225.1 2265.2 L1225.5 2261.2 L1225.9 2256.4 L1226.3 2250.8 L1226.6 2244.5 L1227 2237.5 L1227.4 2229.9 L1227.8 2221.8 L1228.1 2213 L1228.5 2203.8 L1228.9 2194.1 L1229.3 2184 L1229.7 2173.4 L1230 2162.5 L1230.4 2151.4 L1230.8 2140.1 L1231.2 2128.6 L1231.6 2116.9 L1231.9 2105 L1232.3 2093 L1232.7 2080.9 L1233.1 2068.9 L1233.5 2056.8 L1233.8 2044.7 L1234.2 2032.6 L1234.6 2020.6 L1235 2008.7 L1235.3 1997.1 L1235.7 1985.7 L1236.1 1974.5 L1236.5 1963.7 L1236.9 1953.3 L1237.2 1943.2 L1237.6 1933.6 L1238 1924.5 L1238.4 1914.8 L1238.8 1904.8 L1239.2 1894.4 L1239.6 1883.6 L1240 1872.6 L1240.4 1861.3 L1240.8 1849.8 L1241.2 1838.1 L1241.6 1826.2 L1242 1814.3 L1242.4 1802.3 L1242.8 1790.3 L1243.2 1778.3 L1243.6 1766.3 L1244 1754.4 L1244.4 1742.6 L1244.8 1730.9 L1245.2 1719.3 L1245.6 1708 L1246 1696.8 L1246.4 1685.9 L1246.8 1675.4 L1247.2 1665.1 L1247.6 1655.2 L1248 1645.7 L1248.4 1636.6 L1248.8 1628 L1249.2 1619.9 L1249.6 1612.3 L1250 1605.3 L1250.4 1598.9 L1250.8 1593 L1251.2 1587.9 L1251.6 1583.5 L1252 1579.8 L1252.4 1576.8 L1252.8 1574.7 L1253.2 1573.3 L1253.6 1572.9 L1254 1573.3 L1254.4 1574.7 L1254.8 1576.8 L1255.1 1579.7 L1255.5 1583.4 L1255.9 1587.9 L1256.3 1593 L1256.7 1598.8 L1257.1 1605.2 L1257.5 1612.2 L1257.9 1619.8 L1258.2 1627.9 L1258.6 1636.4 L1259 1645.5 L1259.4 1655 L1259.8 1664.8 L1260.2 1675.1 L1260.6 1685.6 L1261 1696.5 L1261.3 1707.6 L1261.7 1719 L1262.1 1730.5 L1262.5 1742.2 L1262.9 1754 L1263.3 1765.9 L1263.7 1777.9 L1264.1 1789.9 L1264.4 1801.9 L1264.8 1813.9 L1265.2 1825.9 L1265.6 1837.7 L1266 1849.4 L1266.4 1861 L1266.8 1872.3 L1267.2 1883.4 L1267.5 1894.2 L1267.9 1904.6 L1268.3 1914.8 L1268.7 1924.5 L1269.1 1933.6 L1269.4 1943.2 L1269.8 1953.2 L1270.2 1963.7 L1270.5 1974.5 L1270.9 1985.7 L1271.2 1997.1 L1271.6 2008.8 L1272 2020.8 L1272.3 2032.8 L1272.7 2045 L1273.1 2057.1 L1273.4 2069.2 L1273.8 2081.4 L1274.1 2093.5 L1274.5 2105.6 L1274.9 2117.5 L1275.2 2129.3 L1275.6 2140.9 L1276 2152.3 L1276.3 2163.5 L1276.7 2174.5 L1277.1 2185.1 L1277.4 2195.3 L1277.8 2205.1 L1278.1 2214.4 L1278.5 2223.2 L1278.9 2231.4 L1279.2 2239.1 L1279.6 2246.1 L1280 2252.4 L1280.3 2258.1 L1280.7 2262.9 L1281 2267 L1281.4 2270.3 L1281.8 2272.6 L1282.1 2274.1 L1282.5 2274.6 L1283 2274.2 L1283.4 2272.8 L1283.9 2270.7 L1284.4 2267.7 L1284.8 2264 L1285.3 2259.5 L1285.8 2254.4 L1286.2 2248.6 L1286.7 2242.1 L1287.2 2235 L1287.6 2227.4 L1288.1 2219.2 L1288.6 2210.5 L1289 2201.3 L1289.5 2191.7 L1290 2181.7 L1290.4 2171.3 L1290.9 2160.5 L1291.3 2149.6 L1291.8 2138.4 L1292.3 2127 L1292.7 2115.3 L1293.2 2103.5 L1293.7 2091.6 L1294.1 2079.5 L1294.6 2067.3 L1295.1 2055.1 L1295.5 2042.9 L1296 2030.5 L1296.5 2018.1 L1296.9 2005.8 L1297.4 1993.6 L1297.9 1981.5 L1298.3 1969.6 L1298.8 1958 L1299.3 1946.5 L1299.7 1935.4 L1300.2 1924.5 L1300.5 1916.4 L1300.9 1907.7 L1301.2 1898.6 L1301.5 1888.9 L1301.9 1878.9 L1302.2 1868.4 L1302.6 1857.6 L1302.9 1846.5 L1303.2 1835.1 L1303.6 1823.5 L1303.9 1811.7 L1304.2 1799.8 L1304.6 1787.9 L1304.9 1775.9 L1305.3 1763.8 L1305.6 1751.8 L1305.9 1739.7 L1306.3 1727.8 L1306.6 1716 L1307 1704.3 L1307.3 1692.8 L1307.6 1681.6 L1308 1670.7 L1308.3 1660 L1308.6 1649.7 L1309 1639.8 L1309.3 1630.3 L1309.7 1621.3 L1310 1612.8 L1310.3 1604.8 L1310.7 1597.4 L1311 1590.6 L1311.3 1584.5 L1311.7 1579.1 L1312 1574.3 L1312.4 1570.4 L1312.7 1567.2 L1313 1564.9 L1313.4 1563.4 L1313.7 1563 L1314.2 1563.4 L1314.6 1564.8 L1315.1 1567 L1315.5 1570 L1316 1573.9 L1316.5 1578.4 L1316.9 1583.6 L1317.4 1589.5 L1317.8 1596.1 L1318.3 1603.2 L1318.8 1610.9 L1319.2 1619.1 L1319.7 1627.9 L1320.1 1637.1 L1320.6 1646.7 L1321.1 1656.7 L1321.5 1667.1 L1322 1677.7 L1322.4 1688.7 L1322.9 1700 L1323.4 1711.4 L1323.8 1723.1 L1324.3 1734.8 L1324.7 1746.7 L1325.2 1758.7 L1325.7 1770.7 L1326.1 1782.7 L1326.6 1794.7 L1327 1806.6 L1327.5 1818.6 L1328 1830.4 L1328.4 1842 L1328.9 1853.4 L1329.3 1864.6 L1329.8 1875.5 L1330.3 1886.1 L1330.7 1896.3 L1331.2 1906.1 L1331.6 1915.5 L1332.1 1924.5 L1332.6 1934.3 L1333.1 1944.4 L1333.6 1955 L1334.1 1965.8 L1334.7 1976.9 L1335.2 1988.3 L1335.7 1999.9 L1336.2 2011.7 L1336.7 2023.7 L1337.2 2035.7 L1337.7 2047.8 L1338.2 2059.8 L1338.7 2071.8 L1339.2 2083.7 L1339.8 2095.7 L1340.3 2107.5 L1340.8 2119.2 L1341.3 2130.8 L1341.8 2142.2 L1342.3 2153.3 L1342.8 2164.3 L1343.3 2175.1 L1343.8 2185.5 L1344.3 2195.5 L1344.9 2205.2 L1345.4 2214.4 L1345.9 2223.2 L1346.4 2231.4 L1346.9 2239.2 L1347.4 2246.3 L1347.9 2252.8 L1348.4 2258.7 L1348.9 2264 L1349.4 2268.5 L1350 2272.3 L1350.5 2275.3 L1351 2277.5 L1351.5 2278.9 L1352 2279.4 L1352.3 2278.9 L1352.7 2277.4 L1353 2274.9 L1353.3 2271.6 L1353.7 2267.5 L1354 2262.6 L1354.3 2256.9 L1354.6 2250.5 L1355 2243.4 L1355.3 2235.7 L1355.6 2227.5 L1356 2218.6 L1356.3 2209.3 L1356.6 2199.4 L1357 2189.2 L1357.3 2178.6 L1357.6 2167.6 L1358 2156.3 L1358.3 2144.9 L1358.6 2133.3 L1358.9 2121.6 L1359.3 2109.7 L1359.6 2097.7 L1359.9 2085.6 L1360.3 2073.6 L1360.6 2061.6 L1360.9 2049.6 L1361.3 2037.7 L1361.6 2025.8 L1361.9 2014.1 L1362.3 2002.6 L1362.6 1991.5 L1362.9 1980.6 L1363.2 1970.1 L1363.6 1960 L1363.9 1950.4 L1364.2 1941.2 L1364.6 1932.6 L1364.9 1924.5 L1365.4 1913.6 L1365.8 1902.5 L1366.3 1891.1 L1366.7 1879.5 L1367.2 1867.7 L1367.6 1855.7 L1368.1 1843.6 L1368.5 1831.4 L1369 1819.1 L1369.4 1806.8 L1369.9 1794.6 L1370.3 1782.5 L1370.8 1770.3 L1371.2 1758.3 L1371.7 1746.4 L1372.1 1734.6 L1372.6 1722.9 L1373 1711.5 L1373.5 1700.3 L1373.9 1689.4 L1374.4 1678.7 L1374.8 1668.4 L1375.3 1658.4 L1375.7 1648.8 L1376.2 1639.6 L1376.6 1630.8 L1377.1 1622.5 L1377.5 1614.7 L1378 1607.4 L1378.4 1600.7 L1378.9 1594.5 L1379.3 1589 L1379.8 1584.1 L1380.2 1579.9 L1380.7 1576.4 L1381.1 1573.6 L1381.6 1571.5 L1382 1570.2 L1382.5 1569.8 L1382.8 1570.3 L1383.2 1571.7 L1383.5 1574.1 L1383.8 1577.2 L1384.2 1581.2 L1384.5 1585.9 L1384.8 1591.4 L1385.2 1597.6 L1385.5 1604.4 L1385.8 1611.9 L1386.2 1619.9 L1386.5 1628.5 L1386.8 1637.6 L1387.2 1647.1 L1387.5 1657.1 L1387.8 1667.5 L1388.2 1678.2 L1388.5 1689.2 L1388.8 1700.5 L1389.2 1712 L1389.5 1723.8 L1389.8 1735.6 L1390.2 1747.6 L1390.5 1759.7 L1390.8 1771.8 L1391.2 1783.9 L1391.5 1796 L1391.8 1808 L1392.2 1820 L1392.5 1831.8 L1392.8 1843.4 L1393.2 1854.8 L1393.5 1865.9 L1393.8 1876.7 L1394.2 1887.1 L1394.5 1897.2 L1394.8 1906.8 L1395.2 1915.9 L1395.5 1924.5 L1395.9 1934.8 L1396.3 1945.4 L1396.7 1956.4 L1397.1 1967.6 L1397.5 1979.1 L1397.9 1990.8 L1398.4 2002.7 L1398.8 2014.8 L1399.2 2027 L1399.6 2039.2 L1400 2051.3 L1400.4 2063.4 L1400.8 2075.5 L1401.2 2087.5 L1401.6 2099.4 L1402 2111.2 L1402.4 2122.8 L1402.8 2134.3 L1403.2 2145.5 L1403.7 2156.5 L1404.1 2167.3 L1404.5 2177.8 L1404.9 2187.9 L1405.3 2197.6 L1405.7 2206.9 L1406.1 2215.7 L1406.5 2224 L1406.9 2231.7 L1407.3 2238.9 L1407.7 2245.5 L1408.1 2251.4 L1408.6 2256.7 L1409 2261.2 L1409.4 2265 L1409.8 2268 L1410.2 2270.2 L1410.6 2271.5 L1411 2272 L1411.4 2271.5 L1411.8 2270.1 L1412.2 2267.8 L1412.6 2264.7 L1412.9 2260.7 L1413.3 2256 L1413.7 2250.5 L1414.1 2244.3 L1414.5 2237.5 L1414.9 2230.1 L1415.3 2222 L1415.7 2213.4 L1416.1 2204.3 L1416.5 2194.8 L1416.8 2184.8 L1417.2 2174.4 L1417.6 2163.6 L1418 2152.6 L1418.4 2141.4 L1418.8 2130 L1419.2 2118.4 L1419.6 2106.6 L1420 2094.7 L1420.3 2082.7 L1420.7 2070.6 L1421.1 2058.6 L1421.5 2046.5 L1421.9 2034.5 L1422.3 2022.4 L1422.7 2010.4 L1423.1 1998.7 L1423.5 1987.1 L1423.9 1975.8 L1424.2 1964.8 L1424.6 1954.1 L1425 1943.8 L1425.4 1933.9 L1425.8 1924.5 L1426.2 1915.2 L1426.6 1905.5 L1426.9 1895.3 L1427.3 1884.8 L1427.7 1874 L1428.1 1862.9 L1428.5 1851.6 L1428.8 1840 L1429.2 1828.2 L1429.6 1816.4 L1430 1804.4 L1430.4 1792.4 L1430.7 1780.5 L1431.1 1768.5 L1431.5 1756.5 L1431.9 1744.7 L1432.3 1732.9 L1432.6 1721.3 L1433 1709.8 L1433.4 1698.6 L1433.8 1687.6 L1434.1 1676.9 L1434.5 1666.6 L1434.9 1656.5 L1435.3 1646.9 L1435.7 1637.7 L1436 1629 L1436.4 1620.7 L1436.8 1613 L1437.2 1605.9 L1437.6 1599.3 L1437.9 1593.4 L1438.3 1588.2 L1438.7 1583.7 L1439.1 1579.9 L1439.5 1576.9 L1439.8 1574.7 L1440.2 1573.4 L1440.6 1572.9 L1441 1573.3 L1441.5 1574.5 L1441.9 1576.5 L1442.4 1579.3 L1442.8 1582.8 L1443.2 1587 L1443.7 1591.8 L1444.1 1597.3 L1444.5 1603.4 L1445 1610 L1445.4 1617.2 L1445.9 1624.9 L1446.3 1633.2 L1446.7 1641.8 L1447.2 1650.9 L1447.6 1660.4 L1448.1 1670.3 L1448.5 1680.5 L1448.9 1691.1 L1449.4 1701.9 L1449.8 1713 L1450.2 1724.3 L1450.7 1735.9 L1451.1 1747.5 L1451.6 1759.4 L1452 1771.3 L1452.4 1783.3 L1452.9 1795.4 L1453.3 1807.5 L1453.8 1819.7 L1454.2 1831.9 L1454.6 1844 L1455.1 1856 L1455.5 1867.9 L1455.9 1879.7 L1456.4 1891.2 L1456.8 1902.6 L1457.3 1913.7 L1457.7 1924.5 L1458 1932.6 L1458.3 1941.3 L1458.7 1950.6 L1459 1960.3 L1459.3 1970.5 L1459.6 1981.2 L1460 1992.2 L1460.3 2003.5 L1460.6 2015.2 L1460.9 2027 L1461.3 2039.1 L1461.6 2051.1 L1461.9 2063.2 L1462.2 2075.4 L1462.6 2087.6 L1462.9 2099.7 L1463.2 2111.8 L1463.5 2123.8 L1463.8 2135.6 L1464.2 2147.2 L1464.5 2158.6 L1464.8 2169.9 L1465.1 2180.8 L1465.5 2191.3 L1465.8 2201.4 L1466.1 2211 L1466.4 2220.1 L1466.8 2228.7 L1467.1 2236.6 L1467.4 2243.9 L1467.7 2250.5 L1468.1 2256.4 L1468.4 2261.5 L1468.7 2265.7 L1469 2269.1 L1469.4 2271.6 L1469.7 2273.1 L1470 2273.7 L1470.5 2273.2 L1471 2271.9 L1471.5 2269.9 L1471.9 2267.1 L1472.4 2263.5 L1472.9 2259.2 L1473.4 2254.2 L1473.9 2248.6 L1474.4 2242.3 L1474.8 2235.5 L1475.3 2228.1 L1475.8 2220.1 L1476.3 2211.7 L1476.8 2202.8 L1477.3 2193.4 L1477.7 2183.6 L1478.2 2173.4 L1478.7 2162.9 L1479.2 2152.1 L1479.7 2141.1 L1480.2 2129.9 L1480.7 2118.4 L1481.1 2106.7 L1481.6 2094.8 L1482.1 2082.8 L1482.6 2070.7 L1483.1 2058.4 L1483.6 2046.1 L1484 2033.7 L1484.5 2021.2 L1485 2008.7 L1485.5 1996.2 L1486 1983.9 L1486.5 1971.7 L1486.9 1959.6 L1487.4 1947.7 L1487.9 1936 L1488.4 1924.5 L1488.7 1916.7 L1489 1908.3 L1489.3 1899.3 L1489.7 1889.8 L1490 1879.8 L1490.3 1869.3 L1490.6 1858.5 L1490.9 1847.3 L1491.2 1835.7 L1491.6 1823.9 L1491.9 1811.9 L1492.2 1799.8 L1492.5 1787.6 L1492.8 1775.3 L1493.1 1762.9 L1493.4 1750.6 L1493.8 1738.2 L1494.1 1726 L1494.4 1713.9 L1494.7 1701.9 L1495 1690.2 L1495.3 1678.7 L1495.7 1667.6 L1496 1656.7 L1496.3 1646.3 L1496.6 1636.3 L1496.9 1626.8 L1497.2 1617.7 L1497.5 1609.3 L1497.9 1601.4 L1498.2 1594.2 L1498.5 1587.6 L1498.8 1581.8 L1499.1 1576.8 L1499.4 1572.6 L1499.8 1569.1 L1500.1 1566.7 L1500.4 1565.1 L1500.7 1564.6 L1501.2 1565.1 L1501.7 1566.5 L1502.2 1568.7 L1502.7 1571.8 L1503.2 1575.7 L1503.7 1580.3 L1504.2 1585.6 L1504.7 1591.7 L1505.2 1598.3 L1505.7 1605.6 L1506.2 1613.4 L1506.7 1621.8 L1507.2 1630.7 L1507.7 1640.1 L1508.2 1649.9 L1508.7 1660.1 L1509.2 1670.7 L1509.7 1681.6 L1510.2 1692.8 L1510.8 1704.3 L1511.3 1716 L1511.8 1727.8 L1512.3 1739.8 L1512.8 1752 L1513.3 1764.2 L1513.8 1776.4 L1514.3 1788.7 L1514.8 1800.9 L1515.3 1813.2 L1515.8 1825.4 L1516.3 1837.4 L1516.8 1849.3 L1517.3 1861 L1517.8 1872.4 L1518.3 1883.5 L1518.8 1894.3 L1519.3 1904.8 L1519.8 1914.9 L1520.3 1924.5 L1520.8 1933.9 L1521.3 1943.7 L1521.8 1953.9 L1522.3 1964.4 L1522.8 1975.4 L1523.3 1986.6 L1523.7 1998.1 L1524.2 2009.8 L1524.7 2021.7 L1525.2 2033.7 L1525.7 2045.8 L1526.2 2057.9 L1526.7 2070 L1527.2 2082 L1527.7 2094.1 L1528.2 2106.1 L1528.7 2118 L1529.2 2129.7 L1529.7 2141.3 L1530.1 2152.7 L1530.6 2163.9 L1531.1 2174.9 L1531.6 2185.5 L1532.1 2195.8 L1532.6 2205.8 L1533.1 2215.2 L1533.6 2224.2 L1534.1 2232.7 L1534.6 2240.7 L1535.1 2248 L1535.6 2254.8 L1536.1 2260.8 L1536.5 2266.2 L1537 2270.9 L1537.5 2274.9 L1538 2278 L1538.5 2280.3 L1539 2281.7 L1539.5 2282.2 L1539.8 2281.7 L1540.1 2280.2 L1540.5 2277.7 L1540.8 2274.3 L1541.1 2270.1 L1541.4 2265.2 L1541.7 2259.4 L1542 2253 L1542.4 2245.9 L1542.7 2238.1 L1543 2229.7 L1543.3 2220.8 L1543.6 2211.3 L1544 2201.4 L1544.3 2191 L1544.6 2180.3 L1544.9 2169.2 L1545.2 2157.8 L1545.5 2146.3 L1545.9 2134.6 L1546.2 2122.8 L1546.5 2110.8 L1546.8 2098.7 L1547.1 2086.5 L1547.4 2074.4 L1547.8 2062.3 L1548.1 2050.2 L1548.4 2038.2 L1548.7 2026.2 L1549 2014.5 L1549.4 2002.9 L1549.7 1991.7 L1550 1980.8 L1550.3 1970.2 L1550.6 1960.1 L1550.9 1950.4 L1551.3 1941.2 L1551.6 1932.6 L1551.9 1924.5 L1552.3 1913.5 L1552.8 1902.3 L1553.2 1890.8 L1553.7 1879.1 L1554.1 1867.2 L1554.5 1855.2 L1555 1843 L1555.4 1830.7 L1555.8 1818.4 L1556.3 1806 L1556.7 1793.8 L1557.2 1781.6 L1557.6 1769.4 L1558 1757.3 L1558.5 1745.4 L1558.9 1733.5 L1559.4 1721.9 L1559.8 1710.4 L1560.2 1699.2 L1560.7 1688.2 L1561.1 1677.6 L1561.5 1667.2 L1562 1657.2 L1562.4 1647.6 L1562.9 1638.4 L1563.3 1629.6 L1563.7 1621.3 L1564.2 1613.5 L1564.6 1606.2 L1565.1 1599.5 L1565.5 1593.4 L1565.9 1587.8 L1566.4 1582.9 L1566.8 1578.7 L1567.2 1575.2 L1567.7 1572.4 L1568.1 1570.3 L1568.6 1569.1 L1569 1568.6 L1569.3 1569.1 L1569.7 1570.5 L1570 1572.9 L1570.4 1576 L1570.7 1580 L1571.1 1584.7 L1571.4 1590.2 L1571.8 1596.3 L1572.1 1603.1 L1572.5 1610.5 L1572.8 1618.6 L1573.2 1627.1 L1573.5 1636.2 L1573.8 1645.7 L1574.2 1655.6 L1574.5 1666 L1574.9 1676.7 L1575.2 1687.7 L1575.6 1699 L1575.9 1710.5 L1576.3 1722.2 L1576.6 1734.1 L1577 1746.1 L1577.3 1758.2 L1577.7 1770.3 L1578 1782.5 L1578.3 1794.6 L1578.7 1806.6 L1579 1818.7 L1579.4 1830.6 L1579.7 1842.3 L1580.1 1853.8 L1580.4 1865 L1580.8 1875.9 L1581.1 1886.5 L1581.5 1896.6 L1581.8 1906.4 L1582.2 1915.7 L1582.5 1924.5 L1582.9 1934.6 L1583.3 1945.2 L1583.7 1956 L1584.1 1967.2 L1584.5 1978.7 L1584.9 1990.3 L1585.4 2002.2 L1585.8 2014.3 L1586.2 2026.4 L1586.6 2038.7 L1587 2050.9 L1587.4 2063 L1587.8 2075.1 L1588.2 2087.2 L1588.6 2099.2 L1589 2111.1 L1589.4 2122.8 L1589.8 2134.3 L1590.2 2145.6 L1590.7 2156.7 L1591.1 2167.6 L1591.5 2178.2 L1591.9 2188.4 L1592.3 2198.3 L1592.7 2207.6 L1593.1 2216.6 L1593.5 2225 L1593.9 2232.8 L1594.3 2240.1 L1594.7 2246.8 L1595.1 2252.8 L1595.6 2258.1 L1596 2262.7 L1596.4 2266.5 L1596.8 2269.6 L1597.2 2271.8 L1597.6 2273.2 L1598 2273.7 L1598.4 2273.2 L1598.8 2271.7 L1599.2 2269.4 L1599.6 2266.3 L1600 2262.3 L1600.4 2257.5 L1600.8 2252 L1601.2 2245.8 L1601.6 2238.9 L1602 2231.4 L1602.4 2223.4 L1602.8 2214.7 L1603.2 2205.6 L1603.6 2196 L1604 2185.9 L1604.4 2175.5 L1604.8 2164.7 L1605.2 2153.6 L1605.6 2142.3 L1606 2130.8 L1606.4 2119.2 L1606.8 2107.3 L1607.2 2095.4 L1607.6 2083.3 L1608 2071.2 L1608.4 2059.1 L1608.8 2047 L1609.2 2034.8 L1609.6 2022.7 L1610 2010.7 L1610.4 1998.9 L1610.8 1987.3 L1611.2 1976 L1611.6 1964.9 L1612 1954.2 L1612.4 1943.9 L1612.8 1934 L1613.2 1924.5 L1613.6 1915.2 L1614 1905.4 L1614.4 1895.3 L1614.8 1884.8 L1615.1 1873.9 L1615.5 1862.8 L1615.9 1851.5 L1616.3 1839.9 L1616.7 1828.1 L1617.1 1816.2 L1617.5 1804.3 L1617.9 1792.3 L1618.3 1780.3 L1618.7 1768.4 L1619 1756.4 L1619.4 1744.5 L1619.8 1732.8 L1620.2 1721.2 L1620.6 1709.7 L1621 1698.5 L1621.4 1687.5 L1621.8 1676.8 L1622.2 1666.5 L1622.6 1656.5 L1622.9 1646.9 L1623.3 1637.7 L1623.7 1628.9 L1624.1 1620.7 L1624.5 1613 L1624.9 1605.8 L1625.3 1599.3 L1625.7 1593.4 L1626.1 1588.2 L1626.5 1583.7 L1626.8 1579.9 L1627.2 1576.9 L1627.6 1574.7 L1628 1573.4 L1628.4 1572.9 L1628.8 1573.3 L1629.2 1574.6 L1629.6 1576.8 L1630 1579.7 L1630.4 1583.3 L1630.8 1587.7 L1631.2 1592.8 L1631.6 1598.5 L1632 1604.9 L1632.4 1611.9 L1632.8 1619.4 L1633.2 1627.4 L1633.6 1636 L1634 1645 L1634.4 1654.4 L1634.8 1664.2 L1635.2 1674.4 L1635.6 1684.9 L1636 1695.7 L1636.3 1706.8 L1636.7 1718.1 L1637.1 1729.6 L1637.5 1741.3 L1637.9 1753.1 L1638.3 1765 L1638.7 1776.9 L1639.1 1788.9 L1639.5 1800.9 L1639.9 1812.9 L1640.3 1825 L1640.7 1836.9 L1641.1 1848.7 L1641.5 1860.3 L1641.9 1871.7 L1642.3 1882.8 L1642.7 1893.8 L1643.1 1904.3 L1643.5 1914.6 L1643.9 1924.5 L1644.3 1933.4 L1644.6 1942.8 L1645 1952.7 L1645.3 1963 L1645.7 1973.7 L1646 1984.7 L1646.4 1996 L1646.8 2007.6 L1647.1 2019.4 L1647.5 2031.4 L1647.8 2043.5 L1648.2 2055.5 L1648.6 2067.6 L1648.9 2079.7 L1649.3 2091.8 L1649.6 2103.8 L1650 2115.7 L1650.3 2127.5 L1650.7 2139.1 L1651.1 2150.4 L1651.4 2161.6 L1651.8 2172.5 L1652.1 2183.1 L1652.5 2193.4 L1652.8 2203.1 L1653.2 2212.5 L1653.6 2221.3 L1653.9 2229.5 L1654.3 2237.2 L1654.6 2244.2 L1655 2250.5 L1655.4 2256.2 L1655.7 2261.1 L1656.1 2265.1 L1656.4 2268.4 L1656.8 2270.8 L1657.1 2272.2 L1657.5 2272.7 L1658 2272.3 L1658.4 2270.9 L1658.8 2268.8 L1659.3 2265.9 L1659.8 2262.2 L1660.2 2257.7 L1660.7 2252.6 L1661.1 2246.7 L1661.5 2240.3 L1662 2233.2 L1662.5 2225.6 L1662.9 2217.4 L1663.3 2208.8 L1663.8 2199.6 L1664.2 2190 L1664.7 2180.1 L1665.1 2169.7 L1665.6 2159 L1666 2148.1 L1666.5 2136.9 L1667 2125.6 L1667.4 2114 L1667.8 2102.2 L1668.3 2090.3 L1668.8 2078.3 L1669.2 2066.2 L1669.6 2054 L1670.1 2041.9 L1670.5 2029.5 L1671 2017.2 L1671.4 2005 L1671.9 1992.9 L1672.3 1980.9 L1672.8 1969.2 L1673.2 1957.6 L1673.7 1946.3 L1674.1 1935.2 L1674.6 1924.5 L1674.9 1916.2 L1675.3 1907.4 L1675.6 1898.1 L1675.9 1888.3 L1676.3 1878 L1676.6 1867.4 L1677 1856.4 L1677.3 1845.1 L1677.6 1833.6 L1678 1821.8 L1678.3 1809.8 L1678.6 1797.8 L1679 1785.7 L1679.3 1773.5 L1679.6 1761.4 L1680 1749.2 L1680.3 1737.1 L1680.6 1725.1 L1681 1713.3 L1681.3 1701.6 L1681.7 1690.2 L1682 1679 L1682.3 1668.1 L1682.7 1657.6 L1683 1647.5 L1683.3 1637.8 L1683.7 1628.5 L1684 1619.8 L1684.3 1611.6 L1684.7 1604 L1685 1597 L1685.3 1590.7 L1685.7 1585.1 L1686 1580.3 L1686.4 1576.2 L1686.7 1573 L1687 1570.6 L1687.4 1569.1 L1687.7 1568.6 L1688.2 1569 L1688.6 1570.2 L1689.1 1572.2 L1689.5 1574.9 L1690 1578.2 L1690.4 1582.2 L1690.9 1586.9 L1691.3 1592.2 L1691.8 1598.1 L1692.2 1604.5 L1692.7 1611.5 L1693.1 1619 L1693.6 1627 L1694 1635.5 L1694.5 1644.4 L1694.9 1653.7 L1695.4 1663.4 L1695.8 1673.5 L1696.3 1683.9 L1696.7 1694.7 L1697.2 1705.7 L1697.6 1717 L1698.1 1728.5 L1698.5 1740.2 L1699 1752.1 L1699.4 1764.2 L1699.9 1776.3 L1700.3 1788.6 L1700.8 1801 L1701.2 1813.5 L1701.7 1826.1 L1702.1 1838.7 L1702.6 1851.2 L1703 1863.7 L1703.5 1876.1 L1703.9 1888.5 L1704.4 1900.6 L1704.8 1912.7 L1705.3 1924.5 L1705.6 1931.9 L1705.8 1939.9 L1706.1 1948.6 L1706.4 1957.8 L1706.7 1967.5 L1706.9 1977.8 L1707.2 1988.4 L1707.5 1999.4 L1707.8 2010.7 L1708 2022.4 L1708.3 2034.2 L1708.6 2046.2 L1708.9 2058.3 L1709.1 2070.4 L1709.4 2082.6 L1709.7 2094.8 L1710 2107 L1710.2 2119.2 L1710.5 2131.2 L1710.8 2143.1 L1711.1 2154.7 L1711.3 2166.3 L1711.6 2177.6 L1711.9 2188.6 L1712.2 2199.1 L1712.4 2209.3 L1712.7 2219 L1713 2228.1 L1713.3 2236.7 L1713.5 2244.7 L1713.8 2252.1 L1714.1 2258.7 L1714.4 2264.6 L1714.6 2269.8 L1714.9 2274.1 L1715.2 2277.6 L1715.5 2280.1 L1715.7 2281.7 L1716 2282.2 L1716.5 2281.7 L1717 2280.3 L1717.5 2278 L1718.1 2274.9 L1718.6 2270.9 L1719.1 2266.2 L1719.6 2260.9 L1720.1 2254.8 L1720.6 2248 L1721.1 2240.7 L1721.6 2232.7 L1722.2 2224.3 L1722.7 2215.3 L1723.2 2205.8 L1723.7 2195.9 L1724.2 2185.6 L1724.7 2174.9 L1725.2 2164 L1725.7 2152.7 L1726.3 2141.4 L1726.8 2129.8 L1727.3 2118.1 L1727.8 2106.2 L1728.3 2094.2 L1728.8 2082.1 L1729.3 2070 L1729.8 2058 L1730.4 2045.9 L1730.9 2033.8 L1731.4 2021.8 L1731.9 2009.9 L1732.4 1998.2 L1732.9 1986.7 L1733.4 1975.4 L1733.9 1964.5 L1734.5 1953.9 L1735 1943.7 L1735.5 1933.9 L1736 1924.5 L1736.5 1915.1 L1737 1905.3 L1737.5 1895.1 L1738 1884.6 L1738.5 1873.7 L1739.1 1862.6 L1739.6 1851.2 L1740.1 1839.7 L1740.6 1827.9 L1741.1 1816 L1741.6 1804.1 L1742.1 1792.1 L1742.6 1780.1 L1743.1 1768.2 L1743.7 1756.2 L1744.2 1744.3 L1744.7 1732.5 L1745.2 1720.8 L1745.7 1709.3 L1746.2 1698 L1746.7 1686.9 L1747.2 1676.1 L1747.7 1665.6 L1748.2 1655.4 L1748.8 1645.5 L1749.3 1636.1 L1749.8 1627.1 L1750.3 1618.5 L1750.8 1610.5 L1751.3 1602.9 L1751.8 1595.9 L1752.3 1589.6 L1752.8 1583.8 L1753.3 1578.7 L1753.9 1574.3 L1754.4 1570.6 L1754.9 1567.6 L1755.4 1565.4 L1755.9 1564.1 L1756.4 1563.7 L1756.7 1564.2 L1757 1565.6 L1757.3 1567.9 L1757.6 1571.2 L1757.9 1575.2 L1758.2 1580 L1758.6 1585.5 L1758.9 1591.7 L1759.2 1598.5 L1759.5 1606 L1759.8 1614.1 L1760.1 1622.7 L1760.4 1631.8 L1760.7 1641.4 L1761 1651.4 L1761.3 1661.7 L1761.6 1672.5 L1761.9 1683.5 L1762.2 1694.8 L1762.6 1706.3 L1762.9 1718 L1763.2 1729.9 L1763.5 1741.9 L1763.8 1753.9 L1764.1 1766 L1764.4 1778 L1764.7 1790 L1765 1801.9 L1765.3 1813.8 L1765.6 1825.5 L1765.9 1837 L1766.2 1848.3 L1766.5 1859.3 L1766.9 1869.9 L1767.2 1880.2 L1767.5 1890 L1767.8 1899.4 L1768.1 1908.3 L1768.4 1916.7 L1768.7 1924.5 L1769.2 1935.7 L1769.6 1947.1 L1770.1 1958.8 L1770.5 1970.7 L1771 1982.8 L1771.4 1995 L1771.9 2007.3 L1772.4 2019.7 L1772.8 2032.1 L1773.3 2044.5 L1773.7 2056.8 L1774.2 2069 L1774.7 2081.1 L1775.1 2093.1 L1775.6 2105 L1776 2116.7 L1776.5 2128.2 L1776.9 2139.5 L1777.4 2150.5 L1777.9 2161.4 L1778.3 2172 L1778.8 2182.2 L1779.2 2192.1 L1779.7 2201.5 L1780.1 2210.5 L1780.6 2219.1 L1781.1 2227.1 L1781.5 2234.6 L1782 2241.5 L1782.4 2247.8 L1782.9 2253.5 L1783.4 2258.5 L1783.8 2262.9 L1784.3 2266.5 L1784.7 2269.4 L1785.2 2271.5 L1785.6 2272.7 L1786.1 2273.2 L1786.4 2272.7 L1786.8 2271.3 L1787.1 2269.1 L1787.4 2266 L1787.7 2262.2 L1788.1 2257.6 L1788.4 2252.2 L1788.7 2246.2 L1789.1 2239.5 L1789.4 2232.3 L1789.7 2224.4 L1790 2216 L1790.4 2207 L1790.7 2197.7 L1791 2187.8 L1791.4 2177.6 L1791.7 2167 L1792 2156.1 L1792.3 2145 L1792.7 2133.7 L1793 2122.1 L1793.3 2110.4 L1793.7 2098.5 L1794 2086.6 L1794.3 2074.5 L1794.7 2062.4 L1795 2050.3 L1795.3 2038.1 L1795.6 2025.9 L1796 2013.8 L1796.3 2001.8 L1796.6 1989.9 L1797 1978.3 L1797.3 1966.9 L1797.6 1955.8 L1797.9 1945 L1798.3 1934.6 L1798.6 1924.5 L1798.9 1915.3 L1799.2 1906 L1799.5 1896.6 L1799.8 1887.1 L1800.1 1877.5 L1800.4 1867.9 L1800.7 1858.2 L1801 1848.6"/>
</g>
<g font-size="64.5" fill="#000">
<g text-anchor="end">
<text transform="translate(346 1478.3) scale(1 1.055)">2000</text>
<text transform="translate(346 1594.7) scale(1 1.055)">1500</text>
<text transform="translate(346 1711.1) scale(1 1.055)">1000</text>
<text transform="translate(346 1827.5) scale(1 1.055)">500</text>
<text transform="translate(346 1943.9) scale(1 1.055)">0</text>
<text transform="translate(346 2060.3) scale(1 1.055)">-500</text>
<text transform="translate(346 2176.7) scale(1 1.055)">-1000</text>
<text transform="translate(346 2293.1) scale(1 1.055)">-1500</text>
<text transform="translate(346 2409.5) scale(1 1.055)">-2000</text>
</g>
<g text-anchor="middle">
<text transform="translate(402 2021.3) scale(1 1.055)">0</text>
<text transform="translate(689.8 2021.3) scale(1 1.055)">50</text>
<text transform="translate(977.6 2021.3) scale(1 1.055)">100</text>
<text transform="translate(1265.4 2021.3) scale(1 1.055)">150</text>
<text transform="translate(1553.2 2021.3) scale(1 1.055)">200</text>
<text transform="translate(1841 2021.3) scale(1 1.055)">250</text>
<g font-size="65.3"><text dx="0 -2.3 -1.6 -3 0 3 0.9 3" transform="translate(1121 2460.3) scale(1 1.055)">Time (s)</text></g>
<text transform="translate(153.8 1924.5) rotate(-90) scale(1 1.055)">Load F (N)</text>
</g>
</g>
<g font-size="54.3" fill="#000">
<line x1="466.3" y1="1503.8" x2="569.5" y2="1503.8" stroke="#33cc33" stroke-width="9.6" stroke-linecap="round"/>
<text transform="translate(581 1522.3) scale(1 1.055)">P4 (1 cycle)</text>
<line x1="904.8" y1="1503.8" x2="1006.2" y2="1503.8" stroke="#0000ff" stroke-width="9.6" stroke-linecap="round"/>
<text transform="translate(1018 1522.3) scale(1 1.055)">P5 (10 cycles)</text>
<line x1="1397.8" y1="1503.8" x2="1501.5" y2="1503.8" stroke="#d60093" stroke-width="9.6" stroke-linecap="round"/>
<text transform="translate(1513 1522.3) scale(1 1.055)">P6 (20 cycles)</text>
</g>
<text class="cap" x="992.5" y="2625" text-anchor="middle" font-size="85">(<tspan font-weight="bold">b</tspan>)</text>
</g>
</g>
<g class="panel-c">
<g fill="none" stroke="#d9d9d9" stroke-width="2.6">
<line x1="415.8" y1="2784" x2="1824" y2="2784"/>
<line x1="415.8" y1="2877.9" x2="1824" y2="2877.9"/>
<line x1="415.8" y1="2972" x2="1824" y2="2972"/>
<line x1="415.8" y1="3066.8" x2="1824" y2="3066.8"/>
<line x1="415.8" y1="3161.1" x2="1824" y2="3161.1"/>
<line x1="415.8" y1="3352.8" x2="1824" y2="3352.8"/>
<line x1="415.8" y1="3446.3" x2="1824" y2="3446.3"/>
<line x1="415.8" y1="3541" x2="1824" y2="3541"/>
<line x1="415.8" y1="3635.4" x2="1824" y2="3635.4"/>
<line x1="415.8" y1="3729.9" x2="1824" y2="3729.9"/>
<line x1="697.4" y1="2784" x2="697.4" y2="3729.9"/>
<line x1="979.1" y1="2784" x2="979.1" y2="3729.9"/>
<line x1="1260.7" y1="2784" x2="1260.7" y2="3729.9"/>
<line x1="1542.4" y1="2784" x2="1542.4" y2="3729.9"/>
<line x1="1824" y1="2784" x2="1824" y2="3729.9"/>
</g>
<g fill="none" stroke="#bfbfbf" stroke-width="2.8">
<line x1="415.8" y1="3257.6" x2="1824" y2="3257.6"/>
<line x1="415.8" y1="2784" x2="415.8" y2="3729.9"/>
</g>
<clipPath id="plot-c"><rect x="415.8" y="2764" width="1428.2" height="985.9"/></clipPath>
<g clip-path="url(#plot-c)" fill="none" stroke-width="9.3" stroke-linecap="round" stroke-linejoin="round">
<path stroke="#d60093" d="M416.7 3257.6 L418 3246 L419.2 3234.5 L420.5 3223 L421.7 3211.6 L422.9 3200 L424.2 3188.8 L425.4 3178.9 L427.1 3167.2 L428.7 3156.9 L430.4 3147.3 L432 3137.8 L433.7 3127.8 L435.1 3118.8 L436.6 3109.8 L438 3100.7 L439.5 3091.4 L440.9 3081.7 L442.4 3071.5 L443.7 3061.2 L444.9 3049.7 L446.2 3038.8 L447.5 3030 L449.1 3022.2 L450.6 3015.7 L452.2 3009.3 L453.7 3002.7 L455.2 2996.1 L456.7 2989.5 L457.7 2986.3 L458.6 2981 L458.8 2977.1 L459 2969.7 L459.2 2959.7 L459.4 2948.2 L459.6 2936.2 L459.8 2924.7 L459.9 2914.7 L460 2903.2 L460.2 2893 L460.3 2887.3 L461 2878.5 L461.6 2875.5 L462.7 2875.2 L463.7 2875.1 L464 2879.5 L464.2 2890.8 L464.5 2906 L464.5 2911.4 L464.6 2919 L464.7 2928.6 L464.7 2939.5 L464.8 2951.2 L464.9 2963.4 L464.9 2975.6 L465 2987.2 L465 2997.9 L465.1 3007 L465.2 3014.1 L465.2 3018.7 L465.6 3033 L465.9 3043.1 L466.2 3050.4 L466.6 3056.4 L467.4 3068.7 L468.2 3078.1 L469 3086.1 L469.8 3094 L471 3106.1 L472.2 3117.4 L473.4 3127.8 L474.6 3138.3 L475.9 3148.3 L477.2 3157.9 L478.5 3167.4 L479.8 3176.6 L481 3185.7 L482.3 3194.6 L483.6 3203.4 L484.9 3212.2 L486.1 3221 L487.4 3230 L488.7 3239.2 L490 3248.5 L491.3 3258.2 L492.4 3267.3 L493.6 3276.4 L494.8 3285.7 L496 3295 L497.2 3304.4 L498.3 3313.9 L499.5 3323.4 L500.7 3333 L501.9 3342.6 L503.1 3352.3 L504.2 3361.8 L505.4 3371.3 L506.6 3380.8 L507.8 3390.3 L509 3399.7 L510.1 3409.1 L511.3 3418 L512.5 3426.1 L513.6 3433.8 L514.8 3441.2 L516 3448.5 L517.1 3456.1 L518.3 3464 L519.4 3472.6 L520.6 3481.9 L521.8 3492.2 L522.9 3503.8 L524.1 3516.8 L525.3 3531.5 L525.7 3537.9 L526.2 3545.7 L526.7 3556.6 L527.1 3572.3 L527.2 3579.8 L527.4 3592.1 L527.5 3606.5 L527.6 3620.2 L527.7 3630.4 L527.8 3634.5 L528.6 3634.5 L529.3 3634.5 L529.5 3631.6 L529.7 3623.9 L529.8 3612.9 L530 3599.9 L530.1 3586.4 L530.3 3573.7 L530.4 3563.3 L530.6 3556.6 L531.2 3541.5 L531.9 3530.1 L532.5 3521.3 L533.1 3513.8 L533.8 3506.3 L534.7 3494.3 L535.7 3483.1 L536.7 3472.8 L537.7 3463 L538.7 3453.8 L539.7 3445 L540.7 3436.5 L541.7 3428.2 L542.7 3419.9 L543.7 3411.4 L544.7 3402.8 L545.7 3393.8 L546.7 3384.3 L547.5 3375.7 L548.4 3366.9 L549.3 3358 L550.1 3348.9 L551 3339.7 L551.8 3330.4 L552.7 3321.1 L553.6 3311.8 L554.4 3302.5 L555.3 3293.3 L556.2 3284.1 L557 3275.1 L557.9 3266.3 L558.8 3257.6 L559.8 3247 L560.9 3236.5 L562 3226.3 L563 3216.5 L564.2 3205.9 L565.4 3195.5 L566.6 3185.4 L567.8 3175.5 L569 3165.8 L570.2 3156.3 L571.4 3146.9 L572.6 3137.5 L573.8 3128 L575 3118.4 L576.2 3108.7 L577.5 3098.2 L578.7 3087.5 L580 3076.8 L581.2 3066.4 L582.5 3056.4 L583.8 3046 L585.1 3035.6 L586.5 3025.7 L587.8 3016.8 L589.1 3009.3 L591 3003.6 L592.9 2994.2 L593.1 2989.6 L593.3 2980.6 L593.4 2968.8 L593.6 2955.8 L593.8 2943.4 L594 2935 L594.1 2926.1 L594.2 2916.8 L594.4 2907.1 L594.5 2897.1 L594.6 2886.7 L594.8 2876"/>
<path stroke="#ffc000" d="M424.8 3173.1 L425.8 3161.1 L426.7 3150.3 L427.7 3140 L428.6 3130.3 L429.5 3122.2 L431.4 3109.4 L433.3 3099.6 L435.2 3092.4 L437.1 3086.4 L439 3080.9 L440.6 3076.4 L442.1 3072.1 L443.7 3068 L445.3 3064.1 L446.9 3060.2 L448.4 3056.4 L450 3052.8 L451.6 3049.3 L453.1 3045.9 L454.7 3042.6 L456.3 3039.2 L457.9 3035.7 L459.4 3032.3 L461 3029.2 L462.6 3026 L464.2 3022.5 L465.7 3018.3 L467.3 3013 L468.7 3006.9 L470.1 2996.1 L470.5 2989.8 L470.9 2979.7 L471.3 2967.6 L471.7 2955 L472 2943.4 L472.4 2932 L472.8 2919.7 L473.2 2907.8 L473.5 2897.8 L473.9 2891 L474.9 2880.6 L475.8 2876 L476.1 2876.5 L476.4 2877.9 L476.7 2880.2 L477 2883.4 L477.3 2887.4 L477.5 2892.2 L477.8 2897.7 L478.1 2903.9 L478.4 2910.7 L478.7 2918.2 L479 2926.3 L479.3 2934.9 L479.6 2944 L479.9 2953.6 L480.2 2963.7 L480.5 2974.1 L480.7 2984.9 L481 2996.1 L481.3 3007.5 L481.6 3019.2 L481.9 3031.1 L482.2 3043.1 L482.5 3055.3 L482.8 3067.5 L483.1 3079.7 L483.4 3091.9 L483.6 3104 L483.9 3116.1 L484.2 3128.1 L484.5 3139.9 L484.8 3151.5 L485.1 3163 L485.4 3174.3 L485.7 3185.4 L486 3196.1 L486.3 3206.4 L486.5 3216.3 L486.8 3225.6 L487.1 3234.5 L487.4 3242.8 L487.7 3250.5 L488 3257.6 L488.5 3269.7 L489.1 3282 L489.6 3294.3 L490.1 3306.8 L490.6 3319.3 L491.2 3331.9 L491.7 3344.5 L492.2 3357 L492.7 3369.3 L493.3 3381.6 L493.8 3393.9 L494.3 3406 L494.8 3418.1 L495.4 3430.1 L495.9 3441.9 L496.4 3453.7 L496.9 3465.3 L497.5 3476.7 L498 3487.9 L498.5 3498.9 L499.1 3509.5 L499.6 3519.9 L500.1 3530 L500.6 3539.8 L501.2 3549.2 L501.7 3558.2 L502.2 3566.9 L502.7 3575.1 L503.3 3582.9 L503.8 3590.3 L504.3 3597.2 L504.8 3603.5 L505.4 3609.4 L505.9 3614.8 L506.4 3619.6 L506.9 3623.8 L507.5 3627.4 L508 3630.4 L508.5 3632.8 L509 3634.6 L509.6 3635.6 L510.1 3636 L510.4 3635.5 L510.7 3634.1 L511 3631.7 L511.3 3628.5 L511.6 3624.5 L511.9 3619.7 L512.2 3614.2 L512.5 3608 L512.8 3601.1 L513.1 3593.5 L513.4 3585.4 L513.7 3576.8 L514 3567.6 L514.3 3558 L514.6 3547.9 L514.9 3537.4 L515.2 3526.6 L515.5 3515.4 L515.8 3504 L516.1 3492.3 L516.4 3480.5 L516.7 3468.5 L517 3456.4 L517.3 3444.2 L517.6 3432.1 L517.9 3420.1 L518.2 3408 L518.5 3396.1 L518.8 3384.3 L519.1 3372.6 L519.4 3361.1 L519.7 3349.9 L520 3338.7 L520.3 3327.9 L520.6 3317.4 L520.9 3307.4 L521.2 3297.7 L521.5 3288.6 L521.8 3280 L522.1 3271.9 L522.4 3264.4 L522.7 3257.6 L523.3 3245.1 L523.8 3232.4 L524.4 3219.6 L525 3206.8 L525.5 3194 L526.1 3181.1 L526.7 3168.1 L527.3 3155.4 L527.8 3142.8 L528.4 3130.3 L529 3117.8 L529.5 3105.5 L530.1 3093.2 L530.7 3081.1 L531.2 3069.1 L531.8 3057.3 L532.4 3045.6 L532.9 3034.2 L533.5 3022.9 L534.1 3012 L534.7 3001.3 L535.2 2990.9 L535.8 2980.8 L536.4 2971 L536.9 2961.7 L537.5 2952.7 L538.1 2944.1 L538.6 2935.9 L539.2 2928.2 L539.8 2920.9 L540.3 2914.1 L540.9 2907.7 L541.5 2901.9 L542 2896.6 L542.6 2891.9 L543.2 2887.7 L543.8 2884.1 L544.3 2881.1 L544.9 2878.7 L545.5 2877 L546 2876 L546.6 2875.6 L546.9 2876.1 L547.3 2877.4 L547.6 2879.4 L548 2882.3 L548.3 2885.9 L548.6 2890.3 L549 2895.3 L549.3 2901 L549.6 2907.3 L550 2914.2 L550.3 2921.6 L550.7 2929.6 L551 2938 L551.3 2946.9 L551.7 2956.3 L552 2966 L552.3 2976.2 L552.7 2986.7 L553 2997.6 L553.4 3008.7 L553.7 3020 L554 3031.5 L554.4 3043.3 L554.7 3055.1 L555.1 3067.1 L555.4 3079.1 L555.7 3091.1 L556.1 3103.2 L556.4 3115.2 L556.7 3127.2 L557.1 3139.1 L557.4 3150.9 L557.8 3162.5 L558.1 3174.3 L558.4 3185.8 L558.8 3197.1 L559.1 3208 L559.4 3218.7 L559.8 3229 L560.1 3239 L560.5 3248.5 L560.8 3257.6 L561.2 3267.3 L561.5 3277.3 L561.9 3287.7 L562.3 3298.3 L562.6 3309.3 L563 3320.5 L563.4 3331.9 L563.7 3343.5 L564.1 3355.2 L564.5 3366.9 L564.8 3378.7 L565.2 3390.5 L565.6 3402.4 L565.9 3414.3 L566.3 3426.2 L566.7 3438 L567 3449.8 L567.4 3461.6 L567.8 3473.3 L568.1 3484.8 L568.5 3496.1 L568.9 3507.1 L569.2 3518 L569.6 3528.5 L570 3538.7 L570.3 3548.6 L570.7 3558.1 L571.1 3567.2 L571.4 3575.8 L571.8 3584 L572.2 3591.7 L572.5 3598.9 L572.9 3605.5 L573.3 3611.6 L573.6 3617.1 L574 3621.9 L574.4 3626.1 L574.7 3629.6 L575.1 3632.3 L575.5 3634.3 L575.8 3635.6 L576.2 3636 L576.6 3635.5 L577 3634.2 L577.4 3632.1 L577.7 3629.2 L578.1 3625.5 L578.5 3621 L578.9 3615.9 L579.3 3610.1 L579.6 3603.7 L580 3596.7 L580.4 3589.1 L580.8 3581 L581.2 3572.5 L581.6 3563.4 L582 3553.9 L582.3 3544 L582.7 3533.8 L583.1 3523.2 L583.5 3512.3 L583.9 3501.1 L584.2 3489.7 L584.6 3478.1 L585 3466.4 L585.4 3454.5 L585.8 3442.6 L586.2 3430.7 L586.5 3418.8 L586.9 3406.9 L587.3 3395 L587.7 3383.2 L588.1 3371.5 L588.5 3360 L588.9 3348.5 L589.2 3337.1 L589.6 3326 L590 3315.1 L590.4 3304.6 L590.8 3294.4 L591.1 3284.5 L591.5 3275.1 L591.9 3266.1 L592.3 3257.6 L592.8 3247.3 L593.2 3236.7 L593.7 3225.7 L594.2 3214.5 L594.6 3203.1 L595.1 3191.4 L595.5 3179.6 L596 3167.6 L596.5 3155.5 L596.9 3143.6 L597.4 3131.6 L597.9 3119.5 L598.3 3107.4 L598.8 3095.4 L599.3 3083.4 L599.7 3071.4 L600.2 3059.5 L600.7 3047.7 L601.1 3036.1 L601.6 3024.6 L602 3013.4 L602.5 3002.4 L603 2991.6 L603.4 2981.2 L603.9 2971 L604.4 2961.3 L604.8 2952 L605.3 2943.1 L605.8 2934.5 L606.2 2926.5 L606.7 2918.9 L607.2 2911.9 L607.6 2905.4 L608.1 2899.4 L608.5 2894.1 L609 2889.4 L609.5 2885.3 L609.9 2881.9 L610.4 2879.2 L610.9 2877.2 L611.3 2876 L611.8 2875.6 L612.2 2876.1 L612.5 2877.4 L612.9 2879.6 L613.3 2882.6 L613.6 2886.3 L614 2890.8 L614.3 2896 L614.7 2901.9 L615.1 2908.4 L615.4 2915.6 L615.8 2923.2 L616.2 2931.5 L616.5 2940.2 L616.9 2949.3 L617.3 2959 L617.6 2969 L618 2979.4 L618.4 2990.1 L618.7 3001.2 L619.1 3012.5 L619.5 3024.1 L619.8 3035.8 L620.2 3047.7 L620.5 3059.7 L620.9 3071.8 L621.3 3083.8 L621.6 3095.9 L622 3108 L622.4 3120 L622.7 3131.9 L623.1 3143.7 L623.5 3155.4 L623.8 3166.9 L624.2 3178.4 L624.5 3189.6 L624.9 3200.5 L625.3 3211.1 L625.6 3221.3 L626 3231.1 L626.4 3240.4 L626.7 3249.3 L627.1 3257.6 L627.6 3268.1 L628 3278.9 L628.5 3289.9 L629 3301.2 L629.5 3312.7 L629.9 3324.3 L630.4 3336.1 L630.9 3348.1 L631.4 3360 L631.8 3371.9 L632.3 3383.8 L632.8 3395.8 L633.3 3407.7 L633.7 3419.6 L634.2 3431.5 L634.7 3443.3 L635.2 3455 L635.6 3466.7 L636.1 3478.2 L636.6 3489.5 L637 3500.6 L637.5 3511.5 L638 3522 L638.5 3532.3 L638.9 3542.3 L639.4 3551.8 L639.9 3561 L640.4 3569.8 L640.8 3578.2 L641.3 3586.1 L641.8 3593.6 L642.3 3600.5 L642.7 3606.9 L643.2 3612.7 L643.7 3617.9 L644.2 3622.6 L644.6 3626.5 L645.1 3629.9 L645.6 3632.5 L646.1 3634.4 L646.5 3635.6 L647 3636 L647.3 3635.5 L647.6 3634.2 L647.9 3632 L648.2 3629 L648.5 3625.2 L648.8 3620.7 L649.1 3615.5 L649.4 3609.6 L649.7 3603.1 L650 3595.9 L650.4 3588.2 L650.7 3580 L651 3571.3 L651.3 3562.1 L651.6 3552.4 L651.9 3542.4 L652.2 3532 L652.5 3521.3 L652.8 3510.2 L653.1 3498.9 L653.4 3487.4 L653.7 3475.8 L654 3463.9 L654.3 3452 L654.6 3440 L654.9 3428.1 L655.2 3416.1 L655.5 3404.2 L655.8 3392.4 L656.1 3380.6 L656.4 3369 L656.8 3357.5 L657.1 3346.1 L657.4 3334.9 L657.7 3323.9 L658 3313.2 L658.3 3302.9 L658.6 3292.9 L658.9 3283.4 L659.2 3274.3 L659.5 3265.7 L659.8 3257.6 L660.2 3246.8 L660.6 3235.7 L661 3224.4 L661.4 3212.8 L661.8 3201 L662.3 3189.1 L662.7 3177 L663.1 3164.8 L663.5 3152.7 L663.9 3140.7 L664.3 3128.5 L664.7 3116.4 L665.1 3104.3 L665.5 3092.2 L665.9 3080.2 L666.4 3068.3 L666.8 3056.4 L667.2 3044.7 L667.6 3033.2 L668 3021.8 L668.4 3010.7 L668.8 2999.8 L669.2 2989.2 L669.6 2978.9 L670 2969 L670.4 2959.4 L670.9 2950.3 L671.3 2941.5 L671.7 2933.1 L672.1 2925.3 L672.5 2917.9 L672.9 2911 L673.3 2904.6 L673.7 2898.8 L674.1 2893.6 L674.5 2889 L675 2885 L675.4 2881.7 L675.8 2879.1 L676.2 2877.2 L676.6 2876 L677 2875.6 L677.4 2876.1 L677.8 2877.3 L678.3 2879.4 L678.7 2882.2 L679.1 2885.7 L679.5 2890 L679.9 2894.9 L680.4 2900.5 L680.8 2906.7 L681.2 2913.5 L681.6 2920.8 L682 2928.7 L682.4 2937 L682.9 2945.8 L683.3 2955.1 L683.7 2964.7 L684.1 2974.7 L684.5 2985.1 L685 2995.8 L685.4 3006.8 L685.8 3018.1 L686.2 3029.5 L686.6 3041.2 L687.1 3053 L687.5 3064.9 L687.9 3076.9 L688.3 3088.9 L688.7 3100.9 L689.2 3113 L689.6 3125 L690 3136.9 L690.4 3148.8 L690.8 3160.5 L691.2 3172.3 L691.7 3184 L692.1 3195.4 L692.5 3206.6 L692.9 3217.5 L693.3 3228.1 L693.8 3238.3 L694.2 3248.2 L694.6 3257.6 L695 3266.9 L695.4 3276.6 L695.9 3286.7 L696.3 3297.1 L696.7 3307.8 L697.1 3318.8 L697.5 3330.1 L698 3341.5 L698.4 3353.2 L698.8 3364.8 L699.2 3376.5 L699.6 3388.3 L700 3400.1 L700.5 3412 L700.9 3423.9 L701.3 3435.8 L701.7 3447.6 L702.1 3459.4 L702.6 3471.1 L703 3482.7 L703.4 3494.1 L703.8 3505.3 L704.2 3516.2 L704.7 3526.9 L705.1 3537.2 L705.5 3547.2 L705.9 3556.8 L706.3 3566 L706.8 3574.8 L707.2 3583.1 L707.6 3590.9 L708 3598.2 L708.4 3605 L708.8 3611.2 L709.3 3616.7 L709.7 3621.6 L710.1 3625.9 L710.5 3629.4 L710.9 3632.2 L711.4 3634.3 L711.8 3635.5 L712.2 3636 L712.6 3635.5 L712.9 3634.2 L713.3 3632 L713.6 3629 L714 3625.2 L714.4 3620.7 L714.7 3615.5 L715.1 3609.6 L715.4 3603 L715.8 3595.9 L716.2 3588.1 L716.5 3579.9 L716.9 3571.1 L717.2 3561.9 L717.6 3552.3 L718 3542.3 L718.3 3531.8 L718.7 3521.1 L719 3510 L719.4 3498.7 L719.8 3487.2 L720.1 3475.5 L720.5 3463.7 L720.8 3451.7 L721.2 3439.8 L721.5 3427.8 L721.9 3415.9 L722.3 3404 L722.6 3392.1 L723 3380.3 L723.3 3368.7 L723.7 3357.3 L724.1 3345.9 L724.4 3334.6 L724.8 3323.7 L725.1 3313 L725.5 3302.7 L725.9 3292.8 L726.2 3283.3 L726.6 3274.2 L726.9 3265.7 L727.3 3257.6 L727.8 3246.7 L728.3 3235.6 L728.8 3224.2 L729.3 3212.6 L729.7 3200.8 L730.2 3188.9 L730.7 3176.8 L731.2 3164.6 L731.7 3152.5 L732.2 3140.4 L732.7 3128.2 L733.2 3116.1 L733.6 3104 L734.1 3091.9 L734.6 3079.9 L735.1 3068 L735.6 3056.1 L736.1 3044.4 L736.6 3032.9 L737.1 3021.5 L737.5 3010.4 L738 2999.6 L738.5 2989 L739 2978.7 L739.5 2968.8 L740 2959.2 L740.5 2950.1 L741 2941.3 L741.5 2933 L741.9 2925.1 L742.4 2917.8 L742.9 2910.9 L743.4 2904.5 L743.9 2898.7 L744.4 2893.5 L744.9 2888.9 L745.4 2885 L745.8 2881.7 L746.3 2879.1 L746.8 2877.2 L747.3 2876 L747.8 2875.6 L748.1 2876.1 L748.4 2877.4 L748.7 2879.6 L749 2882.5 L749.3 2886.3 L749.6 2890.7 L749.8 2895.9 L750.1 2901.7 L750.4 2908.2 L750.7 2915.3 L751 2922.9 L751.3 2931.1 L751.6 2939.7 L751.9 2948.9 L752.2 2958.4 L752.5 2968.4 L752.8 2978.7 L753.1 2989.4 L753.4 3000.5 L753.7 3011.7 L754 3023.2 L754.2 3034.9 L754.5 3046.8 L754.8 3058.8 L755.1 3070.8 L755.4 3082.9 L755.7 3094.9 L756 3107 L756.3 3119 L756.6 3131 L756.9 3142.8 L757.2 3154.4 L757.5 3166 L757.8 3177.6 L758 3188.9 L758.3 3199.8 L758.6 3210.5 L758.9 3220.8 L759.2 3230.7 L759.5 3240.1 L759.8 3249.1 L760.1 3257.6 L760.5 3267.9 L760.8 3278.5 L761.2 3289.4 L761.6 3300.6 L761.9 3312 L762.3 3323.5 L762.7 3335.2 L763 3347.1 L763.4 3359 L763.8 3370.8 L764.1 3382.7 L764.5 3394.6 L764.9 3406.6 L765.2 3418.5 L765.6 3430.4 L766 3442.1 L766.3 3453.9 L766.7 3465.6 L767.1 3477.2 L767.4 3488.5 L767.8 3499.6 L768.2 3510.5 L768.5 3521.2 L768.9 3531.5 L769.3 3541.5 L769.6 3551.2 L770 3560.4 L770.4 3569.3 L770.7 3577.7 L771.1 3585.7 L771.5 3593.2 L771.8 3600.1 L772.2 3606.6 L772.6 3612.5 L772.9 3617.7 L773.3 3622.4 L773.7 3626.4 L774 3629.8 L774.4 3632.5 L774.8 3634.4 L775.1 3635.6 L775.5 3636 L775.9 3635.5 L776.3 3634.2 L776.7 3632.1 L777.1 3629.2 L777.6 3625.5 L778 3621.1 L778.4 3616.1 L778.8 3610.3 L779.2 3604 L779.6 3597 L780 3589.5 L780.4 3581.4 L780.9 3572.9 L781.3 3563.9 L781.7 3554.4 L782.1 3544.6 L782.5 3534.4 L782.9 3523.9 L783.3 3513 L783.7 3501.9 L784.1 3490.5 L784.6 3479 L785 3467.3 L785.4 3455.4 L785.8 3443.5 L786.2 3431.6 L786.6 3419.7 L787 3407.8 L787.4 3396 L787.9 3384.2 L788.3 3372.4 L788.7 3360.9 L789.1 3349.4 L789.5 3338 L789.9 3326.8 L790.3 3315.8 L790.7 3305.2 L791.2 3294.9 L791.6 3284.9 L792 3275.4 L792.4 3266.3 L792.8 3257.6 L793.3 3247.5 L793.8 3237 L794.2 3226.2 L794.7 3215.1 L795.2 3203.8 L795.7 3192.2 L796.2 3180.4 L796.6 3168.5 L797.1 3156.5 L797.6 3144.6 L798.1 3132.6 L798.6 3120.6 L799.1 3108.5 L799.5 3096.5 L800 3084.4 L800.5 3072.5 L801 3060.6 L801.5 3048.8 L801.9 3037.1 L802.4 3025.6 L802.9 3014.3 L803.4 3003.2 L803.9 2992.4 L804.3 2981.9 L804.8 2971.8 L805.3 2962 L805.8 2952.6 L806.3 2943.6 L806.7 2935 L807.2 2926.9 L807.7 2919.3 L808.2 2912.2 L808.7 2905.6 L809.2 2899.6 L809.6 2894.2 L810.1 2889.5 L810.6 2885.4 L811.1 2881.9 L811.6 2879.2 L812 2877.3 L812.5 2876.1 L813 2875.6 L813.2 2876.1 L813.5 2877.5 L813.8 2879.7 L814 2882.8 L814.2 2886.7 L814.5 2891.4 L814.8 2896.7 L815 2902.8 L815.2 2909.5 L815.5 2916.8 L815.8 2924.7 L816 2933.2 L816.2 2942.1 L816.5 2951.5 L816.8 2961.4 L817 2971.6 L817.2 2982.3 L817.5 2993.3 L817.8 3004.6 L818 3016.1 L818.2 3027.8 L818.5 3039.7 L818.8 3051.7 L819 3063.9 L819.2 3076 L819.5 3088.2 L819.8 3100.3 L820 3112.4 L820.2 3124.4 L820.5 3136.3 L820.8 3148 L821 3159.5 L821.2 3171 L821.5 3182.2 L821.8 3193.2 L822 3203.7 L822.2 3213.9 L822.5 3223.7 L822.8 3233 L823 3241.7 L823.2 3250 L823.5 3257.6 L823.9 3269 L824.3 3280.5 L824.7 3292.2 L825.1 3304.1 L825.4 3316.2 L825.8 3328.3 L826.2 3340.5 L826.6 3352.8 L827 3364.9 L827.4 3377 L827.8 3389.1 L828.2 3401.2 L828.5 3413.2 L828.9 3425.1 L829.3 3436.9 L829.7 3448.7 L830.1 3460.4 L830.5 3471.9 L830.9 3483.3 L831.3 3494.4 L831.6 3505.3 L832 3515.9 L832.4 3526.2 L832.8 3536.3 L833.2 3545.9 L833.6 3555.2 L834 3564.1 L834.4 3572.6 L834.8 3580.7 L835.1 3588.3 L835.5 3595.4 L835.9 3602.1 L836.3 3608.2 L836.7 3613.8 L837.1 3618.8 L837.5 3623.2 L837.9 3627 L838.2 3630.2 L838.6 3632.7 L839 3634.5 L839.4 3635.6 L839.8 3636 L840.2 3635.5 L840.5 3634.2 L840.9 3632 L841.3 3629 L841.7 3625.2 L842 3620.7 L842.4 3615.5 L842.8 3609.5 L843.1 3603 L843.5 3595.9 L843.9 3588.1 L844.3 3579.9 L844.6 3571.1 L845 3561.9 L845.4 3552.3 L845.7 3542.2 L846.1 3531.8 L846.5 3521.1 L846.9 3510 L847.2 3498.7 L847.6 3487.2 L848 3475.5 L848.3 3463.7 L848.7 3451.7 L849.1 3439.7 L849.5 3427.8 L849.8 3415.9 L850.2 3403.9 L850.6 3392.1 L850.9 3380.3 L851.3 3368.7 L851.7 3357.2 L852.1 3345.8 L852.4 3334.6 L852.8 3323.7 L853.2 3313 L853.5 3302.7 L853.9 3292.8 L854.3 3283.3 L854.7 3274.2 L855 3265.6 L855.4 3257.6 L855.9 3246.7 L856.4 3235.6 L856.9 3224.2 L857.4 3212.6 L857.9 3200.8 L858.4 3188.9 L858.9 3176.8 L859.4 3164.5 L859.9 3152.4 L860.4 3140.3 L861 3128.2 L861.5 3116.1 L862 3104 L862.5 3091.9 L863 3079.9 L863.5 3068 L864 3056.1 L864.5 3044.4 L865 3032.9 L865.5 3021.5 L866 3010.4 L866.5 2999.5 L867 2989 L867.5 2978.7 L868 2968.7 L868.5 2959.2 L869 2950.1 L869.5 2941.3 L870 2933 L870.5 2925.1 L871 2917.7 L871.6 2910.9 L872.1 2904.5 L872.6 2898.7 L873.1 2893.5 L873.6 2888.9 L874.1 2885 L874.6 2881.7 L875.1 2879.1 L875.6 2877.2 L876.1 2876 L876.6 2875.6 L876.8 2876.1 L877.1 2877.5 L877.3 2879.8 L877.6 2882.9 L877.8 2886.8 L878.1 2891.5 L878.3 2897 L878.6 2903.1 L878.8 2909.9 L879.1 2917.3 L879.3 2925.3 L879.5 2933.8 L879.8 2942.8 L880 2952.3 L880.3 2962.3 L880.5 2972.6 L880.8 2983.3 L881 2994.4 L881.3 3005.8 L881.5 3017.4 L881.8 3029.2 L882 3041.1 L882.2 3053.2 L882.5 3065.4 L882.7 3077.6 L883 3089.7 L883.2 3101.9 L883.5 3114 L883.7 3126 L884 3137.8 L884.2 3149.5 L884.4 3161 L884.7 3172.4 L884.9 3183.6 L885.2 3194.4 L885.4 3204.9 L885.7 3214.9 L885.9 3224.5 L886.2 3233.6 L886.4 3242.2 L886.7 3250.2 L886.9 3257.6 L887.3 3269.3 L887.7 3281.1 L888.1 3293.1 L888.5 3305.3 L888.9 3317.5 L889.3 3329.8 L889.8 3342.2 L890.2 3354.6 L890.6 3366.8 L891 3379 L891.4 3391.2 L891.8 3403.3 L892.2 3415.3 L892.6 3427.3 L893 3439.1 L893.4 3450.8 L893.8 3462.5 L894.2 3474 L894.6 3485.3 L895 3496.3 L895.5 3507.1 L895.9 3517.7 L896.3 3527.9 L896.7 3537.8 L897.1 3547.3 L897.5 3556.5 L897.9 3565.3 L898.3 3573.7 L898.7 3581.6 L899.1 3589.1 L899.5 3596.2 L899.9 3602.7 L900.3 3608.7 L900.7 3614.2 L901.1 3619.1 L901.6 3623.5 L902 3627.2 L902.4 3630.3 L902.8 3632.7 L903.2 3634.5 L903.6 3635.6 L904 3636 L904.5 3635.5 L904.9 3634.3 L905.4 3632.3 L905.9 3629.4 L906.3 3625.9 L906.8 3621.7 L907.2 3616.8 L907.7 3611.2 L908.2 3605 L908.6 3598.3 L909.1 3591 L909.6 3583.2 L910 3574.8 L910.5 3566.1 L911 3556.9 L911.4 3547.3 L911.9 3537.3 L912.4 3527 L912.8 3516.3 L913.3 3505.4 L913.8 3494.2 L914.2 3482.9 L914.7 3471.3 L915.1 3459.6 L915.6 3447.7 L916.1 3435.9 L916.5 3424.1 L917 3412.2 L917.5 3400.3 L917.9 3388.4 L918.4 3376.6 L918.9 3364.9 L919.3 3353.3 L919.8 3341.7 L920.2 3330.2 L920.7 3318.9 L921.2 3307.9 L921.6 3297.2 L922.1 3286.8 L922.6 3276.7 L923 3266.9 L923.5 3257.6 L924 3248.2 L924.4 3238.4 L924.9 3228.1 L925.3 3217.6 L925.8 3206.7 L926.3 3195.5 L926.7 3184.1 L927.2 3172.5 L927.7 3160.6 L928.1 3148.9 L928.6 3137.1 L929 3125.1 L929.5 3113.1 L930 3101.1 L930.4 3089 L930.9 3077 L931.4 3065.1 L931.8 3053.1 L932.3 3041.3 L932.7 3029.7 L933.2 3018.2 L933.7 3007 L934.1 2996 L934.6 2985.2 L935 2974.8 L935.5 2964.8 L936 2955.1 L936.4 2945.9 L936.9 2937.1 L937.4 2928.7 L937.8 2920.9 L938.3 2913.5 L938.7 2906.8 L939.2 2900.6 L939.7 2895 L940.1 2890 L940.6 2885.8 L941.1 2882.2 L941.5 2879.4 L942 2877.3 L942.4 2876.1 L942.9 2875.6 L943.3 2876.1 L943.6 2877.3 L944 2879.4 L944.3 2882.2 L944.7 2885.7 L945 2890 L945.4 2894.9 L945.8 2900.5 L946.1 2906.7 L946.5 2913.4 L946.8 2920.8 L947.2 2928.6 L947.5 2936.9 L947.9 2945.7 L948.3 2955 L948.6 2964.6 L949 2974.6 L949.3 2985 L949.7 2995.7 L950 3006.7 L950.4 3017.9 L950.8 3029.4 L951.1 3041 L951.5 3052.8 L951.8 3064.7 L952.2 3076.7 L952.5 3088.7 L952.9 3100.7 L953.3 3112.8 L953.6 3124.8 L954 3136.7 L954.3 3148.6 L954.7 3160.3 L955 3172.2 L955.4 3183.8 L955.8 3195.3 L956.1 3206.5 L956.5 3217.4 L956.8 3228 L957.2 3238.3 L957.5 3248.1 L957.9 3257.6 L958.3 3266.9 L958.6 3276.6 L959 3286.6 L959.3 3297 L959.7 3307.7 L960 3318.7 L960.4 3329.9 L960.7 3341.4 L961.1 3353 L961.4 3364.6 L961.8 3376.3 L962.2 3388.1 L962.5 3400 L962.9 3411.8 L963.2 3423.7 L963.6 3435.6 L963.9 3447.4 L964.3 3459.2 L964.6 3471 L965 3482.6 L965.3 3494 L965.7 3505.1 L966.1 3516.1 L966.4 3526.7 L966.8 3537.1 L967.1 3547.1 L967.5 3556.7 L967.8 3565.9 L968.2 3574.7 L968.5 3583 L968.9 3590.9 L969.3 3598.2 L969.6 3604.9 L970 3611.1 L970.3 3616.7 L970.7 3621.6 L971 3625.9 L971.4 3629.4 L971.7 3632.2 L972.1 3634.3 L972.4 3635.5 L972.8 3636 L973.1 3635.5 L973.4 3634.3 L973.8 3632.2 L974.1 3629.4 L974.4 3625.9 L974.7 3621.6 L975 3616.7 L975.3 3611.2 L975.6 3605 L976 3598.2 L976.3 3590.9 L976.6 3583.1 L976.9 3574.8 L977.2 3566 L977.5 3556.8 L977.9 3547.2 L978.2 3537.2 L978.5 3526.9 L978.8 3516.2 L979.1 3505.3 L979.5 3494.1 L979.8 3482.7 L980.1 3471.1 L980.4 3459.4 L980.7 3447.6 L981 3435.8 L981.4 3423.9 L981.7 3412 L982 3400.1 L982.3 3388.3 L982.6 3376.5 L982.9 3364.8 L983.2 3353.2 L983.6 3341.5 L983.9 3330.1 L984.2 3318.8 L984.5 3307.8 L984.8 3297.1 L985.1 3286.7 L985.5 3276.6 L985.8 3266.9 L986.1 3257.6 L986.4 3248.2 L986.7 3238.3 L987.1 3228.1 L987.4 3217.5 L987.7 3206.6 L988 3195.4 L988.3 3184 L988.6 3172.3 L989 3160.5 L989.3 3148.8 L989.6 3136.9 L989.9 3125 L990.2 3113 L990.5 3100.9 L990.9 3088.9 L991.2 3076.9 L991.5 3064.9 L991.8 3053 L992.1 3041.2 L992.4 3029.5 L992.8 3018.1 L993.1 3006.8 L993.4 2995.8 L993.7 2985.1 L994 2974.7 L994.3 2964.7 L994.6 2955.1 L995 2945.8 L995.3 2937 L995.6 2928.7 L995.9 2920.8 L996.2 2913.5 L996.5 2906.7 L996.9 2900.5 L997.2 2894.9 L997.5 2890 L997.8 2885.7 L998.1 2882.2 L998.4 2879.4 L998.8 2877.3 L999.1 2876.1 L999.4 2875.6 L999.8 2876.1 L1000.3 2877.3 L1000.7 2879.3 L1001.1 2882 L1001.6 2885.4 L1002 2889.6 L1002.4 2894.4 L1002.8 2899.8 L1003.3 2905.9 L1003.7 2912.5 L1004.1 2919.6 L1004.6 2927.3 L1005 2935.4 L1005.4 2944.1 L1005.9 2953.1 L1006.3 2962.5 L1006.7 2972.4 L1007.2 2982.6 L1007.6 2993.2 L1008 3004 L1008.5 3015.1 L1008.9 3026.4 L1009.3 3037.9 L1009.7 3049.6 L1010.2 3061.5 L1010.6 3073.4 L1011 3085.4 L1011.5 3097.4 L1011.9 3109.4 L1012.3 3121.5 L1012.8 3133.5 L1013.2 3145.5 L1013.6 3157.4 L1014.1 3169.3 L1014.5 3181.2 L1014.9 3192.9 L1015.3 3204.3 L1015.8 3215.6 L1016.2 3226.6 L1016.6 3237.3 L1017.1 3247.6 L1017.5 3257.6 L1017.9 3266.4 L1018.3 3275.6 L1018.6 3285.3 L1019 3295.3 L1019.4 3305.7 L1019.8 3316.4 L1020.2 3327.4 L1020.5 3338.7 L1020.9 3350.1 L1021.3 3361.6 L1021.7 3373.3 L1022.1 3385 L1022.5 3396.8 L1022.8 3408.7 L1023.2 3420.6 L1023.6 3432.5 L1024 3444.3 L1024.4 3456.2 L1024.7 3468 L1025.1 3479.7 L1025.5 3491.2 L1025.9 3502.6 L1026.3 3513.6 L1026.6 3524.5 L1027 3535 L1027.4 3545.1 L1027.8 3554.9 L1028.2 3564.3 L1028.5 3573.3 L1028.9 3581.8 L1029.3 3589.8 L1029.7 3597.2 L1030.1 3604.2 L1030.5 3610.5 L1030.8 3616.2 L1031.2 3621.2 L1031.6 3625.6 L1032 3629.3 L1032.4 3632.1 L1032.7 3634.2 L1033.1 3635.5 L1033.5 3636 L1033.9 3635.6 L1034.3 3634.4 L1034.8 3632.4 L1035.2 3629.7 L1035.6 3626.3 L1036 3622.3 L1036.4 3617.5 L1036.8 3612.2 L1037.2 3606.3 L1037.7 3599.8 L1038.1 3592.7 L1038.5 3585.2 L1038.9 3577.1 L1039.3 3568.6 L1039.8 3559.7 L1040.2 3550.4 L1040.6 3540.7 L1041 3530.6 L1041.4 3520.2 L1041.8 3509.5 L1042.2 3498.5 L1042.7 3487.4 L1043.1 3476 L1043.5 3464.4 L1043.9 3452.7 L1044.3 3440.9 L1044.8 3429.1 L1045.2 3417.2 L1045.6 3405.3 L1046 3393.4 L1046.4 3381.5 L1046.8 3369.6 L1047.2 3357.8 L1047.7 3346 L1048.1 3334.2 L1048.5 3322.6 L1048.9 3311.1 L1049.3 3299.9 L1049.8 3288.9 L1050.2 3278.2 L1050.6 3267.7 L1051 3257.6 L1051.3 3248.9 L1051.7 3239.8 L1052 3230.2 L1052.4 3220.2 L1052.7 3209.8 L1053.1 3199 L1053.4 3187.9 L1053.8 3176.6 L1054.1 3165 L1054.5 3153.4 L1054.8 3141.7 L1055.2 3129.8 L1055.5 3117.9 L1055.9 3105.9 L1056.2 3093.8 L1056.6 3081.7 L1056.9 3069.7 L1057.3 3057.7 L1057.6 3045.7 L1058 3033.9 L1058.3 3022.3 L1058.6 3010.8 L1059 2999.6 L1059.3 2988.6 L1059.7 2978 L1060 2967.7 L1060.4 2957.8 L1060.7 2948.3 L1061.1 2939.2 L1061.4 2930.6 L1061.8 2922.5 L1062.1 2914.9 L1062.5 2907.9 L1062.8 2901.5 L1063.2 2895.7 L1063.5 2890.6 L1063.9 2886.2 L1064.2 2882.5 L1064.6 2879.5 L1064.9 2877.4 L1065.3 2876.1 L1065.6 2875.6 L1066 2876 L1066.4 2877.2 L1066.8 2879.1 L1067.2 2881.7 L1067.6 2885 L1067.9 2889 L1068.3 2893.6 L1068.7 2898.8 L1069.1 2904.6 L1069.5 2911 L1069.9 2917.9 L1070.3 2925.3 L1070.7 2933.1 L1071.1 2941.5 L1071.5 2950.2 L1071.8 2959.4 L1072.2 2969 L1072.6 2978.9 L1073 2989.2 L1073.4 2999.8 L1073.8 3010.7 L1074.2 3021.8 L1074.6 3033.2 L1075 3044.7 L1075.4 3056.4 L1075.8 3068.3 L1076.1 3080.2 L1076.5 3092.2 L1076.9 3104.3 L1077.3 3116.4 L1077.7 3128.5 L1078.1 3140.6 L1078.5 3152.7 L1078.9 3164.8 L1079.3 3177 L1079.7 3189.1 L1080 3201 L1080.4 3212.8 L1080.8 3224.4 L1081.2 3235.7 L1081.6 3246.8 L1082 3257.6 L1082.3 3265.7 L1082.6 3274.3 L1082.9 3283.4 L1083.2 3292.9 L1083.5 3302.9 L1083.7 3313.2 L1084 3323.9 L1084.3 3334.8 L1084.6 3346.1 L1084.9 3357.5 L1085.2 3369 L1085.5 3380.6 L1085.8 3392.4 L1086.1 3404.2 L1086.4 3416.1 L1086.6 3428.1 L1086.9 3440 L1087.2 3451.9 L1087.5 3463.9 L1087.8 3475.7 L1088.1 3487.4 L1088.4 3498.9 L1088.7 3510.2 L1089 3521.3 L1089.3 3532 L1089.6 3542.4 L1089.8 3552.4 L1090.1 3562.1 L1090.4 3571.3 L1090.7 3580 L1091 3588.2 L1091.3 3595.9 L1091.6 3603.1 L1091.9 3609.6 L1092.2 3615.5 L1092.5 3620.7 L1092.7 3625.2 L1093 3629 L1093.3 3632 L1093.6 3634.2 L1093.9 3635.5 L1094.2 3636 L1094.6 3635.6 L1094.9 3634.4 L1095.3 3632.4 L1095.6 3629.7 L1096 3626.3 L1096.3 3622.2 L1096.7 3617.5 L1097 3612.1 L1097.4 3606.1 L1097.7 3599.6 L1098.1 3592.5 L1098.4 3584.9 L1098.8 3576.8 L1099.1 3568.3 L1099.5 3559.4 L1099.8 3550 L1100.2 3540.3 L1100.5 3530.2 L1100.9 3519.7 L1101.2 3509 L1101.6 3498 L1102 3486.8 L1102.3 3475.4 L1102.7 3463.8 L1103 3452.1 L1103.4 3440.3 L1103.7 3428.5 L1104.1 3416.6 L1104.4 3404.7 L1104.8 3392.8 L1105.1 3380.9 L1105.5 3369.1 L1105.8 3357.3 L1106.2 3345.5 L1106.5 3333.7 L1106.9 3322.2 L1107.2 3310.8 L1107.6 3299.6 L1107.9 3288.6 L1108.3 3278 L1108.6 3267.6 L1109 3257.6 L1109.3 3249.1 L1109.6 3240.5 L1109.9 3231.9 L1110.2 3223.3 L1110.5 3214.6 L1110.8 3205.9 L1111.1 3197.1 L1111.4 3188.3 L1111.7 3179.5 L1112 3170.6 L1112.3 3161.7 L1112.6 3153 L1112.9 3144.2 L1113.2 3135.4 L1113.5 3126.6 L1113.8 3117.7 L1114.1 3108.8 L1114.4 3099.8 L1114.7 3090.9 L1115 3081.9 L1115.3 3072.8 L1115.6 3063.7 L1115.9 3054.6 L1116.2 3045.4 L1116.5 3036.2 L1116.8 3026.9 L1117.1 3017.6 L1117.4 3008.3 L1117.7 2999 L1118 2989.6 L1118.3 2980.2 L1118.6 2970.8 L1118.9 2961.4 L1119.2 2952 L1119.5 2942.5 L1119.8 2933.1 L1120.1 2923.6 L1120.4 2914 L1120.7 2904.5 L1121 2894.9 L1121.3 2885.3 L1121.6 2875.6"/>
<path stroke="#0000ff" d="M416.3 3112.8 L417.8 3108.7 L419.4 3104.8 L420.9 3101.1 L422.4 3097.5 L423.9 3094 L425.5 3090.6 L427 3087.3 L428.6 3084.1 L430.2 3081 L431.7 3078.1 L433.3 3075.2 L434.9 3072.5 L436.5 3069.8 L438 3067.3 L439.6 3064.8 L441.2 3062.4 L442.8 3060.2 L444.3 3058.2 L445.9 3056.4 L447.5 3054.7 L449.1 3053 L450.6 3051.1 L452.2 3048.9 L453.8 3046.7 L455.4 3044 L456.9 3039.4 L457.9 3031.5 L458.8 3018.7 L459.3 3010.8 L459.8 3001.2 L460.2 2990.9 L460.7 2981 L461.2 2971.4 L461.6 2961.7 L462.1 2952 L462.6 2942.5 L463.1 2933.4 L463.5 2924.7 L464.2 2911.7 L465 2898.7 L465.7 2887.5 L466.4 2879.8 L468.3 2866.9 L470.1 2861.3 L471.6 2866.7 L473 2879.8 L473.4 2886.6 L473.9 2896.7 L474.4 2909.6 L474.9 2924.7 L475 2930.6 L475.2 2937.5 L475.3 2945.3 L475.5 2953.8 L475.7 2963.1 L475.8 2972.9 L476 2983.2 L476.1 2993.8 L476.3 3004.7 L476.4 3015.7 L476.6 3026.7 L476.8 3037.6 L476.9 3045.9 L477 3054.6 L477.1 3063.8 L477.2 3073.2 L477.3 3082.8 L477.5 3092.7 L477.6 3102.6 L477.7 3112.6 L477.8 3122.7 L477.9 3132.6 L478.1 3142.5 L478.2 3152.2 L478.3 3161.6 L478.4 3171 L478.5 3179.9 L478.6 3188.5 L478.8 3199.6 L479 3211 L479.1 3222.5 L479.3 3234.3 L479.4 3246.1 L479.6 3258.1 L479.7 3270 L479.9 3282 L480.1 3294.2 L480.2 3306.3 L480.4 3318.5 L480.5 3330.7 L480.7 3343 L480.8 3355.2 L481 3367.1 L481.2 3379.1 L481.3 3390.9 L481.5 3402.7 L481.6 3414.4 L481.8 3426 L481.9 3437.5 L482.1 3448.8 L482.3 3460.1 L482.4 3471.2 L482.6 3482.1 L482.7 3492.8 L482.9 3503.2 L483 3513.4 L483.2 3523.4 L483.4 3533 L483.5 3542.4 L483.7 3551.4 L483.8 3560 L484 3568.3 L484.1 3576.3 L484.3 3583.8 L484.5 3591 L484.6 3597.7 L484.8 3604 L484.9 3609.8 L485.1 3615.1 L485.2 3620 L485.4 3624.4 L485.6 3628.2 L485.7 3631.5 L485.9 3634.2 L486 3636.4 L486.2 3637.9 L486.3 3638.9 L486.5 3639.2 L486.7 3638.8 L487 3637.7 L487.2 3635.9 L487.5 3633.4 L487.7 3630.2 L487.9 3626.4 L488.2 3621.9 L488.4 3616.9 L488.7 3611.3 L488.9 3605.1 L489.1 3598.3 L489.4 3591.1 L489.6 3583.3 L489.9 3575.1 L490.1 3566.4 L490.3 3557.3 L490.6 3547.7 L490.8 3537.8 L491.1 3527.5 L491.3 3516.8 L491.5 3505.8 L491.8 3494.5 L492 3482.9 L492.3 3471 L492.5 3458.9 L492.7 3446.6 L493 3434.2 L493.2 3421.6 L493.5 3408.9 L493.7 3396.1 L494 3383.1 L494.2 3370 L494.4 3356.9 L494.7 3343.6 L494.9 3330.1 L495.2 3316.7 L495.4 3303.2 L495.6 3289.8 L495.8 3282.9 L495.9 3275.7 L496 3268 L496.1 3260 L496.2 3251.4 L496.4 3242.3 L496.5 3232.6 L496.6 3222.5 L496.7 3211.7 L496.8 3200.4 L497 3188.5 L497 3180.3 L497.1 3170.6 L497.2 3160.1 L497.2 3149.3 L497.3 3138.6 L497.4 3128.6 L497.5 3119.8 L497.5 3112.8 L497.7 3099.7 L497.8 3087.6 L498 3076.8 L498.2 3067.7 L498.3 3060.8 L498.5 3056.4 L499.4 3043.8 L500.4 3037.6 L501.9 3030.8 L503.5 3026.2 L505.1 3022.5 L506.6 3019.1 L508.1 3016 L509.6 3013.3 L511.1 3011.1 L512.6 3009.3 L514.5 3007.4 L516.4 3005.9 L518.3 3005.1 L519.8 3004.9 L521.3 3004.9 L522.8 3004.8 L524.3 3004.7 L525.8 3004.5 L527.4 3004.1 L528.9 3003.2 L530.4 3002.1 L531.9 3000.9 L533.4 2999.8 L535.1 2998.8 L536.7 2997.9 L538.4 2996.7 L540 2995.1 L541.4 2992.9 L542.8 2988.5 L543.8 2977.5 L544.7 2962.2 L545.4 2952.5 L546.1 2942.8 L546.9 2933.4 L547.6 2924.7 L548.5 2913.2 L549.4 2901.7 L550.4 2891.9 L551.3 2885.4 L553.2 2877.6 L555.1 2874.2 L555.5 2874.6 L555.9 2875.8 L556.3 2877.8 L556.7 2880.5 L557.1 2884 L557.4 2888.1 L557.8 2892.9 L558.2 2898.4 L558.6 2904.4 L559 2911.1 L559.4 2918.2 L559.8 2925.9 L560.2 2934.1 L560.5 2942.7 L560.9 2951.8 L561.3 2961.3 L561.7 2971.1 L562.1 2981.3 L562.5 2991.9 L562.9 3002.8 L563.3 3013.9 L563.6 3025.3 L564 3036.8 L564.4 3048.6 L564.8 3060.5 L565.2 3072.4 L565.6 3084.4 L566 3096.5 L566.4 3108.6 L566.7 3120.7 L567.1 3132.8 L567.5 3144.8 L567.9 3156.7 L568.3 3168.7 L568.7 3180.7 L569.1 3192.4 L569.5 3204 L569.8 3215.3 L570.2 3226.3 L570.6 3237.1 L571 3247.5 L571.4 3257.6 L571.7 3266.4 L572.1 3275.7 L572.4 3285.4 L572.8 3295.4 L573.1 3305.9 L573.4 3316.6 L573.8 3327.7 L574.1 3339 L574.5 3350.5 L574.8 3362.1 L575.1 3373.7 L575.5 3385.5 L575.8 3397.4 L576.2 3409.4 L576.5 3421.3 L576.8 3433.3 L577.2 3445.2 L577.5 3457.2 L577.9 3469.1 L578.2 3480.9 L578.5 3492.5 L578.9 3503.9 L579.2 3515.1 L579.6 3526 L579.9 3536.5 L580.3 3546.8 L580.6 3556.6 L580.9 3566.1 L581.3 3575.1 L581.6 3583.7 L582 3591.8 L582.3 3599.3 L582.6 3606.3 L583 3612.6 L583.3 3618.4 L583.7 3623.5 L584 3627.9 L584.3 3631.6 L584.7 3634.5 L585 3636.6 L585.4 3637.9 L585.7 3638.3 L586.1 3637.9 L586.5 3636.6 L587 3634.4 L587.4 3631.4 L587.8 3627.7 L588.2 3623.2 L588.7 3618 L589.1 3612.1 L589.5 3605.6 L589.9 3598.5 L590.4 3590.8 L590.8 3582.6 L591.2 3573.9 L591.6 3564.7 L592.1 3555.1 L592.5 3545.1 L592.9 3534.7 L593.3 3524 L593.8 3512.9 L594.2 3501.7 L594.6 3490.1 L595 3478.4 L595.4 3466.6 L595.9 3454.6 L596.3 3442.6 L596.7 3430.6 L597.1 3418.6 L597.6 3406.6 L598 3394.7 L598.4 3382.8 L598.8 3371.1 L599.3 3359.5 L599.7 3348 L600.1 3336.6 L600.5 3325.5 L601 3314.6 L601.4 3304.1 L601.8 3293.9 L602.2 3284.2 L602.6 3274.8 L603.1 3266 L603.5 3257.6 L604 3247 L604.6 3236.2 L605.1 3225 L605.6 3213.6 L606.2 3202 L606.7 3190.2 L607.2 3178.2 L607.8 3166 L608.3 3154 L608.9 3141.9 L609.4 3129.8 L609.9 3117.7 L610.5 3105.5 L611 3093.4 L611.5 3081.4 L612.1 3069.4 L612.6 3057.5 L613.1 3045.7 L613.7 3034 L614.2 3022.6 L614.7 3011.4 L615.3 3000.4 L615.8 2989.6 L616.4 2979.2 L616.9 2969.1 L617.4 2959.5 L618 2950.2 L618.5 2941.3 L619 2932.8 L619.6 2924.8 L620.1 2917.3 L620.6 2910.3 L621.2 2903.8 L621.7 2897.9 L622.2 2892.6 L622.8 2887.9 L623.3 2883.9 L623.9 2880.5 L624.4 2877.8 L624.9 2875.9 L625.5 2874.7 L626 2874.3 L626.3 2874.8 L626.6 2876.1 L627 2878.2 L627.3 2881.1 L627.6 2884.8 L627.9 2889.2 L628.3 2894.3 L628.6 2900 L628.9 2906.4 L629.2 2913.4 L629.5 2920.9 L629.9 2929 L630.2 2937.6 L630.5 2946.6 L630.8 2956.1 L631.1 2966 L631.5 2976.2 L631.8 2986.8 L632.1 2997.8 L632.4 3009 L632.8 3020.4 L633.1 3032.1 L633.4 3043.9 L633.7 3055.8 L634 3067.9 L634.4 3080 L634.7 3092 L635 3104.1 L635.3 3116.2 L635.6 3128.2 L636 3140.1 L636.3 3151.9 L636.6 3163.6 L636.9 3175.3 L637.3 3186.7 L637.6 3197.9 L637.9 3208.8 L638.2 3219.4 L638.5 3229.6 L638.9 3239.4 L639.2 3248.7 L639.5 3257.6 L639.9 3267.6 L640.2 3277.9 L640.6 3288.5 L641 3299.4 L641.4 3310.5 L641.7 3321.9 L642.1 3333.5 L642.5 3345.3 L642.8 3357.1 L643.2 3368.9 L643.6 3380.7 L643.9 3392.7 L644.3 3404.6 L644.7 3416.6 L645 3428.5 L645.4 3440.4 L645.8 3452.2 L646.1 3464 L646.5 3475.7 L646.9 3487.2 L647.3 3498.5 L647.6 3509.6 L648 3520.4 L648.4 3530.9 L648.7 3541.1 L649.1 3550.9 L649.5 3560.3 L649.8 3569.3 L650.2 3578 L650.6 3586.1 L650.9 3593.8 L651.3 3600.9 L651.7 3607.5 L652 3613.5 L652.4 3619 L652.8 3623.7 L653.2 3627.9 L653.5 3631.3 L653.9 3634.1 L654.3 3636 L654.6 3637.3 L655 3637.7 L655.4 3637.3 L655.7 3636 L656.1 3634 L656.5 3631.3 L656.8 3627.8 L657.2 3623.6 L657.6 3618.8 L657.9 3613.3 L658.3 3607.2 L658.7 3600.5 L659 3593.3 L659.4 3585.6 L659.7 3577.4 L660.1 3568.7 L660.5 3559.6 L660.8 3550.1 L661.2 3540.2 L661.6 3530 L661.9 3519.4 L662.3 3508.6 L662.7 3497.5 L663 3486.1 L663.4 3474.6 L663.8 3462.9 L664.1 3451 L664.5 3439.2 L664.9 3427.3 L665.2 3415.4 L665.6 3403.4 L666 3391.5 L666.3 3379.6 L666.7 3367.7 L667 3356 L667.4 3344.2 L667.8 3332.5 L668.1 3321 L668.5 3309.8 L668.9 3298.7 L669.2 3288 L669.6 3277.5 L670 3267.4 L670.3 3257.6 L670.7 3248.6 L671 3239.1 L671.3 3229.2 L671.7 3219 L672 3208.4 L672.3 3197.4 L672.6 3186.2 L673 3174.7 L673.3 3163.1 L673.6 3151.4 L674 3139.7 L674.3 3127.8 L674.6 3115.8 L675 3103.8 L675.3 3091.8 L675.6 3079.8 L675.9 3067.8 L676.3 3055.9 L676.6 3044 L676.9 3032.3 L677.3 3020.8 L677.6 3009.4 L677.9 2998.3 L678.3 2987.5 L678.6 2977 L678.9 2966.8 L679.2 2957.1 L679.6 2947.7 L679.9 2938.8 L680.2 2930.3 L680.6 2922.4 L680.9 2914.9 L681.2 2908 L681.6 2901.7 L681.9 2896.1 L682.2 2891 L682.5 2886.7 L682.9 2883.1 L683.2 2880.2 L683.5 2878.1 L683.9 2876.8 L684.2 2876.4 L684.7 2876.8 L685.2 2878.1 L685.6 2880.1 L686.1 2882.9 L686.6 2886.4 L687.1 2890.6 L687.6 2895.5 L688 2901 L688.5 2907.1 L689 2913.8 L689.5 2921.1 L690 2928.8 L690.4 2937.1 L690.9 2945.8 L691.4 2954.9 L691.9 2964.5 L692.4 2974.4 L692.9 2984.7 L693.3 2995.4 L693.8 3006.3 L694.3 3017.5 L694.8 3028.9 L695.3 3040.4 L695.7 3052.2 L696.2 3064 L696.7 3076 L697.2 3087.9 L697.7 3099.9 L698.1 3112 L698.6 3124 L699.1 3135.9 L699.6 3147.8 L700.1 3159.5 L700.5 3171.4 L701 3183.1 L701.5 3194.6 L702 3205.9 L702.5 3216.9 L702.9 3227.6 L703.4 3238 L703.9 3248 L704.4 3257.6 L704.8 3266.7 L705.3 3276.3 L705.8 3286.2 L706.2 3296.4 L706.7 3307 L707.2 3317.9 L707.6 3329 L708.1 3340.4 L708.5 3351.9 L709 3363.5 L709.5 3375.1 L709.9 3386.9 L710.4 3398.7 L710.8 3410.6 L711.3 3422.5 L711.8 3434.4 L712.2 3446.3 L712.7 3458.2 L713.1 3470.1 L713.6 3481.8 L714.1 3493.3 L714.5 3504.7 L715 3515.8 L715.4 3526.7 L715.9 3537.3 L716.4 3547.6 L716.8 3557.5 L717.3 3567 L717.7 3576.2 L718.2 3584.9 L718.7 3593.2 L719.1 3600.9 L719.6 3608.2 L720.1 3614.9 L720.5 3621 L721 3626.5 L721.4 3631.4 L721.9 3635.6 L722.4 3639.1 L722.8 3641.9 L723.3 3643.9 L723.7 3645.2 L724.2 3645.6 L724.5 3645.2 L724.8 3643.8 L725.1 3641.6 L725.3 3638.6 L725.6 3634.9 L725.9 3630.4 L726.2 3625.1 L726.5 3619.2 L726.8 3612.7 L727 3605.6 L727.3 3597.9 L727.6 3589.6 L727.9 3580.9 L728.2 3571.7 L728.5 3562 L728.7 3552 L729 3541.6 L729.3 3530.8 L729.6 3519.8 L729.9 3508.5 L730.2 3496.9 L730.4 3485.2 L730.7 3473.3 L731 3461.3 L731.3 3449.3 L731.6 3437.2 L731.9 3425.3 L732.1 3413.3 L732.4 3401.4 L732.7 3389.5 L733 3377.8 L733.3 3366.3 L733.6 3354.9 L733.8 3343.6 L734.1 3332.5 L734.4 3321.7 L734.7 3311.3 L735 3301.2 L735.3 3291.5 L735.5 3282.3 L735.8 3273.6 L736.1 3265.3 L736.4 3257.6 L736.8 3246.3 L737.2 3234.9 L737.6 3223.2 L738.1 3211.3 L738.5 3199.3 L738.9 3187.1 L739.3 3174.8 L739.7 3162.5 L740.2 3150.3 L740.6 3138.1 L741 3126 L741.4 3113.8 L741.8 3101.7 L742.3 3089.6 L742.7 3077.7 L743.1 3065.8 L743.5 3054 L743.9 3042.4 L744.4 3031 L744.8 3019.8 L745.2 3008.8 L745.6 2998.1 L746 2987.7 L746.5 2977.6 L746.9 2967.8 L747.3 2958.4 L747.7 2949.5 L748.1 2940.9 L748.5 2932.7 L749 2925 L749.4 2917.8 L749.8 2911.1 L750.2 2904.9 L750.6 2899.3 L751.1 2894.2 L751.5 2889.7 L751.9 2885.9 L752.3 2882.7 L752.7 2880.1 L753.2 2878.3 L753.6 2877.2 L754 2876.8 L754.3 2877.2 L754.7 2878.4 L755 2880.4 L755.4 2883.2 L755.7 2886.6 L756.1 2890.8 L756.4 2895.6 L756.7 2901.1 L757.1 2907.2 L757.4 2913.8 L757.8 2921 L758.1 2928.7 L758.5 2936.9 L758.8 2945.5 L759.1 2954.6 L759.5 2964.1 L759.8 2974 L760.2 2984.2 L760.5 2994.8 L760.9 3005.7 L761.2 3016.8 L761.5 3028.1 L761.9 3039.6 L762.2 3051.3 L762.6 3063.2 L762.9 3075 L763.2 3087 L763.6 3099 L763.9 3111 L764.3 3123 L764.6 3135 L765 3146.9 L765.3 3158.7 L765.6 3170.5 L766 3182.3 L766.3 3193.9 L766.7 3205.2 L767 3216.3 L767.4 3227.1 L767.7 3237.6 L768 3247.8 L768.4 3257.6 L768.7 3266.6 L769 3276 L769.3 3285.8 L769.7 3296 L770 3306.6 L770.3 3317.4 L770.6 3328.5 L770.9 3339.9 L771.2 3351.4 L771.6 3363 L771.9 3374.7 L772.2 3386.5 L772.5 3398.4 L772.8 3410.3 L773.1 3422.2 L773.5 3434.1 L773.8 3446 L774.1 3458 L774.4 3469.8 L774.7 3481.5 L775 3493 L775.4 3504.3 L775.7 3515.4 L776 3526.2 L776.3 3536.7 L776.6 3546.9 L776.9 3556.6 L777.3 3566 L777.6 3574.9 L777.9 3583.4 L778.2 3591.4 L778.5 3598.8 L778.8 3605.7 L779.2 3612 L779.5 3617.7 L779.8 3622.8 L780.1 3627.1 L780.4 3630.7 L780.7 3633.6 L781.1 3635.7 L781.4 3637 L781.7 3637.4 L782.1 3637 L782.5 3635.8 L782.9 3633.9 L783.3 3631.3 L783.7 3628 L784.1 3624 L784.5 3619.3 L784.9 3614.1 L785.3 3608.3 L785.7 3601.9 L786.1 3594.9 L786.5 3587.5 L786.9 3579.6 L787.3 3571.2 L787.7 3562.4 L788.1 3553.2 L788.5 3543.6 L788.9 3533.6 L789.3 3523.3 L789.7 3512.7 L790.1 3501.8 L790.5 3490.7 L790.9 3479.4 L791.3 3467.8 L791.7 3456.1 L792.1 3444.3 L792.5 3432.5 L792.9 3420.6 L793.3 3408.6 L793.7 3396.6 L794 3384.6 L794.4 3372.6 L794.8 3360.7 L795.2 3348.7 L795.6 3336.7 L796 3324.8 L796.4 3313.1 L796.8 3301.5 L797.2 3290.2 L797.6 3279.1 L798 3268.2 L798.4 3257.6 L798.7 3249.3 L799 3240.5 L799.3 3231.2 L799.6 3221.5 L799.9 3211.3 L800.2 3200.8 L800.5 3189.9 L800.8 3178.7 L801.1 3167.3 L801.4 3155.7 L801.7 3144.1 L802.1 3132.3 L802.4 3120.4 L802.7 3108.4 L803 3096.3 L803.3 3084.2 L803.6 3072.2 L803.9 3060.1 L804.2 3048.1 L804.5 3036.2 L804.8 3024.5 L805.1 3012.9 L805.4 3001.6 L805.7 2990.5 L806 2979.8 L806.3 2969.3 L806.6 2959.3 L806.9 2949.7 L807.2 2940.5 L807.5 2931.8 L807.8 2923.6 L808.1 2915.9 L808.4 2908.8 L808.7 2902.2 L809 2896.4 L809.3 2891.1 L809.6 2886.6 L809.9 2882.9 L810.2 2879.9 L810.5 2877.7 L810.8 2876.4 L811.1 2875.9 L811.6 2876.3 L812.1 2877.6 L812.6 2879.6 L813.1 2882.3 L813.6 2885.8 L814 2889.9 L814.5 2894.8 L815 2900.2 L815.5 2906.3 L816 2912.9 L816.5 2920.1 L817 2927.8 L817.5 2936 L818 2944.6 L818.5 2953.7 L818.9 2963.2 L819.4 2973 L819.9 2983.3 L820.4 2993.9 L820.9 3004.7 L821.4 3015.8 L821.9 3027.2 L822.4 3038.7 L822.9 3050.4 L823.4 3062.3 L823.9 3074.2 L824.3 3086.2 L824.8 3098.2 L825.3 3110.2 L825.8 3122.3 L826.3 3134.3 L826.8 3146.2 L827.3 3158 L827.8 3169.9 L828.3 3181.8 L828.8 3193.4 L829.3 3204.8 L829.7 3216 L830.2 3226.9 L830.7 3237.5 L831.2 3247.7 L831.7 3257.6 L832.1 3266.5 L832.6 3275.8 L833 3285.5 L833.5 3295.6 L833.9 3306 L834.4 3316.7 L834.8 3327.7 L835.3 3339 L835.7 3350.4 L836.1 3361.9 L836.6 3373.5 L837 3385.2 L837.5 3397 L837.9 3408.9 L838.4 3420.8 L838.8 3432.7 L839.3 3444.6 L839.7 3456.5 L840.1 3468.4 L840.6 3480.1 L841 3491.7 L841.5 3503.1 L841.9 3514.3 L842.4 3525.2 L842.8 3535.9 L843.3 3546.2 L843.7 3556.2 L844.1 3565.8 L844.6 3575 L845 3583.8 L845.5 3592.1 L845.9 3600 L846.4 3607.3 L846.8 3614.1 L847.2 3620.2 L847.7 3625.8 L848.1 3630.7 L848.6 3635 L849 3638.5 L849.5 3641.4 L849.9 3643.4 L850.4 3644.7 L850.8 3645.1 L851.1 3644.6 L851.4 3643.3 L851.7 3641.2 L852 3638.3 L852.3 3634.6 L852.6 3630.3 L852.9 3625.2 L853.2 3619.4 L853.5 3613.1 L853.8 3606.1 L854.1 3598.6 L854.4 3590.6 L854.7 3582 L855 3573 L855.3 3563.6 L855.6 3553.8 L855.9 3543.6 L856.2 3533 L856.5 3522.2 L856.8 3511 L857.1 3499.7 L857.4 3488.1 L857.7 3476.4 L858 3464.5 L858.3 3452.5 L858.6 3440.6 L858.9 3428.6 L859.2 3416.7 L859.5 3404.8 L859.8 3393 L860.1 3381.2 L860.4 3369.6 L860.7 3358.1 L861 3346.8 L861.3 3335.5 L861.6 3324.5 L861.9 3313.8 L862.2 3303.4 L862.5 3293.4 L862.8 3283.8 L863.1 3274.6 L863.4 3265.9 L863.7 3257.6 L864.1 3247 L864.5 3236.2 L864.9 3225 L865.2 3213.6 L865.6 3202 L866 3190.2 L866.4 3178.3 L866.8 3166.2 L867.2 3154.1 L867.6 3142.1 L867.9 3130.1 L868.3 3118 L868.7 3105.9 L869.1 3093.9 L869.5 3081.9 L869.9 3070 L870.3 3058.1 L870.6 3046.4 L871 3034.8 L871.4 3023.5 L871.8 3012.3 L872.2 3001.4 L872.6 2990.8 L873 2980.4 L873.3 2970.4 L873.7 2960.8 L874.1 2951.6 L874.5 2942.8 L874.9 2934.4 L875.3 2926.4 L875.7 2919 L876 2912 L876.4 2905.6 L876.8 2899.8 L877.2 2894.5 L877.6 2889.9 L878 2885.9 L878.4 2882.5 L878.7 2879.9 L879.1 2878 L879.5 2876.8 L879.9 2876.4 L880.3 2876.8 L880.7 2878 L881 2879.9 L881.4 2882.5 L881.8 2885.9 L882.2 2889.9 L882.5 2894.5 L882.9 2899.8 L883.3 2905.6 L883.7 2912.1 L884 2919 L884.4 2926.5 L884.8 2934.4 L885.2 2942.8 L885.5 2951.6 L885.9 2960.8 L886.3 2970.4 L886.7 2980.5 L887 2990.8 L887.4 3001.5 L887.8 3012.4 L888.2 3023.5 L888.6 3034.9 L888.9 3046.5 L889.3 3058.2 L889.7 3070 L890.1 3081.9 L890.4 3093.9 L890.8 3106 L891.2 3118.1 L891.6 3130.1 L891.9 3142.2 L892.3 3154.2 L892.7 3166.2 L893.1 3178.3 L893.4 3190.3 L893.8 3202 L894.2 3213.6 L894.6 3225 L895 3236.2 L895.3 3247 L895.7 3257.6 L896 3265.9 L896.3 3274.7 L896.6 3284 L896.9 3293.7 L897.2 3303.9 L897.5 3314.3 L897.8 3325.2 L898.1 3336.3 L898.4 3347.6 L898.7 3359.1 L899 3370.7 L899.2 3382.4 L899.5 3394.2 L899.8 3406.2 L900.1 3418.1 L900.4 3430.1 L900.7 3442.1 L901 3454.1 L901.3 3466.1 L901.6 3478 L901.9 3489.7 L902.2 3501.2 L902.5 3512.5 L902.8 3523.5 L903.1 3534.3 L903.4 3544.7 L903.7 3554.7 L904 3564.3 L904.3 3573.5 L904.6 3582.2 L904.9 3590.5 L905.1 3598.1 L905.4 3605.3 L905.7 3611.8 L906 3617.7 L906.3 3622.9 L906.6 3627.4 L906.9 3631.1 L907.2 3634.1 L907.5 3636.3 L907.8 3637.6 L908.1 3638.1 L908.5 3637.6 L908.8 3636.4 L909.2 3634.4 L909.6 3631.6 L909.9 3628.1 L910.3 3623.9 L910.7 3619 L911.1 3613.5 L911.4 3607.4 L911.8 3600.6 L912.2 3593.4 L912.5 3585.6 L912.9 3577.3 L913.3 3568.6 L913.6 3559.5 L914 3549.9 L914.4 3540 L914.7 3529.6 L915.1 3519 L915.5 3508.1 L915.8 3497 L916.2 3485.6 L916.6 3474 L917 3462.3 L917.3 3450.4 L917.7 3438.5 L918.1 3426.6 L918.4 3414.7 L918.8 3402.7 L919.2 3390.8 L919.5 3378.9 L919.9 3367 L920.3 3355.3 L920.6 3343.6 L921 3331.9 L921.4 3320.5 L921.7 3309.3 L922.1 3298.3 L922.5 3287.6 L922.9 3277.3 L923.2 3267.2 L923.6 3257.6 L923.9 3248.5 L924.3 3238.9 L924.6 3228.9 L925 3218.6 L925.3 3207.9 L925.7 3196.9 L926 3185.7 L926.3 3174.2 L926.7 3162.4 L927 3150.8 L927.4 3139 L927.7 3127.2 L928.1 3115.2 L928.4 3103.2 L928.7 3091.2 L929.1 3079.2 L929.4 3067.3 L929.8 3055.4 L930.1 3043.6 L930.5 3031.9 L930.8 3020.4 L931.1 3009.1 L931.5 2998.1 L931.8 2987.3 L932.2 2976.9 L932.5 2966.8 L932.9 2957.1 L933.2 2947.8 L933.5 2938.9 L933.9 2930.5 L934.2 2922.6 L934.6 2915.2 L934.9 2908.4 L935.3 2902.1 L935.6 2896.5 L935.9 2891.5 L936.3 2887.2 L936.6 2883.6 L937 2880.7 L937.3 2878.7 L937.7 2877.4 L938 2877 L938.4 2877.3 L938.8 2878.4 L939.3 2880.1 L939.7 2882.5 L940.1 2885.6 L940.5 2889.3 L940.9 2893.5 L941.4 2898.4 L941.8 2903.8 L942.2 2909.7 L942.6 2916.1 L943 2923.1 L943.4 2930.5 L943.9 2938.3 L944.3 2946.6 L944.7 2955.3 L945.1 2964.4 L945.5 2973.8 L946 2983.7 L946.4 2993.9 L946.8 3004.3 L947.2 3015.1 L947.6 3026.1 L948.1 3037.4 L948.5 3048.9 L948.9 3060.5 L949.3 3072.3 L949.7 3084.3 L950.1 3096.3 L950.6 3108.5 L951 3120.8 L951.4 3133.1 L951.8 3145.5 L952.2 3157.9 L952.7 3170.5 L953.1 3183.2 L953.5 3195.8 L953.9 3208.4 L954.3 3220.9 L954.8 3233.2 L955.2 3245.5 L955.6 3257.6 L955.8 3264.8 L956.1 3272.6 L956.3 3281 L956.6 3290 L956.8 3299.5 L957.1 3309.4 L957.3 3319.8 L957.5 3330.5 L957.8 3341.6 L958 3353 L958.3 3364.5 L958.5 3376.2 L958.8 3388 L959 3400.1 L959.2 3412.2 L959.5 3424.4 L959.7 3436.7 L960 3448.9 L960.2 3461.3 L960.5 3473.5 L960.7 3485.7 L960.9 3497.7 L961.2 3509.4 L961.4 3521 L961.7 3532.2 L961.9 3543.1 L962.2 3553.7 L962.4 3563.8 L962.6 3573.5 L962.9 3582.8 L963.1 3591.5 L963.4 3599.7 L963.6 3607.2 L963.9 3614.2 L964.1 3620.4 L964.3 3626 L964.6 3630.8 L964.8 3634.8 L965.1 3638 L965.3 3640.4 L965.6 3641.8 L965.8 3642.3 L966.3 3641.9 L966.8 3640.6 L967.3 3638.6 L967.8 3635.7 L968.3 3632.2 L968.8 3627.9 L969.3 3623 L969.8 3617.4 L970.3 3611.2 L970.8 3604.4 L971.3 3597 L971.8 3589.1 L972.3 3580.7 L972.8 3571.9 L973.3 3562.6 L973.8 3552.9 L974.3 3542.9 L974.8 3532.4 L975.3 3521.7 L975.9 3510.6 L976.4 3499.3 L976.9 3487.8 L977.4 3476.1 L977.9 3464.2 L978.4 3452.2 L978.9 3440.2 L979.4 3428.1 L979.9 3416 L980.4 3404 L980.9 3391.9 L981.4 3379.9 L981.9 3367.9 L982.4 3356.1 L982.9 3344.2 L983.4 3332.5 L983.9 3320.9 L984.4 3309.6 L984.9 3298.6 L985.4 3287.8 L985.9 3277.4 L986.4 3267.3 L986.9 3257.6 L987.4 3248.4 L987.9 3238.7 L988.3 3228.6 L988.8 3218.1 L989.3 3207.3 L989.7 3196.2 L990.2 3184.9 L990.7 3173.3 L991.1 3161.5 L991.6 3149.7 L992.1 3137.9 L992.6 3125.9 L993 3113.9 L993.5 3101.8 L994 3089.7 L994.4 3077.7 L994.9 3065.6 L995.4 3053.6 L995.9 3041.8 L996.3 3030 L996.8 3018.5 L997.3 3007.1 L997.7 2996 L998.2 2985.2 L998.7 2974.7 L999.2 2964.5 L999.6 2954.8 L1000.1 2945.5 L1000.6 2936.6 L1001 2928.1 L1001.5 2920.2 L1002 2912.7 L1002.5 2905.9 L1002.9 2899.6 L1003.4 2893.9 L1003.9 2888.9 L1004.3 2884.6 L1004.8 2881 L1005.3 2878.1 L1005.8 2876 L1006.2 2874.8 L1006.7 2874.3 L1007 2874.8 L1007.3 2876.1 L1007.6 2878.2 L1007.9 2881.1 L1008.2 2884.8 L1008.6 2889.3 L1008.9 2894.4 L1009.2 2900.2 L1009.5 2906.6 L1009.8 2913.6 L1010.1 2921.2 L1010.4 2929.3 L1010.7 2937.9 L1011 2946.9 L1011.3 2956.4 L1011.6 2966.3 L1012 2976.6 L1012.3 2987.3 L1012.6 2998.2 L1012.9 3009.5 L1013.2 3021 L1013.5 3032.6 L1013.8 3044.5 L1014.1 3056.4 L1014.4 3068.5 L1014.7 3080.5 L1015.1 3092.6 L1015.4 3104.7 L1015.7 3116.8 L1016 3128.8 L1016.3 3140.7 L1016.6 3152.5 L1016.9 3164.1 L1017.2 3175.8 L1017.5 3187.2 L1017.8 3198.4 L1018.1 3209.2 L1018.5 3219.7 L1018.8 3229.8 L1019.1 3239.5 L1019.4 3248.8 L1019.7 3257.6 L1020.1 3267.7 L1020.4 3278.1 L1020.8 3288.9 L1021.1 3299.9 L1021.5 3311.2 L1021.9 3322.7 L1022.2 3334.4 L1022.6 3346.2 L1023 3358.1 L1023.3 3370 L1023.7 3381.9 L1024.1 3393.9 L1024.4 3405.9 L1024.8 3417.9 L1025.2 3429.9 L1025.5 3441.8 L1025.9 3453.7 L1026.3 3465.6 L1026.6 3477.3 L1027 3488.8 L1027.3 3500.1 L1027.7 3511.2 L1028.1 3522 L1028.4 3532.5 L1028.8 3542.7 L1029.2 3552.5 L1029.5 3561.9 L1029.9 3571 L1030.3 3579.6 L1030.6 3587.7 L1031 3595.4 L1031.4 3602.5 L1031.7 3609.1 L1032.1 3615.1 L1032.4 3620.6 L1032.8 3625.4 L1033.2 3629.5 L1033.5 3632.9 L1033.9 3635.7 L1034.3 3637.6 L1034.6 3638.8 L1035 3639.3 L1035.4 3638.8 L1035.7 3637.6 L1036.1 3635.5 L1036.4 3632.6 L1036.8 3629 L1037.1 3624.7 L1037.5 3619.7 L1037.8 3614 L1038.2 3607.8 L1038.5 3600.9 L1038.9 3593.5 L1039.2 3585.5 L1039.6 3577.1 L1039.9 3568.2 L1040.3 3558.8 L1040.6 3549.1 L1041 3539 L1041.3 3528.5 L1041.7 3517.7 L1042 3506.6 L1042.4 3495.3 L1042.7 3483.8 L1043.1 3472.1 L1043.4 3460.2 L1043.8 3448.2 L1044.1 3436.3 L1044.5 3424.3 L1044.8 3412.3 L1045.2 3400.4 L1045.5 3388.4 L1045.9 3376.5 L1046.2 3364.8 L1046.6 3353.1 L1046.9 3341.4 L1047.3 3329.9 L1047.6 3318.6 L1048 3307.6 L1048.3 3296.9 L1048.7 3286.5 L1049 3276.5 L1049.4 3266.8 L1049.7 3257.6 L1050.1 3248 L1050.5 3238.1 L1050.8 3227.8 L1051.2 3217.2 L1051.5 3206.2 L1051.9 3195 L1052.2 3183.6 L1052.6 3171.9 L1053 3160.1 L1053.3 3148.4 L1053.7 3136.6 L1054 3124.7 L1054.4 3112.7 L1054.8 3100.7 L1055.1 3088.7 L1055.5 3076.8 L1055.8 3064.9 L1056.2 3053.1 L1056.5 3041.4 L1056.9 3029.8 L1057.3 3018.5 L1057.6 3007.3 L1058 2996.4 L1058.3 2985.8 L1058.7 2975.5 L1059.1 2965.6 L1059.4 2956.1 L1059.8 2946.9 L1060.1 2938.2 L1060.5 2930 L1060.9 2922.2 L1061.2 2915 L1061.6 2908.3 L1061.9 2902.2 L1062.3 2896.7 L1062.6 2891.8 L1063 2887.6 L1063.4 2884.1 L1063.7 2881.3 L1064.1 2879.3 L1064.4 2878 L1064.8 2877.6 L1065.2 2878 L1065.6 2879.2 L1065.9 2881.1 L1066.3 2883.7 L1066.7 2887 L1067.1 2891 L1067.4 2895.6 L1067.8 2900.8 L1068.2 2906.6 L1068.6 2912.9 L1068.9 2919.8 L1069.3 2927.2 L1069.7 2935.1 L1070.1 2943.4 L1070.4 2952.2 L1070.8 2961.3 L1071.2 2970.9 L1071.6 2980.8 L1071.9 2991.1 L1072.3 3001.7 L1072.7 3012.5 L1073.1 3023.6 L1073.4 3034.9 L1073.8 3046.4 L1074.2 3058.1 L1074.6 3069.9 L1074.9 3081.7 L1075.3 3093.7 L1075.7 3105.7 L1076.1 3117.7 L1076.4 3129.8 L1076.8 3141.8 L1077.2 3153.8 L1077.6 3165.8 L1077.9 3177.9 L1078.3 3189.9 L1078.7 3201.7 L1079.1 3213.4 L1079.4 3224.8 L1079.8 3236 L1080.2 3246.9 L1080.6 3257.6 L1080.8 3265.8 L1081.1 3274.6 L1081.4 3283.9 L1081.7 3293.5 L1082 3303.6 L1082.3 3314.1 L1082.6 3324.9 L1082.9 3336 L1083.2 3347.4 L1083.5 3358.9 L1083.7 3370.5 L1084 3382.3 L1084.3 3394.2 L1084.6 3406.2 L1084.9 3418.2 L1085.2 3430.2 L1085.5 3442.3 L1085.8 3454.4 L1086.1 3466.4 L1086.3 3478.4 L1086.6 3490.2 L1086.9 3501.8 L1087.2 3513.1 L1087.5 3524.3 L1087.8 3535.1 L1088.1 3545.6 L1088.4 3555.7 L1088.7 3565.4 L1088.9 3574.6 L1089.2 3583.4 L1089.5 3591.7 L1089.8 3599.5 L1090.1 3606.7 L1090.4 3613.2 L1090.7 3619.2 L1091 3624.4 L1091.3 3629 L1091.5 3632.8 L1091.8 3635.8 L1092.1 3638 L1092.4 3639.3 L1092.7 3639.8 L1093.1 3639.4 L1093.6 3638.3 L1094 3636.4 L1094.4 3633.9 L1094.8 3630.7 L1095.3 3626.9 L1095.7 3622.4 L1096.1 3617.3 L1096.5 3611.7 L1097 3605.5 L1097.4 3598.8 L1097.8 3591.6 L1098.2 3583.9 L1098.7 3575.7 L1099.1 3567.1 L1099.5 3558.1 L1099.9 3548.7 L1100.4 3539 L1100.8 3528.9 L1101.2 3518.4 L1101.7 3507.7 L1102.1 3496.7 L1102.5 3485.4 L1102.9 3474 L1103.4 3462.3 L1103.8 3450.5 L1104.2 3438.6 L1104.6 3426.7 L1105.1 3414.6 L1105.5 3402.5 L1105.9 3390.3 L1106.3 3378 L1106.8 3365.8 L1107.2 3353.6 L1107.6 3341.2 L1108 3328.9 L1108.5 3316.7 L1108.9 3304.5 L1109.3 3292.5 L1109.8 3280.7 L1110.2 3269 L1110.6 3257.6 L1110.9 3249.9 L1111.2 3241.7 L1111.4 3232.8 L1111.7 3223.5 L1112 3213.7 L1112.2 3203.5 L1112.5 3192.9 L1112.8 3181.9 L1113.1 3170.7 L1113.3 3159.1 L1113.6 3147.6 L1113.9 3135.9 L1114.2 3124 L1114.4 3111.9 L1114.7 3099.8 L1115 3087.7 L1115.3 3075.5 L1115.5 3063.3 L1115.8 3051.2 L1116.1 3039.1 L1116.4 3027.2 L1116.6 3015.4 L1116.9 3003.9 L1117.2 2992.6 L1117.4 2981.6 L1117.7 2970.9 L1118 2960.7 L1118.3 2950.8 L1118.5 2941.4 L1118.8 2932.4 L1119.1 2924 L1119.4 2916 L1119.6 2908.7 L1119.9 2902 L1120.2 2895.9 L1120.5 2890.5 L1120.7 2885.9 L1121 2882 L1121.3 2878.9 L1121.6 2876.6 L1121.8 2875.3 L1122.1 2874.8 L1122.6 2875.2 L1123 2876.5 L1123.5 2878.5 L1124 2881.4 L1124.4 2884.9 L1124.9 2889.2 L1125.4 2894.1 L1125.9 2899.7 L1126.3 2905.9 L1126.8 2912.7 L1127.3 2920 L1127.7 2927.9 L1128.2 2936.3 L1128.7 2945.1 L1129.1 2954.3 L1129.6 2964 L1130.1 2974 L1130.6 2984.4 L1131 2995.2 L1131.5 3006.2 L1132 3017.4 L1132.4 3028.9 L1132.9 3040.6 L1133.4 3052.4 L1133.8 3064.4 L1134.3 3076.4 L1134.8 3088.4 L1135.2 3100.5 L1135.7 3112.5 L1136.2 3124.6 L1136.7 3136.5 L1137.1 3148.4 L1137.6 3160.2 L1138.1 3172 L1138.5 3183.7 L1139 3195.2 L1139.5 3206.4 L1139.9 3217.3 L1140.4 3228 L1140.9 3238.2 L1141.4 3248.1 L1141.8 3257.6 L1142.3 3267.1 L1142.8 3277 L1143.2 3287.2 L1143.7 3297.8 L1144.2 3308.8 L1144.7 3320 L1145.2 3331.4 L1145.6 3343.1 L1146.1 3354.9 L1146.6 3366.8 L1147.1 3378.7 L1147.5 3390.7 L1148 3402.8 L1148.5 3414.9 L1149 3427.1 L1149.4 3439.1 L1149.9 3451.2 L1150.4 3463.3 L1150.9 3475.3 L1151.3 3487.1 L1151.8 3498.7 L1152.3 3510.1 L1152.8 3521.3 L1153.2 3532.1 L1153.7 3542.7 L1154.2 3552.9 L1154.7 3562.7 L1155.1 3572.1 L1155.6 3581 L1156.1 3589.5 L1156.6 3597.5 L1157 3605 L1157.5 3611.9 L1158 3618.2 L1158.5 3623.8 L1158.9 3628.9 L1159.4 3633.2 L1159.9 3636.8 L1160.4 3639.7 L1160.8 3641.8 L1161.3 3643.1 L1161.8 3643.5 L1162.1 3643 L1162.4 3641.6 L1162.7 3639.4 L1162.9 3636.3 L1163.2 3632.4 L1163.5 3627.8 L1163.8 3622.4 L1164.1 3616.3 L1164.4 3609.6 L1164.7 3602.3 L1164.9 3594.4 L1165.2 3585.9 L1165.5 3576.9 L1165.8 3567.5 L1166.1 3557.6 L1166.4 3547.3 L1166.7 3536.6 L1167 3525.6 L1167.2 3514.3 L1167.5 3502.8 L1167.8 3491 L1168.1 3479 L1168.4 3466.9 L1168.7 3454.6 L1169 3442.4 L1169.2 3430.2 L1169.5 3418 L1169.8 3405.9 L1170.1 3393.8 L1170.4 3381.8 L1170.7 3370 L1171 3358.3 L1171.2 3346.7 L1171.5 3335.3 L1171.8 3324.2 L1172.1 3313.4 L1172.4 3303 L1172.7 3293 L1173 3283.4 L1173.2 3274.3 L1173.5 3265.7 L1173.8 3257.6 L1174.2 3246.6 L1174.6 3235.3 L1175 3223.8 L1175.4 3212.1 L1175.8 3200.2 L1176.2 3188.2 L1176.6 3176 L1177 3163.8 L1177.4 3151.7 L1177.8 3139.5 L1178.2 3127.4 L1178.6 3115.3 L1179 3103.2 L1179.3 3091.1 L1179.7 3079.1 L1180.1 3067.3 L1180.5 3055.4 L1180.9 3043.8 L1181.3 3032.3 L1181.7 3021 L1182.1 3010 L1182.5 2999.2 L1182.9 2988.7 L1183.3 2978.4 L1183.7 2968.6 L1184.1 2959.1 L1184.5 2950.1 L1184.9 2941.4 L1185.3 2933.1 L1185.7 2925.4 L1186.1 2918 L1186.5 2911.2 L1186.8 2905 L1187.2 2899.2 L1187.6 2894.1 L1188 2889.5 L1188.4 2885.6 L1188.8 2882.4 L1189.2 2879.8 L1189.6 2877.9 L1190 2876.8 L1190.4 2876.4 L1190.8 2876.8 L1191.1 2878 L1191.5 2880.1 L1191.8 2882.8 L1192.2 2886.3 L1192.5 2890.5 L1192.9 2895.4 L1193.2 2900.8 L1193.6 2906.9 L1193.9 2913.6 L1194.3 2920.8 L1194.6 2928.6 L1195 2936.8 L1195.3 2945.5 L1195.7 2954.6 L1196 2964.1 L1196.4 2974 L1196.7 2984.3 L1197.1 2994.9 L1197.4 3005.8 L1197.8 3016.9 L1198.1 3028.3 L1198.5 3039.8 L1198.8 3051.6 L1199.2 3063.4 L1199.5 3075.3 L1199.9 3087.3 L1200.2 3099.3 L1200.6 3111.3 L1200.9 3123.3 L1201.3 3135.3 L1201.6 3147.2 L1202 3159 L1202.3 3170.8 L1202.7 3182.6 L1203 3194.1 L1203.4 3205.5 L1203.7 3216.5 L1204.1 3227.3 L1204.4 3237.8 L1204.8 3247.9 L1205.1 3257.6 L1205.5 3266.7 L1205.8 3276.2 L1206.1 3286.1 L1206.5 3296.3 L1206.8 3306.9 L1207.1 3317.8 L1207.4 3329 L1207.8 3340.4 L1208.1 3352 L1208.4 3363.6 L1208.8 3375.3 L1209.1 3387.1 L1209.4 3399 L1209.8 3411 L1210.1 3422.9 L1210.4 3434.9 L1210.7 3446.8 L1211.1 3458.7 L1211.4 3470.6 L1211.7 3482.3 L1212.1 3493.8 L1212.4 3505.1 L1212.7 3516.2 L1213.1 3527 L1213.4 3537.5 L1213.7 3547.6 L1214 3557.4 L1214.4 3566.8 L1214.7 3575.7 L1215 3584.1 L1215.4 3592.1 L1215.7 3599.6 L1216 3606.4 L1216.4 3612.7 L1216.7 3618.4 L1217 3623.4 L1217.3 3627.8 L1217.7 3631.4 L1218 3634.3 L1218.3 3636.4 L1218.7 3637.6 L1219 3638.1 L1219.4 3637.6 L1219.7 3636.4 L1220.1 3634.4 L1220.4 3631.6 L1220.8 3628.1 L1221.1 3623.9 L1221.5 3619 L1221.8 3613.5 L1222.2 3607.4 L1222.5 3600.7 L1222.9 3593.4 L1223.3 3585.6 L1223.6 3577.4 L1224 3568.7 L1224.3 3559.5 L1224.7 3549.9 L1225 3540 L1225.4 3529.7 L1225.7 3519.1 L1226.1 3508.2 L1226.5 3497 L1226.8 3485.7 L1227.2 3474.1 L1227.5 3462.4 L1227.9 3450.5 L1228.2 3438.6 L1228.6 3426.7 L1228.9 3414.8 L1229.3 3402.8 L1229.6 3390.9 L1230 3379 L1230.4 3367.1 L1230.7 3355.4 L1231.1 3343.6 L1231.4 3332 L1231.8 3320.5 L1232.1 3309.3 L1232.5 3298.3 L1232.8 3287.7 L1233.2 3277.3 L1233.6 3267.3 L1233.9 3257.6 L1234.2 3248.5 L1234.6 3239 L1234.9 3229 L1235.2 3218.7 L1235.5 3208 L1235.9 3197.1 L1236.2 3185.9 L1236.5 3174.4 L1236.9 3162.7 L1237.2 3151.1 L1237.5 3139.3 L1237.8 3127.5 L1238.2 3115.5 L1238.5 3103.6 L1238.8 3091.6 L1239.2 3079.6 L1239.5 3067.7 L1239.8 3055.8 L1240.1 3044 L1240.5 3032.4 L1240.8 3020.9 L1241.1 3009.6 L1241.5 2998.6 L1241.8 2987.8 L1242.1 2977.4 L1242.4 2967.3 L1242.8 2957.6 L1243.1 2948.4 L1243.4 2939.5 L1243.8 2931.1 L1244.1 2923.2 L1244.4 2915.8 L1244.7 2909 L1245.1 2902.7 L1245.4 2897.1 L1245.7 2892.1 L1246.1 2887.8 L1246.4 2884.2 L1246.7 2881.4 L1247 2879.3 L1247.4 2878 L1247.7 2877.6 L1248.1 2878 L1248.5 2879.1 L1248.9 2881 L1249.2 2883.6 L1249.6 2886.8 L1250 2890.7 L1250.4 2895.2 L1250.8 2900.3 L1251.2 2906 L1251.6 2912.2 L1252 2919 L1252.3 2926.3 L1252.7 2934 L1253.1 2942.2 L1253.5 2950.8 L1253.9 2959.9 L1254.3 2969.3 L1254.7 2979.1 L1255.1 2989.2 L1255.4 2999.7 L1255.8 3010.4 L1256.2 3021.4 L1256.6 3032.7 L1257 3044.1 L1257.4 3055.7 L1257.8 3067.5 L1258.1 3079.3 L1258.5 3091.3 L1258.9 3103.3 L1259.3 3115.4 L1259.7 3127.5 L1260.1 3139.6 L1260.5 3151.7 L1260.9 3163.8 L1261.2 3176 L1261.6 3188.2 L1262 3200.2 L1262.4 3212.1 L1262.8 3223.8 L1263.2 3235.3 L1263.6 3246.6 L1263.9 3257.6 L1264.2 3265.5 L1264.5 3274 L1264.8 3283 L1265 3292.4 L1265.3 3302.3 L1265.6 3312.6 L1265.9 3323.2 L1266.1 3334.2 L1266.4 3345.5 L1266.7 3356.9 L1267 3368.4 L1267.2 3380.1 L1267.5 3392 L1267.8 3403.9 L1268.1 3415.9 L1268.3 3428 L1268.6 3440.1 L1268.9 3452.1 L1269.2 3464.2 L1269.4 3476.2 L1269.7 3488.1 L1270 3499.7 L1270.3 3511.2 L1270.5 3522.4 L1270.8 3533.3 L1271.1 3543.9 L1271.4 3554 L1271.6 3563.8 L1271.9 3573.2 L1272.2 3582.1 L1272.5 3590.5 L1272.7 3598.3 L1273 3605.6 L1273.3 3612.2 L1273.6 3618.2 L1273.8 3623.6 L1274.1 3628.2 L1274.4 3632 L1274.7 3635.1 L1274.9 3637.3 L1275.2 3638.7 L1275.5 3639.1 L1276 3638.8 L1276.4 3637.7 L1276.9 3635.9 L1277.3 3633.5 L1277.8 3630.4 L1278.3 3626.7 L1278.7 3622.4 L1279.2 3617.5 L1279.6 3612.1 L1280.1 3606.1 L1280.5 3599.6 L1281 3592.5 L1281.5 3585.1 L1281.9 3577.1 L1282.4 3568.8 L1282.8 3560 L1283.3 3550.8 L1283.8 3541.3 L1284.2 3531.4 L1284.7 3521.1 L1285.1 3510.6 L1285.6 3499.8 L1286.1 3488.7 L1286.5 3477.3 L1287 3465.8 L1287.4 3454 L1287.9 3442.2 L1288.4 3430.3 L1288.8 3418.2 L1289.3 3406 L1289.7 3393.8 L1290.2 3381.5 L1290.6 3369.1 L1291.1 3356.7 L1291.6 3344.2 L1292 3331.6 L1292.5 3319 L1292.9 3306.5 L1293.4 3294.1 L1293.9 3281.8 L1294.3 3269.6 L1294.8 3257.6 L1295 3250.3 L1295.3 3242.5 L1295.6 3234 L1295.8 3225 L1296.1 3215.4 L1296.4 3205.4 L1296.6 3195 L1296.9 3184.2 L1297.1 3173 L1297.4 3161.5 L1297.7 3150 L1297.9 3138.3 L1298.2 3126.4 L1298.5 3114.4 L1298.7 3102.2 L1299 3090 L1299.2 3077.7 L1299.5 3065.5 L1299.8 3053.2 L1300 3041 L1300.3 3028.9 L1300.6 3017 L1300.8 3005.3 L1301.1 2993.9 L1301.3 2982.7 L1301.6 2971.8 L1301.9 2961.4 L1302.1 2951.3 L1302.4 2941.7 L1302.7 2932.6 L1302.9 2923.9 L1303.2 2915.9 L1303.4 2908.4 L1303.7 2901.5 L1304 2895.3 L1304.2 2889.8 L1304.5 2885 L1304.8 2881 L1305 2877.9 L1305.3 2875.6 L1305.5 2874.2 L1305.8 2873.7 L1306.3 2874.1 L1306.8 2875.3 L1307.2 2877.4 L1307.7 2880.2 L1308.2 2883.7 L1308.7 2887.9 L1309.2 2892.8 L1309.6 2898.3 L1310.1 2904.5 L1310.6 2911.2 L1311.1 2918.5 L1311.6 2926.3 L1312.1 2934.6 L1312.5 2943.4 L1313 2952.6 L1313.5 2962.1 L1314 2972.1 L1314.5 2982.5 L1314.9 2993.2 L1315.4 3004.2 L1315.9 3015.4 L1316.4 3026.8 L1316.9 3038.5 L1317.3 3050.3 L1317.8 3062.3 L1318.3 3074.3 L1318.8 3086.3 L1319.3 3098.4 L1319.7 3110.5 L1320.2 3122.6 L1320.7 3134.7 L1321.2 3146.6 L1321.7 3158.5 L1322.1 3170.4 L1322.6 3182.2 L1323.1 3193.9 L1323.6 3205.2 L1324.1 3216.4 L1324.6 3227.2 L1325 3237.7 L1325.5 3247.8 L1326 3257.6 L1326.4 3266.8 L1326.9 3276.4 L1327.4 3286.4 L1327.8 3296.8 L1328.3 3307.5 L1328.7 3318.6 L1329.2 3329.9 L1329.7 3341.4 L1330.1 3353.1 L1330.6 3364.8 L1331 3376.7 L1331.5 3388.6 L1331.9 3400.6 L1332.4 3412.7 L1332.9 3424.8 L1333.3 3436.8 L1333.8 3448.8 L1334.2 3460.9 L1334.7 3472.9 L1335.1 3484.7 L1335.6 3496.3 L1336.1 3507.7 L1336.5 3518.9 L1337 3529.8 L1337.4 3540.4 L1337.9 3550.6 L1338.3 3560.4 L1338.8 3569.9 L1339.3 3578.9 L1339.7 3587.4 L1340.2 3595.5 L1340.6 3603 L1341.1 3609.9 L1341.5 3616.2 L1342 3622 L1342.5 3627 L1342.9 3631.4 L1343.4 3635 L1343.8 3637.9 L1344.3 3640 L1344.7 3641.3 L1345.2 3641.8 L1345.5 3641.3 L1345.8 3640 L1346.1 3637.8 L1346.4 3634.9 L1346.7 3631.1 L1347 3626.6 L1347.3 3621.4 L1347.7 3615.6 L1348 3609.1 L1348.3 3602 L1348.6 3594.3 L1348.9 3586.1 L1349.2 3577.4 L1349.5 3568.2 L1349.8 3558.6 L1350.1 3548.6 L1350.4 3538.2 L1350.7 3527.4 L1351 3516.3 L1351.3 3505 L1351.6 3493.5 L1352 3481.7 L1352.3 3469.8 L1352.6 3457.7 L1352.9 3445.6 L1353.2 3433.5 L1353.5 3421.4 L1353.8 3409.4 L1354.1 3397.3 L1354.4 3385.3 L1354.7 3373.5 L1355 3361.7 L1355.3 3350.1 L1355.6 3338.5 L1355.9 3327.2 L1356.2 3316.2 L1356.6 3305.4 L1356.9 3295 L1357.2 3285 L1357.5 3275.4 L1357.8 3266.3 L1358.1 3257.6 L1358.5 3247.4 L1358.8 3236.8 L1359.2 3225.9 L1359.5 3214.7 L1359.9 3203.3 L1360.3 3191.7 L1360.6 3179.9 L1361 3168 L1361.3 3156 L1361.7 3144.1 L1362.1 3132.1 L1362.4 3120.1 L1362.8 3108 L1363.2 3096 L1363.5 3084 L1363.9 3072 L1364.2 3060.2 L1364.6 3048.4 L1365 3036.8 L1365.3 3025.3 L1365.7 3014.1 L1366.1 3003.1 L1366.4 2992.4 L1366.8 2981.9 L1367.1 2971.8 L1367.5 2962.1 L1367.9 2952.7 L1368.2 2943.8 L1368.6 2935.3 L1369 2927.3 L1369.3 2919.7 L1369.7 2912.6 L1370 2906.1 L1370.4 2900.2 L1370.8 2894.8 L1371.1 2890.1 L1371.5 2886 L1371.9 2882.6 L1372.2 2879.9 L1372.6 2878 L1372.9 2876.8 L1373.3 2876.4 L1373.7 2876.8 L1374 2878.1 L1374.4 2880.1 L1374.7 2882.9 L1375.1 2886.4 L1375.4 2890.6 L1375.8 2895.5 L1376.1 2901.1 L1376.5 2907.2 L1376.8 2914 L1377.2 2921.3 L1377.5 2929.1 L1377.9 2937.3 L1378.2 2946.1 L1378.6 2955.3 L1378.9 2964.8 L1379.3 2974.8 L1379.6 2985.2 L1380 2995.8 L1380.3 3006.8 L1380.7 3018 L1381 3029.4 L1381.4 3041 L1381.7 3052.7 L1382.1 3064.6 L1382.4 3076.5 L1382.8 3088.5 L1383.1 3100.5 L1383.5 3112.6 L1383.8 3124.5 L1384.2 3136.5 L1384.5 3148.3 L1384.9 3160.1 L1385.2 3171.9 L1385.6 3183.6 L1385.9 3195 L1386.3 3206.3 L1386.6 3217.2 L1387 3227.8 L1387.3 3238.1 L1387.7 3248.1 L1388 3257.6 L1388.4 3266.8 L1388.7 3276.5 L1389.1 3286.5 L1389.4 3296.9 L1389.8 3307.6 L1390.1 3318.6 L1390.4 3329.9 L1390.8 3341.3 L1391.1 3353 L1391.5 3364.6 L1391.8 3376.3 L1392.2 3388.2 L1392.5 3400.1 L1392.9 3412 L1393.2 3424 L1393.5 3435.9 L1393.9 3447.7 L1394.2 3459.7 L1394.6 3471.5 L1394.9 3483.1 L1395.3 3494.6 L1395.6 3505.8 L1396 3516.8 L1396.3 3527.6 L1396.6 3538 L1397 3548.1 L1397.3 3557.7 L1397.7 3567 L1398 3575.9 L1398.4 3584.3 L1398.7 3592.2 L1399.1 3599.6 L1399.4 3606.4 L1399.7 3612.6 L1400.1 3618.2 L1400.4 3623.2 L1400.8 3627.5 L1401.1 3631.1 L1401.5 3633.9 L1401.8 3636 L1402.2 3637.2 L1402.5 3637.7 L1402.9 3637.3 L1403.2 3636 L1403.6 3634.1 L1403.9 3631.3 L1404.3 3627.9 L1404.7 3623.7 L1405 3618.9 L1405.4 3613.5 L1405.8 3607.5 L1406.1 3600.8 L1406.5 3593.7 L1406.8 3586 L1407.2 3577.9 L1407.6 3569.2 L1407.9 3560.2 L1408.3 3550.8 L1408.6 3540.9 L1409 3530.7 L1409.4 3520.2 L1409.7 3509.4 L1410.1 3498.3 L1410.5 3487 L1410.8 3475.5 L1411.2 3463.9 L1411.5 3452.1 L1411.9 3440.2 L1412.3 3428.3 L1412.6 3416.4 L1413 3404.5 L1413.3 3392.5 L1413.7 3380.6 L1414.1 3368.7 L1414.4 3356.9 L1414.8 3345.1 L1415.2 3333.4 L1415.5 3321.8 L1415.9 3310.4 L1416.2 3299.3 L1416.6 3288.4 L1417 3277.8 L1417.3 3267.5 L1417.7 3257.6 L1418 3248.8 L1418.3 3239.5 L1418.6 3229.7 L1418.9 3219.6 L1419.3 3209.1 L1419.6 3198.3 L1419.9 3187.2 L1420.2 3175.8 L1420.5 3164.2 L1420.8 3152.6 L1421.1 3140.9 L1421.5 3129.1 L1421.8 3117.2 L1422.1 3105.3 L1422.4 3093.3 L1422.7 3081.3 L1423 3069.3 L1423.3 3057.4 L1423.7 3045.6 L1424 3033.9 L1424.3 3022.3 L1424.6 3011 L1424.9 2999.9 L1425.2 2989.1 L1425.6 2978.5 L1425.9 2968.3 L1426.2 2958.6 L1426.5 2949.2 L1426.8 2940.3 L1427.1 2931.8 L1427.4 2923.8 L1427.8 2916.3 L1428.1 2909.4 L1428.4 2903.1 L1428.7 2897.4 L1429 2892.3 L1429.3 2888 L1429.6 2884.3 L1430 2881.4 L1430.3 2879.3 L1430.6 2878.1 L1430.9 2877.6 L1431.3 2878 L1431.8 2879.1 L1432.2 2880.9 L1432.6 2883.3 L1433 2886.4 L1433.5 2890.1 L1433.9 2894.5 L1434.3 2899.4 L1434.8 2904.9 L1435.2 2910.9 L1435.6 2917.5 L1436 2924.5 L1436.5 2932 L1436.9 2940 L1437.3 2948.4 L1437.8 2957.2 L1438.2 2966.3 L1438.6 2975.9 L1439 2985.8 L1439.5 2996.1 L1439.9 3006.6 L1440.3 3017.5 L1440.8 3028.6 L1441.2 3039.9 L1441.6 3051.4 L1442 3063.1 L1442.5 3074.9 L1442.9 3086.8 L1443.3 3098.8 L1443.8 3110.9 L1444.2 3123.1 L1444.6 3135.4 L1445 3147.7 L1445.5 3159.9 L1445.9 3172.4 L1446.3 3184.9 L1446.8 3197.3 L1447.2 3209.7 L1447.6 3221.9 L1448 3233.9 L1448.5 3245.9 L1448.9 3257.6 L1449.2 3265 L1449.4 3273 L1449.7 3281.5 L1450 3290.6 L1450.2 3300.1 L1450.5 3310.1 L1450.8 3320.4 L1451 3331.2 L1451.3 3342.3 L1451.5 3353.6 L1451.8 3365 L1452.1 3376.6 L1452.3 3388.4 L1452.6 3400.3 L1452.9 3412.3 L1453.1 3424.4 L1453.4 3436.5 L1453.7 3448.6 L1453.9 3460.8 L1454.2 3472.9 L1454.5 3484.8 L1454.7 3496.6 L1455 3508.2 L1455.2 3519.6 L1455.5 3530.6 L1455.8 3541.4 L1456 3551.7 L1456.3 3561.7 L1456.6 3571.2 L1456.8 3580.3 L1457.1 3588.8 L1457.4 3596.8 L1457.6 3604.3 L1457.9 3611.1 L1458.2 3617.2 L1458.4 3622.7 L1458.7 3627.4 L1458.9 3631.3 L1459.2 3634.4 L1459.5 3636.7 L1459.7 3638.1 L1460 3638.6 L1460.5 3638.2 L1460.9 3637.2 L1461.4 3635.5 L1461.8 3633.2 L1462.3 3630.2 L1462.7 3626.7 L1463.2 3622.5 L1463.6 3617.8 L1464.1 3612.6 L1464.5 3606.8 L1465 3600.5 L1465.4 3593.7 L1465.9 3586.5 L1466.3 3578.8 L1466.8 3570.7 L1467.2 3562.1 L1467.7 3553.2 L1468.1 3543.9 L1468.6 3534.2 L1469 3524.2 L1469.5 3513.8 L1469.9 3503.2 L1470.4 3492.2 L1470.8 3481 L1471.3 3469.6 L1471.7 3457.9 L1472.2 3446.1 L1472.6 3434.2 L1473.1 3422.1 L1473.5 3410 L1474 3397.6 L1474.4 3385.2 L1474.9 3372.7 L1475.3 3360.1 L1475.8 3347.4 L1476.2 3334.5 L1476.7 3321.6 L1477.1 3308.7 L1477.6 3295.8 L1478 3283 L1478.5 3270.3 L1478.9 3257.6 L1479.2 3250.8 L1479.4 3243.3 L1479.6 3235.2 L1479.9 3226.6 L1480.1 3217.3 L1480.3 3207.6 L1480.5 3197.4 L1480.8 3186.8 L1481 3175.8 L1481.2 3164.4 L1481.4 3153 L1481.7 3141.3 L1481.9 3129.5 L1482.1 3117.5 L1482.4 3105.3 L1482.6 3093.1 L1482.8 3080.8 L1483 3068.5 L1483.3 3056.2 L1483.5 3043.9 L1483.7 3031.7 L1484 3019.7 L1484.2 3007.9 L1484.4 2996.3 L1484.6 2985 L1484.9 2974 L1485.1 2963.4 L1485.3 2953.3 L1485.5 2943.5 L1485.8 2934.3 L1486 2925.5 L1486.2 2917.3 L1486.5 2909.7 L1486.7 2902.7 L1486.9 2896.4 L1487.1 2890.8 L1487.4 2885.9 L1487.6 2881.8 L1487.8 2878.6 L1488 2876.3 L1488.3 2874.8 L1488.5 2874.3 L1489 2874.7 L1489.5 2875.9 L1490 2877.9 L1490.6 2880.6 L1491.1 2883.9 L1491.6 2888 L1492.1 2892.7 L1492.6 2898.1 L1493.1 2904 L1493.7 2910.5 L1494.2 2917.6 L1494.7 2925.1 L1495.2 2933.2 L1495.7 2941.7 L1496.2 2950.6 L1496.8 2960 L1497.3 2969.7 L1497.8 2979.8 L1498.3 2990.3 L1498.8 3001 L1499.3 3012.1 L1499.8 3023.3 L1500.4 3034.8 L1500.9 3046.5 L1501.4 3058.3 L1501.9 3070.2 L1502.4 3082.2 L1502.9 3094.3 L1503.5 3106.4 L1504 3118.5 L1504.5 3130.6 L1505 3142.7 L1505.5 3154.7 L1506 3166.8 L1506.6 3178.8 L1507.1 3190.8 L1507.6 3202.5 L1508.1 3214.1 L1508.6 3225.4 L1509.1 3236.4 L1509.6 3247.2 L1510.2 3257.6 L1510.6 3266.2 L1511 3275.3 L1511.4 3284.8 L1511.9 3294.8 L1512.3 3305.2 L1512.7 3315.9 L1513.1 3326.9 L1513.6 3338.2 L1514 3349.8 L1514.4 3361.5 L1514.8 3373.2 L1515.3 3385.1 L1515.7 3397.1 L1516.1 3409.2 L1516.5 3421.4 L1517 3433.5 L1517.4 3445.7 L1517.8 3457.9 L1518.2 3470 L1518.7 3482 L1519.1 3493.8 L1519.5 3505.5 L1519.9 3516.9 L1520.4 3528 L1520.8 3538.8 L1521.2 3549.3 L1521.6 3559.4 L1522.1 3569.1 L1522.5 3578.4 L1522.9 3587.2 L1523.3 3595.4 L1523.8 3603.2 L1524.2 3610.3 L1524.6 3616.9 L1525 3622.8 L1525.5 3628.1 L1525.9 3632.6 L1526.3 3636.4 L1526.7 3639.4 L1527.2 3641.6 L1527.6 3642.9 L1528 3643.4 L1528.3 3642.9 L1528.6 3641.6 L1528.9 3639.4 L1529.2 3636.5 L1529.6 3632.7 L1529.9 3628.3 L1530.2 3623.1 L1530.5 3617.2 L1530.8 3610.7 L1531.1 3603.6 L1531.4 3596 L1531.7 3587.8 L1532.1 3579.1 L1532.4 3569.9 L1532.7 3560.3 L1533 3550.3 L1533.3 3539.9 L1533.6 3529.1 L1533.9 3518.1 L1534.2 3506.7 L1534.5 3495.2 L1534.9 3483.4 L1535.2 3471.5 L1535.5 3459.4 L1535.8 3447.2 L1536.1 3435.1 L1536.4 3423 L1536.7 3410.8 L1537 3398.7 L1537.3 3386.7 L1537.7 3374.8 L1538 3362.9 L1538.3 3351.3 L1538.6 3339.6 L1538.9 3328.2 L1539.2 3317 L1539.5 3306.2 L1539.8 3295.7 L1540.2 3285.5 L1540.5 3275.8 L1540.8 3266.4 L1541.1 3257.6 L1541.4 3247.5 L1541.8 3237 L1542.2 3226.3 L1542.5 3215.2 L1542.9 3203.9 L1543.2 3192.3 L1543.6 3180.6 L1543.9 3168.7 L1544.3 3156.7 L1544.6 3144.8 L1545 3132.9 L1545.3 3120.8 L1545.7 3108.8 L1546.1 3096.7 L1546.4 3084.7 L1546.8 3072.8 L1547.1 3060.9 L1547.5 3049 L1547.8 3037.4 L1548.2 3025.9 L1548.5 3014.6 L1548.9 3003.5 L1549.3 2992.8 L1549.6 2982.2 L1550 2972.1 L1550.3 2962.3 L1550.7 2952.9 L1551 2943.9 L1551.4 2935.3 L1551.7 2927.2 L1552.1 2919.6 L1552.4 2912.5 L1552.8 2905.9 L1553.2 2899.9 L1553.5 2894.5 L1553.9 2889.8 L1554.2 2885.7 L1554.6 2882.2 L1554.9 2879.5 L1555.3 2877.5 L1555.6 2876.3 L1556 2875.9 L1556.4 2876.3 L1556.7 2877.6 L1557.1 2879.6 L1557.4 2882.4 L1557.8 2885.9 L1558.1 2890.1 L1558.5 2894.9 L1558.9 2900.4 L1559.2 2906.5 L1559.6 2913.2 L1559.9 2920.4 L1560.3 2928.2 L1560.7 2936.4 L1561 2945.1 L1561.4 2954.2 L1561.7 2963.8 L1562.1 2973.7 L1562.4 2984 L1562.8 2994.6 L1563.2 3005.5 L1563.5 3016.7 L1563.9 3028 L1564.2 3039.6 L1564.6 3051.3 L1564.9 3063.2 L1565.3 3075.1 L1565.7 3087.1 L1566 3099.1 L1566.4 3111.2 L1566.7 3123.2 L1567.1 3135.2 L1567.5 3147.1 L1567.8 3158.9 L1568.2 3170.8 L1568.5 3182.5 L1568.9 3194.1 L1569.2 3205.4 L1569.6 3216.5 L1570 3227.3 L1570.3 3237.8 L1570.7 3247.9 L1571 3257.6 L1571.4 3266.7 L1571.7 3276.2 L1572 3286.1 L1572.4 3296.4 L1572.7 3307 L1573.1 3317.9 L1573.4 3329.1 L1573.7 3340.5 L1574.1 3352.2 L1574.4 3363.8 L1574.7 3375.5 L1575.1 3387.4 L1575.4 3399.3 L1575.8 3411.2 L1576.1 3423.2 L1576.4 3435.2 L1576.8 3447.1 L1577.1 3459.1 L1577.4 3470.9 L1577.8 3482.6 L1578.1 3494.2 L1578.5 3505.5 L1578.8 3516.6 L1579.1 3527.4 L1579.5 3537.9 L1579.8 3548.1 L1580.1 3557.8 L1580.5 3567.2 L1580.8 3576.1 L1581.2 3584.6 L1581.5 3592.6 L1581.8 3600 L1582.2 3606.9 L1582.5 3613.2 L1582.8 3618.9 L1583.2 3624 L1583.5 3628.3 L1583.9 3631.9 L1584.2 3634.8 L1584.5 3636.9 L1584.9 3638.2 L1585.2 3638.6 L1585.6 3638.2 L1586 3637 L1586.3 3635 L1586.7 3632.3 L1587.1 3628.9 L1587.5 3624.8 L1587.8 3620.1 L1588.2 3614.7 L1588.6 3608.8 L1589 3602.2 L1589.4 3595.2 L1589.7 3587.6 L1590.1 3579.5 L1590.5 3571 L1590.9 3562 L1591.2 3552.6 L1591.6 3542.9 L1592 3532.7 L1592.4 3522.3 L1592.8 3511.6 L1593.1 3500.5 L1593.5 3489.3 L1593.9 3477.8 L1594.3 3466.2 L1594.6 3454.4 L1595 3442.5 L1595.4 3430.6 L1595.8 3418.7 L1596.2 3406.7 L1596.5 3394.7 L1596.9 3382.7 L1597.3 3370.7 L1597.7 3358.8 L1598.1 3346.9 L1598.4 3335 L1598.8 3323.3 L1599.2 3311.7 L1599.6 3300.4 L1599.9 3289.3 L1600.3 3278.4 L1600.7 3267.8 L1601.1 3257.6 L1601.4 3249 L1601.7 3240 L1602 3230.5 L1602.3 3220.5 L1602.6 3210.2 L1602.9 3199.5 L1603.2 3188.6 L1603.5 3177.3 L1603.8 3165.8 L1604.2 3154.2 L1604.5 3142.6 L1604.8 3130.8 L1605.1 3118.9 L1605.4 3107 L1605.7 3095 L1606 3083 L1606.3 3071 L1606.6 3059 L1606.9 3047.1 L1607.2 3035.4 L1607.5 3023.8 L1607.8 3012.4 L1608.2 3001.2 L1608.5 2990.3 L1608.8 2979.6 L1609.1 2969.4 L1609.4 2959.5 L1609.7 2950 L1610 2941 L1610.3 2932.4 L1610.6 2924.4 L1610.9 2916.8 L1611.2 2909.8 L1611.5 2903.4 L1611.8 2897.6 L1612.2 2892.5 L1612.5 2888.1 L1612.8 2884.4 L1613.1 2881.5 L1613.4 2879.4 L1613.7 2878.1 L1614 2877.6 L1614.4 2878 L1614.8 2879.1 L1615.2 2880.9 L1615.6 2883.4 L1616 2886.6 L1616.4 2890.4 L1616.9 2894.9 L1617.3 2899.9 L1617.7 2905.5 L1618.1 2911.6 L1618.5 2918.3 L1618.9 2925.5 L1619.3 2933.1 L1619.7 2941.2 L1620.1 2949.7 L1620.5 2958.6 L1620.9 2967.9 L1621.3 2977.6 L1621.7 2987.7 L1622.2 2998.1 L1622.6 3008.7 L1623 3019.7 L1623.4 3030.8 L1623.8 3042.2 L1624.2 3053.8 L1624.6 3065.5 L1625 3077.3 L1625.4 3089.2 L1625.8 3101.3 L1626.2 3113.4 L1626.6 3125.5 L1627 3137.7 L1627.5 3149.9 L1627.9 3162 L1628.3 3174.4 L1628.7 3186.7 L1629.1 3198.9 L1629.5 3211 L1629.9 3222.9 L1630.3 3234.7 L1630.7 3246.3 L1631.1 3257.6 L1631.4 3265.3 L1631.7 3273.5 L1631.9 3282.2 L1632.2 3291.5 L1632.5 3301.2 L1632.7 3311.3 L1633 3321.8 L1633.3 3332.7 L1633.6 3343.8 L1633.8 3355.2 L1634.1 3366.6 L1634.4 3378.3 L1634.6 3390.1 L1634.9 3402 L1635.2 3414 L1635.5 3426 L1635.7 3438 L1636 3450.1 L1636.3 3462.2 L1636.5 3474.2 L1636.8 3486.1 L1637.1 3497.8 L1637.4 3509.3 L1637.6 3520.5 L1637.9 3531.5 L1638.2 3542.1 L1638.4 3552.4 L1638.7 3562.2 L1639 3571.6 L1639.2 3580.6 L1639.5 3589 L1639.8 3596.9 L1640.1 3604.2 L1640.3 3610.9 L1640.6 3617 L1640.9 3622.4 L1641.1 3627 L1641.4 3630.9 L1641.7 3634 L1642 3636.2 L1642.2 3637.6 L1642.5 3638.1 L1642.9 3637.7 L1643.4 3636.6 L1643.8 3634.9 L1644.3 3632.5 L1644.7 3629.4 L1645.2 3625.7 L1645.6 3621.4 L1646.1 3616.6 L1646.5 3611.1 L1646.9 3605.2 L1647.4 3598.7 L1647.8 3591.7 L1648.3 3584.3 L1648.7 3576.4 L1649.2 3568.1 L1649.6 3559.3 L1650.1 3550.2 L1650.5 3540.7 L1650.9 3530.9 L1651.4 3520.7 L1651.8 3510.2 L1652.3 3499.4 L1652.7 3488.3 L1653.2 3477 L1653.6 3465.5 L1654.1 3453.8 L1654.5 3442 L1654.9 3430.1 L1655.4 3418.1 L1655.8 3406 L1656.3 3393.7 L1656.7 3381.4 L1657.2 3369.1 L1657.6 3356.7 L1658.1 3344.2 L1658.5 3331.6 L1658.9 3319.1 L1659.4 3306.6 L1659.8 3294.2 L1660.3 3281.8 L1660.7 3269.6 L1661.2 3257.6 L1661.4 3250.4 L1661.7 3242.6 L1661.9 3234.2 L1662.2 3225.3 L1662.4 3215.8 L1662.7 3205.9 L1662.9 3195.5 L1663.2 3184.8 L1663.4 3173.7 L1663.7 3162.3 L1663.9 3150.9 L1664.2 3139.2 L1664.4 3127.4 L1664.7 3115.4 L1664.9 3103.3 L1665.2 3091.2 L1665.4 3079 L1665.7 3066.8 L1665.9 3054.6 L1666.2 3042.5 L1666.4 3030.5 L1666.7 3018.6 L1666.9 3007 L1667.2 2995.6 L1667.4 2984.4 L1667.7 2973.6 L1667.9 2963.2 L1668.2 2953.2 L1668.4 2943.7 L1668.7 2934.6 L1668.9 2926 L1669.2 2917.9 L1669.4 2910.5 L1669.7 2903.6 L1669.9 2897.5 L1670.2 2892 L1670.4 2887.2 L1670.7 2883.3 L1670.9 2880.1 L1671.2 2877.8 L1671.4 2876.4 L1671.7 2875.9 L1672.2 2876.2 L1672.6 2877.2 L1673.1 2878.7 L1673.6 2880.9 L1674 2883.6 L1674.5 2886.9 L1675 2890.8 L1675.4 2895.1 L1675.9 2900 L1676.3 2905.4 L1676.8 2911.3 L1677.3 2917.7 L1677.7 2924.5 L1678.2 2931.8 L1678.7 2939.5 L1679.1 2947.6 L1679.6 2956.1 L1680.1 2965 L1680.5 2974.3 L1681 2984 L1681.5 2994 L1681.9 3004.4 L1682.4 3015 L1682.8 3026 L1683.3 3037.2 L1683.8 3048.7 L1684.2 3060.5 L1684.7 3072.4 L1685.2 3084.6 L1685.6 3096.9 L1686.1 3109.5 L1686.6 3122.2 L1687 3135 L1687.5 3148 L1688 3161.2 L1688.4 3174.7 L1688.9 3188.4 L1689.3 3202.1 L1689.8 3215.9 L1690.3 3229.8 L1690.7 3243.7 L1691.2 3257.6 L1691.4 3263.7 L1691.6 3270.5 L1691.8 3278 L1692 3286.2 L1692.2 3294.9 L1692.4 3304.3 L1692.6 3314.1 L1692.7 3324.4 L1692.9 3335.2 L1693.1 3346.3 L1693.3 3357.7 L1693.5 3369.3 L1693.7 3381.1 L1693.9 3393.1 L1694.1 3405.3 L1694.3 3417.7 L1694.5 3430.1 L1694.7 3442.5 L1694.9 3455.1 L1695.1 3467.6 L1695.3 3480.1 L1695.4 3492.4 L1695.6 3504.5 L1695.8 3516.4 L1696 3528.1 L1696.2 3539.4 L1696.4 3550.4 L1696.6 3561 L1696.8 3571.1 L1697 3580.8 L1697.2 3589.9 L1697.4 3598.4 L1697.6 3606.4 L1697.8 3613.7 L1698 3620.3 L1698.1 3626.1 L1698.3 3631.2 L1698.5 3635.5 L1698.7 3638.9 L1698.9 3641.3 L1699.1 3642.8 L1699.3 3643.4 L1699.8 3642.9 L1700.3 3641.7 L1700.9 3639.7 L1701.4 3636.9 L1701.9 3633.4 L1702.4 3629.2 L1703 3624.3 L1703.5 3618.8 L1704 3612.7 L1704.5 3606 L1705 3598.7 L1705.6 3591 L1706.1 3582.7 L1706.6 3573.9 L1707.1 3564.8 L1707.7 3555.2 L1708.2 3545.2 L1708.7 3534.9 L1709.2 3524.2 L1709.8 3513.2 L1710.3 3502 L1710.8 3490.5 L1711.3 3478.9 L1711.8 3467 L1712.4 3455 L1712.9 3443 L1713.4 3430.9 L1713.9 3418.8 L1714.5 3406.7 L1715 3394.6 L1715.5 3382.5 L1716 3370.4 L1716.5 3358.4 L1717.1 3346.5 L1717.6 3334.5 L1718.1 3322.8 L1718.6 3311.3 L1719.2 3299.9 L1719.7 3288.9 L1720.2 3278.1 L1720.7 3267.7 L1721.2 3257.6 L1721.7 3248.7 L1722.1 3239.3 L1722.6 3229.5 L1723.1 3219.3 L1723.5 3208.7 L1724 3197.8 L1724.4 3186.6 L1724.9 3175.1 L1725.3 3163.4 L1725.8 3151.7 L1726.2 3139.9 L1726.7 3128 L1727.1 3115.9 L1727.6 3103.9 L1728 3091.8 L1728.5 3079.7 L1728.9 3067.6 L1729.4 3055.5 L1729.8 3043.6 L1730.3 3031.7 L1730.7 3020.1 L1731.2 3008.6 L1731.6 2997.4 L1732.1 2986.5 L1732.5 2975.8 L1733 2965.6 L1733.4 2955.7 L1733.9 2946.3 L1734.3 2937.2 L1734.8 2928.6 L1735.2 2920.6 L1735.7 2913 L1736.1 2906 L1736.6 2899.7 L1737 2893.9 L1737.5 2888.8 L1737.9 2884.4 L1738.4 2880.7 L1738.8 2877.8 L1739.3 2875.7 L1739.7 2874.4 L1740.2 2874 L1740.5 2874.4 L1740.8 2875.7 L1741.1 2877.8 L1741.4 2880.7 L1741.8 2884.4 L1742.1 2888.8 L1742.4 2893.9 L1742.7 2899.7 L1743 2906.1 L1743.3 2913.1 L1743.6 2920.6 L1743.9 2928.7 L1744.2 2937.3 L1744.5 2946.3 L1744.9 2955.8 L1745.2 2965.6 L1745.5 2975.9 L1745.8 2986.5 L1746.1 2997.5 L1746.4 3008.7 L1746.7 3020.2 L1747 3031.8 L1747.3 3043.6 L1747.7 3055.6 L1748 3067.7 L1748.3 3079.7 L1748.6 3091.8 L1748.9 3103.9 L1749.2 3116 L1749.5 3128 L1749.8 3140 L1750.1 3151.8 L1750.5 3163.4 L1750.8 3175.2 L1751.1 3186.6 L1751.4 3197.8 L1751.7 3208.7 L1752 3219.3 L1752.3 3229.5 L1752.6 3239.3 L1752.9 3248.7 L1753.2 3257.6 L1753.6 3267.6 L1754 3277.9 L1754.3 3288.5 L1754.7 3299.4 L1755 3310.6 L1755.4 3322 L1755.7 3333.6 L1756.1 3345.4 L1756.5 3357.2 L1756.8 3369 L1757.2 3380.9 L1757.5 3392.9 L1757.9 3404.8 L1758.2 3416.8 L1758.6 3428.8 L1758.9 3440.7 L1759.3 3452.5 L1759.7 3464.4 L1760 3476.1 L1760.4 3487.6 L1760.7 3498.9 L1761.1 3510 L1761.4 3520.8 L1761.8 3531.3 L1762.1 3541.5 L1762.5 3551.3 L1762.9 3560.8 L1763.2 3569.9 L1763.6 3578.5 L1763.9 3586.7 L1764.3 3594.3 L1764.6 3601.5 L1765 3608.1 L1765.4 3614.1 L1765.7 3619.6 L1766.1 3624.4 L1766.4 3628.5 L1766.8 3632 L1767.1 3634.7 L1767.5 3636.7 L1767.8 3637.9 L1768.2 3638.3 L1768.5 3637.9 L1768.9 3636.7 L1769.2 3634.7 L1769.5 3632 L1769.8 3628.5 L1770.2 3624.3 L1770.5 3619.5 L1770.8 3614.1 L1771.2 3608 L1771.5 3601.4 L1771.8 3594.2 L1772.1 3586.5 L1772.5 3578.3 L1772.8 3569.6 L1773.1 3560.6 L1773.5 3551.1 L1773.8 3541.2 L1774.1 3531 L1774.4 3520.5 L1774.8 3509.6 L1775.1 3498.5 L1775.4 3487.2 L1775.8 3475.7 L1776.1 3464 L1776.4 3452.1 L1776.7 3440.2 L1777.1 3428.3 L1777.4 3416.4 L1777.7 3404.4 L1778.1 3392.5 L1778.4 3380.5 L1778.7 3368.6 L1779 3356.8 L1779.4 3345 L1779.7 3333.3 L1780 3321.7 L1780.4 3310.3 L1780.7 3299.2 L1781 3288.3 L1781.3 3277.8 L1781.7 3267.5 L1782 3257.6 L1782.3 3247.5 L1782.7 3237.2 L1783 3226.8 L1783.3 3216.3 L1783.7 3205.8 L1784 3195.3"/>
</g>
<g font-size="63" fill="#000">
<g text-anchor="end">
<text transform="translate(362.5 2803.5) scale(1 1.055)">2500</text>
<text transform="translate(362.5 2898.3) scale(1 1.055)">2000</text>
<text transform="translate(362.5 2993.2) scale(1 1.055)">1500</text>
<text transform="translate(362.5 3088) scale(1 1.055)">1000</text>
<text transform="translate(362.5 3182.9) scale(1 1.055)">500</text>
<text transform="translate(362.5 3277.7) scale(1 1.055)">0</text>
<text transform="translate(362.5 3372.5) scale(1 1.055)">-500</text>
<text transform="translate(362.5 3467.4) scale(1 1.055)">-1000</text>
<text transform="translate(362.5 3562.2) scale(1 1.055)">-1500</text>
<text transform="translate(362.5 3657.1) scale(1 1.055)">-2000</text>
<text transform="translate(362.5 3751.9) scale(1 1.055)">-2500</text>
</g>
<g text-anchor="middle">
<text transform="translate(415.8 3353.5) scale(1 1.055)">0</text>
<text transform="translate(697.4 3353.5) scale(1 1.055)">50</text>
<text transform="translate(979.1 3353.5) scale(1 1.055)">100</text>
<text transform="translate(1260.7 3353.5) scale(1 1.055)">150</text>
<text transform="translate(1542.4 3353.5) scale(1 1.055)">200</text>
<text transform="translate(1824 3353.5) scale(1 1.055)">250</text>
<g font-size="63.8"><text dx="0 -2.3 -1.6 -2.9 0 2.9 0.9 2.9" transform="translate(1119.4 3800.2) scale(1 1.055)">Time (s)</text></g>
<text transform="translate(175 3258.4) rotate(-90) scale(1 1.055)">Load F (N)</text>
</g>
</g>
<g font-size="53.3" fill="#000">
<line x1="477.9" y1="2830.8" x2="578.8" y2="2830.8" stroke="#d60093" stroke-width="9.3" stroke-linecap="round"/>
<text transform="translate(591.5 2847.8) scale(1 1.055)">P7 (1 cycle)</text>
<line x1="908.5" y1="2830.8" x2="1009.9" y2="2830.8" stroke="#ffc000" stroke-width="9.3" stroke-linecap="round"/>
<text transform="translate(1018.5 2847.8) scale(1 1.055)">P8 (10 cycles)</text>
<line x1="1393.5" y1="2830.8" x2="1492.3" y2="2830.8" stroke="#0000ff" stroke-width="9.3" stroke-linecap="round"/>
<text transform="translate(1503 2847.8) scale(1 1.055)">P9 (20 cycles)</text>
</g>
<text class="cap" x="992.5" y="3955" text-anchor="middle" font-size="85">(<tspan font-weight="bold">c</tspan>)</text>
</g>
</svg></body></html>
